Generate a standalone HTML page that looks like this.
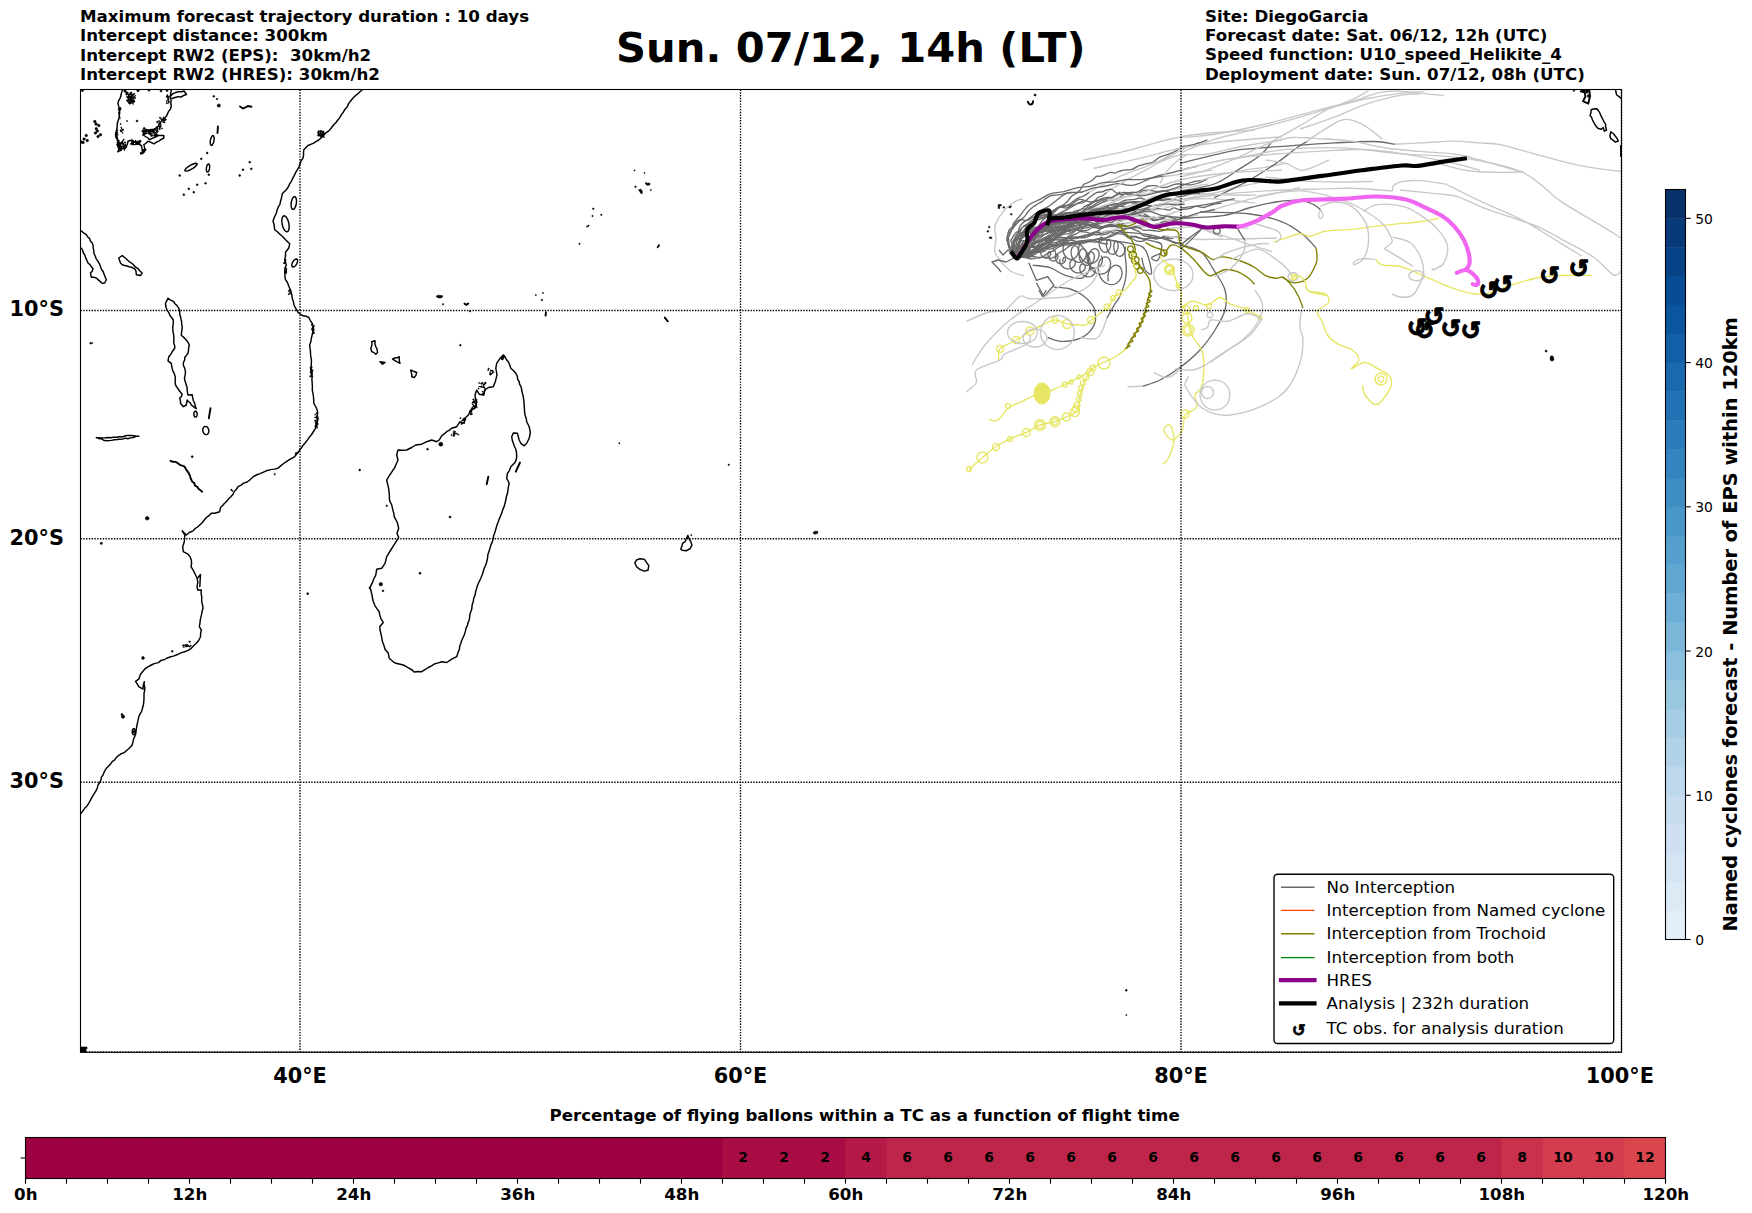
<!DOCTYPE html>
<html lang="en"><head><meta charset="utf-8"><title>Sun. 07/12, 14h (LT)</title>
<style>
html,body{margin:0;padding:0;background:#fff;}
body{width:1752px;height:1213px;overflow:hidden;position:relative;}
svg{position:absolute;left:0;top:0;display:block;}
text{font-family:"DejaVu Sans","Liberation Sans",sans-serif;fill:#000;}
.b{font-weight:bold;}
.h{font-size:16.67px;font-weight:bold;}
.tk{font-size:20.83px;font-weight:bold;}
.lg{font-size:16.67px;}
.cb{font-size:13.89px;}
.cv{font-size:13.89px;font-weight:bold;text-anchor:middle;}
.bt{font-size:16.67px;font-weight:bold;text-anchor:middle;}
.coast{fill:none;stroke:#000;stroke-width:1.45;stroke-linejoin:round;stroke-linecap:round;}
.coast3{fill:none;stroke:#000;stroke-width:1.1;stroke-linejoin:round;}
.coast2{fill:none;stroke:#000;stroke-width:1.9;stroke-linecap:round;}
.isl{fill:#000;stroke:#000;stroke-width:0.6;}
.grid{fill:none;stroke:#000;stroke-width:1.39;stroke-dasharray:1.39 1.39;}
.dg{fill:none;stroke:#696969;stroke-width:1.32;stroke-linejoin:round;}
.lgy{fill:none;stroke:#c8c8c8;stroke-width:1.38;stroke-linejoin:round;}
.ol{fill:none;stroke:#808000;stroke-width:1.38;stroke-linejoin:round;}
.ye{fill:none;stroke:#e6e664;stroke-width:1.38;stroke-linejoin:round;}
.yef{fill:#e6e664;stroke:#e6e664;stroke-width:1;}
.hres{fill:none;stroke:#8b008b;stroke-width:4.17;stroke-linejoin:round;stroke-linecap:round;}
.hres2{fill:none;stroke:#f066f0;stroke-width:4.17;stroke-linejoin:round;stroke-linecap:round;}
.ana{fill:none;stroke:#000;stroke-width:4.17;stroke-linejoin:round;stroke-linecap:square;}
.tc{font-size:24.8px;font-weight:bold;text-anchor:middle;stroke:#000;stroke-width:1px;stroke-linejoin:miter;}
</style></head><body>
<svg width="1752" height="1213" viewBox="0 0 1752 1213">
<rect x="0" y="0" width="1752" height="1213" fill="#fff"/>
<text class="h" x="80" y="22.00" xml:space="preserve">Maximum forecast trajectory duration : 10 days</text>
<text class="h" x="80" y="41.33" xml:space="preserve">Intercept distance: 300km</text>
<text class="h" x="80" y="60.66" xml:space="preserve">Intercept RW2 (EPS):  30km/h2</text>
<text class="h" x="80" y="79.99" xml:space="preserve">Intercept RW2 (HRES): 30km/h2</text>
<text class="h" x="1205" y="22.00" xml:space="preserve">Site: DiegoGarcia</text>
<text class="h" x="1205" y="41.33" xml:space="preserve">Forecast date: Sat. 06/12, 12h (UTC)</text>
<text class="h" x="1205" y="59.66" xml:space="preserve">Speed function: U10_speed_Helikite_4</text>
<text class="h" x="1205" y="79.99" xml:space="preserve">Deployment date: Sun. 07/12, 08h (UTC)</text>
<text class="b" x="850.8" y="62.2" text-anchor="middle" font-size="41.67">Sun. 07/12, 14h (LT)</text>
<defs><clipPath id="axclip"><rect x="80.5" y="89.5" width="1541.0" height="962.8"/></clipPath></defs>
<g clip-path="url(#axclip)">
<polyline class="coast" points="364.5,88.0 363.0,89.3 360.2,91.5 357.9,93.8 355.6,95.4 353.0,98.0 350.4,101.3 348.6,103.6 347.3,106.7 344.7,109.7 343.4,112.2 341.5,114.4 339.8,117.6 338.0,119.7 335.8,122.7 333.7,124.8 331.3,128.0 328.8,130.9 325.6,133.1 323.0,136.3 321.1,137.9 318.8,140.0 316.3,141.3 313.7,143.1 310.7,144.4 308.0,145.5 303.8,149.7 303.5,152.9 303.6,154.8 303.0,158.0 301.0,161.1 299.7,164.7 298.5,167.9 296.3,171.3 294.8,174.4 293.0,177.9 291.3,181.3 289.5,184.2 288.1,187.3 286.3,189.7 282.2,193.8 281.5,198.0 280.5,201.3 279.8,204.6 278.5,206.6 277.2,209.7 276.3,213.5 274.7,216.3 273.0,221.3 274.0,224.2 274.3,226.6 274.7,229.7 277.9,232.3 280.5,234.7 282.8,236.8 285.5,239.7 289.7,243.8 288.8,248.0 285.5,252.2 285.5,256.4 284.7,259.7 286.3,264.7 285.1,268.3 284.7,271.3 284.9,273.8 285.0,277.2 285.5,279.7 287.5,282.5 288.8,286.3 290.5,290.0 291.2,292.3 291.9,295.4 292.2,298.3 293.4,301.6 293.9,304.4 294.7,306.7 296.2,309.2 298.0,312.5 303.0,315.8 306.0,316.2 308.8,317.5 310.2,320.3 312.2,323.3 313.1,326.3 313.8,330.0 312.5,333.1 311.9,336.0 311.3,338.3 310.9,341.5 309.7,345.0 309.9,347.8 310.4,350.6 310.5,353.3 310.8,356.8 311.5,360.0 311.3,363.3 311.2,366.9 311.0,369.8 311.3,373.3 312.1,376.7 311.9,379.5 312.2,383.3 312.4,386.7 312.3,390.1 313.0,393.3 313.4,396.2 313.7,399.9 313.8,403.3 315.7,406.5 317.2,410.0 317.7,413.0 317.3,415.1 318.0,418.3 317.3,422.1 316.1,424.9 315.5,428.3 313.5,431.5 311.3,435.0 309.2,437.3 307.3,440.1 305.5,442.5 303.4,444.9 301.9,447.0 299.7,450.0 298.1,452.5 296.2,454.2 294.7,456.7 292.2,458.1 288.8,460.0 286.3,461.7 283.7,463.5 280.6,465.9 278.0,468.3 274.4,469.1 270.6,469.6 266.3,470.8 262.8,472.4 260.0,473.6 256.3,475.0 253.8,476.3 251.9,478.0 249.7,480.0 247.1,482.0 243.5,483.1 241.2,485.2 238.0,486.7 236.6,489.0 234.3,491.5 233.0,494.2 231.1,496.5 228.4,499.1 226.3,501.7 224.3,503.5 222.9,505.2 220.5,507.5 219.7,511.7 216.4,512.7 214.5,513.3 211.3,513.3 208.7,515.9 206.3,517.5 204.5,519.7 202.1,522.8 199.7,525.0 197.6,527.0 195.0,528.7 193.0,530.8 189.4,532.5 186.3,535.0 182.2,530.8 184.7,535.0 184.6,538.1 184.3,541.7 182.7,546.7 183.3,551.7 188.0,554.2 190.0,556.6 191.3,560.0 191.6,563.5 191.0,566.7 193.3,570.4 194.7,573.3 197.2,578.3 197.8,582.3 197.0,586.3 197.7,590.0 201.3,590.0 201.1,593.1 201.7,596.7 201.7,600.0 202.0,603.2 202.7,605.4 203.0,608.3 202.1,611.5 201.6,614.2 201.0,616.7 200.3,619.7 199.9,623.7 199.3,626.7 201.3,630.0 200.6,633.6 200.5,636.7 198.8,640.3 196.3,643.3 194.1,645.3 191.3,648.3 188.1,650.4 184.7,651.7 181.4,652.6 178.9,653.9 176.3,655.0 173.3,656.1 170.8,656.8 167.2,658.0 164.7,659.5 161.0,660.4 158.5,662.6 154.2,663.6 151.3,665.0 147.8,666.9 144.7,669.2 142.5,671.8 140.5,674.2 138.8,679.2 135.5,681.3 137.2,683.9 138.8,686.7 143.0,689.2 143.3,685.3 144.3,681.7 144.1,684.5 144.8,687.1 144.7,690.0 144.0,693.6 144.0,697.9 143.8,701.7 143.3,705.3 142.2,709.2 141.4,711.8 139.9,714.1 138.8,716.7 138.1,720.2 137.3,723.6 136.7,726.7 136.3,729.2 135.9,732.4 135.5,735.0 133.8,738.3 133.0,741.7 132.2,745.0 130.2,747.3 128.7,748.7 126.3,750.8 124.2,752.6 121.1,753.8 118.8,755.3 116.2,757.7 114.6,760.0 112.2,761.7 110.5,764.1 108.5,766.2 106.3,768.3 104.3,771.7 103.0,775.0 101.4,777.1 101.1,779.5 99.7,782.5 97.9,785.2 97.3,788.3 95.5,791.7 93.1,795.4 91.3,798.7 89.7,801.7 88.2,804.2 86.8,806.2 84.7,808.3 82.9,810.8 80.5,814.2"/>
<polyline class="coast" points="231.0,489.5 232.5,491.0"/>
<path class="isl" d="M322.3,133.9a0.8575789639290616,0.8575789639290616 0 1,0 1.7151579278581233,0a0.8575789639290616,0.8575789639290616 0 1,0 -1.7151579278581233,0z"/>
<path class="isl" d="M317.6,135.3a0.9672811722506567,0.9672811722506567 0 1,0 1.9345623445013134,0a0.9672811722506567,0.9672811722506567 0 1,0 -1.9345623445013134,0z"/>
<path class="isl" d="M317.4,132.7a0.7819886735842458,0.7819886735842458 0 1,0 1.5639773471684917,0a0.7819886735842458,0.7819886735842458 0 1,0 -1.5639773471684917,0z"/>
<path class="isl" d="M323.0,132.3a0.589886220715839,0.589886220715839 0 1,0 1.179772441431678,0a0.589886220715839,0.589886220715839 0 1,0 -1.179772441431678,0z"/>
<path class="isl" d="M318.7,134.5a0.8767716547199476,0.8767716547199476 0 1,0 1.7535433094398951,0a0.8767716547199476,0.8767716547199476 0 1,0 -1.7535433094398951,0z"/>
<path class="isl" d="M319.9,133.0a0.6983198297722816,0.6983198297722816 0 1,0 1.3966396595445632,0a0.6983198297722816,0.6983198297722816 0 1,0 -1.3966396595445632,0z"/>
<path class="isl" d="M319.7,133.3a0.5416302434180849,0.5416302434180849 0 1,0 1.0832604868361697,0a0.5416302434180849,0.5416302434180849 0 1,0 -1.0832604868361697,0z"/>
<path class="isl" d="M320.6,136.6a0.7064156861737472,0.7064156861737472 0 1,0 1.4128313723474943,0a0.7064156861737472,0.7064156861737472 0 1,0 -1.4128313723474943,0z"/>
<path class="isl" d="M322.2,131.8a0.8454190551057641,0.8454190551057641 0 1,0 1.6908381102115282,0a0.8454190551057641,0.8454190551057641 0 1,0 -1.6908381102115282,0z"/>
<path class="isl" d="M322.3,134.8a0.758546038290707,0.758546038290707 0 1,0 1.517092076581414,0a0.758546038290707,0.758546038290707 0 1,0 -1.517092076581414,0z"/>
<path class="isl" d="M320.2,134.7a0.9487006473822712,0.9487006473822712 0 1,0 1.8974012947645424,0a0.9487006473822712,0.9487006473822712 0 1,0 -1.8974012947645424,0z"/>
<path class="isl" d="M318.0,131.4a0.874077403856446,0.874077403856446 0 1,0 1.748154807712892,0a0.874077403856446,0.874077403856446 0 1,0 -1.748154807712892,0z"/>
<path class="isl" d="M323.5,133.9a0.7215267627927222,0.7215267627927222 0 1,0 1.4430535255854444,0a0.7215267627927222,0.7215267627927222 0 1,0 -1.4430535255854444,0z"/>
<path class="isl" d="M322.2,131.9a0.6336786812247795,0.6336786812247795 0 1,0 1.267357362449559,0a0.6336786812247795,0.6336786812247795 0 1,0 -1.267357362449559,0z"/>
<path class="isl" d="M318.5,134.3a0.6574237642243101,0.6574237642243101 0 1,0 1.3148475284486203,0a0.6574237642243101,0.6574237642243101 0 1,0 -1.3148475284486203,0z"/>
<path class="isl" d="M318.4,134.9a0.9767127773893447,0.9767127773893447 0 1,0 1.9534255547786894,0a0.9767127773893447,0.9767127773893447 0 1,0 -1.9534255547786894,0z"/>
<polyline class="coast3" points="320.2,133.2 320.9,130.2 322.2,132.2 322.3,132.7 322.0,135.0 321.6,136.1 321.4,134.1 324.5,137.3 320.0,136.0 320.6,135.9 319.7,134.0 318.5,135.3 320.1,134.0 318.2,134.3 319.1,134.0 318.7,134.1"/>
<polyline class="coast" points="296.4,203.4 295.7,206.1 294.7,208.3 293.5,209.4 292.3,209.2 291.5,207.8 291.1,205.5 291.2,202.6 291.9,199.9 292.9,197.7 294.1,196.6 295.3,196.8 296.1,198.2 296.5,200.5 296.4,203.4"/>
<polyline class="coast" points="288.8,223.1 289.2,226.6 288.9,229.6 287.9,231.5 286.4,231.8 284.8,230.5 283.2,227.9 282.2,224.5 281.8,221.0 282.1,218.0 283.1,216.1 284.6,215.8 286.2,217.1 287.8,219.7 288.8,223.1"/>
<polyline class="coast" points="296.6,264.1 295.4,265.7 294.1,266.7 292.9,267.0 292.1,266.6 291.8,265.4 292.0,263.7 292.8,261.9 294.0,260.3 295.3,259.3 296.5,259.0 297.3,259.4 297.6,260.6 297.4,262.3 296.6,264.1"/>
<polyline class="coast" points="197.7,578.0 200.5,574.5 199.8,586.5"/>
<path class="isl" d="M183.2,647.0a0.5875290163668816,0.5875290163668816 0 1,0 1.1750580327337632,0a0.5875290163668816,0.5875290163668816 0 1,0 -1.1750580327337632,0z"/>
<path class="isl" d="M185.2,646.2a0.7026522085144565,0.7026522085144565 0 1,0 1.405304417028913,0a0.7026522085144565,0.7026522085144565 0 1,0 -1.405304417028913,0z"/>
<path class="isl" d="M182.4,645.5a0.6308664024912023,0.6308664024912023 0 1,0 1.2617328049824046,0a0.6308664024912023,0.6308664024912023 0 1,0 -1.2617328049824046,0z"/>
<path class="isl" d="M186.2,645.1a0.6755316184663085,0.6755316184663085 0 1,0 1.351063236932617,0a0.6755316184663085,0.6755316184663085 0 1,0 -1.351063236932617,0z"/>
<path class="isl" d="M190.0,645.7a0.6633069604310697,0.6633069604310697 0 1,0 1.3266139208621395,0a0.6633069604310697,0.6633069604310697 0 1,0 -1.3266139208621395,0z"/>
<path class="isl" d="M183.3,645.3a0.6996299157274394,0.6996299157274394 0 1,0 1.3992598314548788,0a0.6996299157274394,0.6996299157274394 0 1,0 -1.3992598314548788,0z"/>
<polyline class="coast3" points="185.0,644.9 187.5,644.8 190.0,647.0 187.7,645.8 188.7,645.8 186.2,647.0"/>
<path class="isl" d="M171.3,651.3a0.9,0.9 0 1,0 1.8,0a0.9,0.9 0 1,0 -1.8,0z"/>
<path class="isl" d="M188.9,641.7a0.8,0.8 0 1,0 1.6,0a0.8,0.8 0 1,0 -1.6,0z"/>
<path class="isl" d="M141.6,658.0a1.4,1.4 0 1,0 2.8,0a1.4,1.4 0 1,0 -2.8,0z"/>
<path class="isl" d="M121.4,716.7a1.6,1.6 0 1,0 3.2,0a1.6,1.6 0 1,0 -3.2,0z"/>
<path class="isl" d="M121.0,714.5a1.0,1.0 0 1,0 2.0,0a1.0,1.0 0 1,0 -2.0,0z"/>
<polyline class="coast" points="135.3,731.7 135.2,733.1 134.7,734.2 134.1,734.8 133.5,734.8 132.9,734.2 132.4,733.1 132.3,731.7 132.4,730.3 132.9,729.2 133.5,728.6 134.1,728.6 134.7,729.2 135.2,730.3 135.3,731.7"/>
<path class="isl" d="M132.6,731.7a1.2,1.2 0 1,0 2.4,0a1.2,1.2 0 1,0 -2.4,0z"/>
<path class="isl" d="M312.1,328.9a0.6436186616039627,0.6436186616039627 0 1,0 1.2872373232079255,0a0.6436186616039627,0.6436186616039627 0 1,0 -1.2872373232079255,0z"/>
<path class="isl" d="M312.8,331.9a0.5363959575382387,0.5363959575382387 0 1,0 1.0727919150764773,0a0.5363959575382387,0.5363959575382387 0 1,0 -1.0727919150764773,0z"/>
<path class="isl" d="M312.7,332.8a0.5358208840650012,0.5358208840650012 0 1,0 1.0716417681300023,0a0.5358208840650012,0.5358208840650012 0 1,0 -1.0716417681300023,0z"/>
<path class="isl" d="M313.4,333.2a0.5246261642995712,0.5246261642995712 0 1,0 1.0492523285991424,0a0.5246261642995712,0.5246261642995712 0 1,0 -1.0492523285991424,0z"/>
<path class="isl" d="M313.5,326.0a0.5663059825375344,0.5663059825375344 0 1,0 1.1326119650750688,0a0.5663059825375344,0.5663059825375344 0 1,0 -1.1326119650750688,0z"/>
<path class="isl" d="M312.9,332.4a0.6109847654410694,0.6109847654410694 0 1,0 1.2219695308821388,0a0.6109847654410694,0.6109847654410694 0 1,0 -1.2219695308821388,0z"/>
<path class="isl" d="M312.7,330.4a0.5624885451528601,0.5624885451528601 0 1,0 1.1249770903057201,0a0.5624885451528601,0.5624885451528601 0 1,0 -1.1249770903057201,0z"/>
<path class="isl" d="M311.2,325.0a0.6431670877057863,0.6431670877057863 0 1,0 1.2863341754115727,0a0.6431670877057863,0.6431670877057863 0 1,0 -1.2863341754115727,0z"/>
<polyline class="coast3" points="312.3,330.9 312.9,327.9 311.6,329.5 312.8,326.8 312.9,330.3 312.8,327.9 312.7,334.3 312.4,333.9"/>
<path class="isl" d="M310.1,367.6a0.5833310673686104,0.5833310673686104 0 1,0 1.1666621347372208,0a0.5833310673686104,0.5833310673686104 0 1,0 -1.1666621347372208,0z"/>
<path class="isl" d="M311.5,376.4a0.6497400837070885,0.6497400837070885 0 1,0 1.299480167414177,0a0.6497400837070885,0.6497400837070885 0 1,0 -1.299480167414177,0z"/>
<path class="isl" d="M311.2,367.1a0.5796838846775825,0.5796838846775825 0 1,0 1.159367769355165,0a0.5796838846775825,0.5796838846775825 0 1,0 -1.159367769355165,0z"/>
<path class="isl" d="M310.1,372.4a0.6136736410541667,0.6136736410541667 0 1,0 1.2273472821083333,0a0.6136736410541667,0.6136736410541667 0 1,0 -1.2273472821083333,0z"/>
<path class="isl" d="M310.1,368.5a0.6563325886324305,0.6563325886324305 0 1,0 1.312665177264861,0a0.6563325886324305,0.6563325886324305 0 1,0 -1.312665177264861,0z"/>
<path class="isl" d="M309.6,376.2a0.678240022670071,0.678240022670071 0 1,0 1.356480045340142,0a0.678240022670071,0.678240022670071 0 1,0 -1.356480045340142,0z"/>
<path class="isl" d="M312.0,370.4a0.6105212806257067,0.6105212806257067 0 1,0 1.2210425612514133,0a0.6105212806257067,0.6105212806257067 0 1,0 -1.2210425612514133,0z"/>
<path class="isl" d="M311.0,373.9a0.6953953348533486,0.6953953348533486 0 1,0 1.3907906697066972,0a0.6953953348533486,0.6953953348533486 0 1,0 -1.3907906697066972,0z"/>
<polyline class="coast3" points="310.8,371.5 310.7,368.8 311.9,369.0 311.3,369.4 311.1,368.7 312.5,372.1 312.2,372.9 311.8,375.8"/>
<path class="isl" d="M314.6,417.5a0.5466827578931359,0.5466827578931359 0 1,0 1.0933655157862718,0a0.5466827578931359,0.5466827578931359 0 1,0 -1.0933655157862718,0z"/>
<path class="isl" d="M314.5,420.7a0.6859645148212266,0.6859645148212266 0 1,0 1.3719290296424531,0a0.6859645148212266,0.6859645148212266 0 1,0 -1.3719290296424531,0z"/>
<path class="isl" d="M315.3,426.7a0.6389319430193563,0.6389319430193563 0 1,0 1.2778638860387126,0a0.6389319430193563,0.6389319430193563 0 1,0 -1.2778638860387126,0z"/>
<path class="isl" d="M314.8,426.4a0.6202251848211096,0.6202251848211096 0 1,0 1.240450369642219,0a0.6202251848211096,0.6202251848211096 0 1,0 -1.240450369642219,0z"/>
<path class="isl" d="M317.1,423.9a0.6479439303191551,0.6479439303191551 0 1,0 1.2958878606383102,0a0.6479439303191551,0.6479439303191551 0 1,0 -1.2958878606383102,0z"/>
<path class="isl" d="M315.3,425.5a0.6863479928126001,0.6863479928126001 0 1,0 1.3726959856252001,0a0.6863479928126001,0.6863479928126001 0 1,0 -1.3726959856252001,0z"/>
<path class="isl" d="M316.9,418.9a0.6513698849393269,0.6513698849393269 0 1,0 1.3027397698786538,0a0.6513698849393269,0.6513698849393269 0 1,0 -1.3027397698786538,0z"/>
<path class="isl" d="M315.9,413.0a0.5085403120644035,0.5085403120644035 0 1,0 1.017080624128807,0a0.5085403120644035,0.5085403120644035 0 1,0 -1.017080624128807,0z"/>
<path class="isl" d="M314.7,414.6a0.5321644520632836,0.5321644520632836 0 1,0 1.064328904126567,0a0.5321644520632836,0.5321644520632836 0 1,0 -1.064328904126567,0z"/>
<path class="isl" d="M315.9,423.6a0.6074871388849403,0.6074871388849403 0 1,0 1.2149742777698807,0a0.6074871388849403,0.6074871388849403 0 1,0 -1.2149742777698807,0z"/>
<polyline class="coast3" points="316.1,418.3 316.4,416.0 316.6,417.7 316.5,415.7 317.0,420.0 317.1,428.3 316.2,424.5 315.9,423.8 315.6,422.9 316.0,420.7"/>
<path class="isl" d="M296.5,453.2a0.6406886528640979,0.6406886528640979 0 1,0 1.2813773057281959,0a0.6406886528640979,0.6406886528640979 0 1,0 -1.2813773057281959,0z"/>
<path class="isl" d="M295.4,453.2a0.5793217666346446,0.5793217666346446 0 1,0 1.1586435332692893,0a0.5793217666346446,0.5793217666346446 0 1,0 -1.1586435332692893,0z"/>
<path class="isl" d="M295.3,454.9a0.5437820974611681,0.5437820974611681 0 1,0 1.0875641949223362,0a0.5437820974611681,0.5437820974611681 0 1,0 -1.0875641949223362,0z"/>
<path class="isl" d="M295.5,453.4a0.5329518278434544,0.5329518278434544 0 1,0 1.0659036556869088,0a0.5329518278434544,0.5329518278434544 0 1,0 -1.0659036556869088,0z"/>
<polyline class="coast3" points="297.2,452.9 296.8,453.0 297.5,452.7 297.5,453.7"/>
<path class="isl" d="M289.6,293.8a0.5344739141442212,0.5344739141442212 0 1,0 1.0689478282884424,0a0.5344739141442212,0.5344739141442212 0 1,0 -1.0689478282884424,0z"/>
<path class="isl" d="M288.1,294.1a0.5969267361532036,0.5969267361532036 0 1,0 1.1938534723064071,0a0.5969267361532036,0.5969267361532036 0 1,0 -1.1938534723064071,0z"/>
<path class="isl" d="M289.2,290.0a0.5030301702624801,0.5030301702624801 0 1,0 1.0060603405249602,0a0.5030301702624801,0.5030301702624801 0 1,0 -1.0060603405249602,0z"/>
<path class="isl" d="M288.2,291.0a0.503660599501316,0.503660599501316 0 1,0 1.007321199002632,0a0.503660599501316,0.503660599501316 0 1,0 -1.007321199002632,0z"/>
<polyline class="coast3" points="289.8,292.4 289.9,290.0 290.0,292.7 290.2,293.7"/>
<path class="isl" d="M285.1,259.9a0.5293433533490528,0.5293433533490528 0 1,0 1.0586867066981056,0a0.5293433533490528,0.5293433533490528 0 1,0 -1.0586867066981056,0z"/>
<path class="isl" d="M284.9,260.1a0.538986340572881,0.538986340572881 0 1,0 1.077972681145762,0a0.538986340572881,0.538986340572881 0 1,0 -1.077972681145762,0z"/>
<path class="isl" d="M283.8,262.9a0.5928519400975147,0.5928519400975147 0 1,0 1.1857038801950295,0a0.5928519400975147,0.5928519400975147 0 1,0 -1.1857038801950295,0z"/>
<path class="isl" d="M283.5,263.2a0.5733951109542429,0.5733951109542429 0 1,0 1.1467902219084858,0a0.5733951109542429,0.5733951109542429 0 1,0 -1.1467902219084858,0z"/>
<polyline class="coast3" points="285.0,260.7 284.8,260.7 285.1,261.5 284.4,262.4"/>
<path class="isl" d="M285.9,269.1a0.5487113923152787,0.5487113923152787 0 1,0 1.0974227846305573,0a0.5487113923152787,0.5487113923152787 0 1,0 -1.0974227846305573,0z"/>
<path class="isl" d="M284.8,271.7a0.5022953643074604,0.5022953643074604 0 1,0 1.0045907286149207,0a0.5022953643074604,0.5022953643074604 0 1,0 -1.0045907286149207,0z"/>
<path class="isl" d="M285.4,272.1a0.5677330975686022,0.5677330975686022 0 1,0 1.1354661951372045,0a0.5677330975686022,0.5677330975686022 0 1,0 -1.1354661951372045,0z"/>
<path class="isl" d="M284.6,267.9a0.5843654951463223,0.5843654951463223 0 1,0 1.1687309902926446,0a0.5843654951463223,0.5843654951463223 0 1,0 -1.1687309902926446,0z"/>
<path class="isl" d="M285.7,273.0a0.5872258015335938,0.5872258015335938 0 1,0 1.1744516030671877,0a0.5872258015335938,0.5872258015335938 0 1,0 -1.1744516030671877,0z"/>
<polyline class="coast3" points="286.0,268.3 286.5,271.5 285.0,272.8 285.0,271.3 285.9,270.5"/>
<polyline class="coast2" points="170.5,460.8 172.6,461.8 175.6,461.9 178.0,463.3 179.9,464.9 182.2,465.6 184.7,466.7 186.0,469.2 187.5,471.4 188.8,473.3 190.0,475.8 190.7,478.4 192.2,481.7 194.2,482.9 195.0,485.5 197.2,486.7 198.5,488.8 200.1,490.0 202.2,491.7"/>
<polyline class="coast" points="123.0,89.0 121.7,92.2 121.1,94.8 120.3,97.8 118.8,100.3 118.0,103.0 118.4,105.1 119.2,108.1 119.6,110.2 119.7,113.0 119.2,115.6 119.0,117.9 118.0,121.0 117.2,123.7 117.2,126.3 116.9,129.0 116.2,132.0 115.5,134.7 116.0,137.3 117.7,140.1 118.0,143.0 118.5,144.8 118.8,147.1 119.7,149.7 122.0,146.0 125.0,148.5 126.5,146.3 127.4,144.2 128.0,141.3 132.0,140.0 134.3,142.0 136.3,143.0 138.8,144.2 141.3,145.5 142.1,148.7 142.4,151.0 142.2,153.8 144.7,151.3 144.7,149.0 144.6,147.4 143.8,144.7 145.7,143.5 148.0,141.3 150.6,142.1 153.8,143.8 156.5,142.1 158.8,141.1 160.8,139.7 163.8,138.0 163.8,135.5 160.7,135.4 158.0,135.5 155.1,137.2 152.7,138.1 149.7,139.7 148.0,138.0 145.5,136.5 143.8,135.5 143.8,131.3 146.7,130.0 149.7,129.7 151.5,129.4 154.3,129.1 156.3,128.0 158.5,126.2 159.5,123.2 161.3,121.3 162.8,119.6 164.7,118.0 166.3,116.3 167.4,114.2 168.6,111.3 170.5,109.1 171.3,106.3 170.8,103.3 171.1,100.2 170.5,98.0 170.4,95.0 171.1,91.6 171.3,89.0"/>
<polyline class="coast" points="171.0,95.5 173.0,93.6 176.0,92.3 179.0,91.8 181.9,91.7 184.0,91.0 186.5,94.5 184.3,95.2 181.0,97.0 178.2,96.6 176.0,97.3 172.0,98.5"/>
<path class="isl" d="M128.8,95.9a0.5358838664177115,0.5358838664177115 0 1,0 1.071767732835423,0a0.5358838664177115,0.5358838664177115 0 1,0 -1.071767732835423,0z"/>
<path class="isl" d="M129.7,93.4a0.7181306353450209,0.7181306353450209 0 1,0 1.4362612706900417,0a0.7181306353450209,0.7181306353450209 0 1,0 -1.4362612706900417,0z"/>
<path class="isl" d="M126.7,100.5a0.7927530378552186,0.7927530378552186 0 1,0 1.5855060757104371,0a0.7927530378552186,0.7927530378552186 0 1,0 -1.5855060757104371,0z"/>
<path class="isl" d="M126.8,92.9a0.8006941529074354,0.8006941529074354 0 1,0 1.6013883058148708,0a0.8006941529074354,0.8006941529074354 0 1,0 -1.6013883058148708,0z"/>
<path class="isl" d="M130.1,99.3a1.1387865754437871,1.1387865754437871 0 1,0 2.2775731508875743,0a1.1387865754437871,1.1387865754437871 0 1,0 -2.2775731508875743,0z"/>
<path class="isl" d="M132.5,95.0a0.5949658007961576,0.5949658007961576 0 1,0 1.1899316015923151,0a0.5949658007961576,0.5949658007961576 0 1,0 -1.1899316015923151,0z"/>
<path class="isl" d="M131.7,100.4a0.856181131492576,0.856181131492576 0 1,0 1.712362262985152,0a0.856181131492576,0.856181131492576 0 1,0 -1.712362262985152,0z"/>
<path class="isl" d="M132.6,98.0a0.6957153492542567,0.6957153492542567 0 1,0 1.3914306985085134,0a0.6957153492542567,0.6957153492542567 0 1,0 -1.3914306985085134,0z"/>
<path class="isl" d="M125.7,92.7a0.9501652810148733,0.9501652810148733 0 1,0 1.9003305620297466,0a0.9501652810148733,0.9501652810148733 0 1,0 -1.9003305620297466,0z"/>
<path class="isl" d="M133.1,101.6a0.8272408557295443,0.8272408557295443 0 1,0 1.6544817114590886,0a0.8272408557295443,0.8272408557295443 0 1,0 -1.6544817114590886,0z"/>
<path class="isl" d="M130.6,101.8a1.0698066099302674,1.0698066099302674 0 1,0 2.139613219860535,0a1.0698066099302674,1.0698066099302674 0 1,0 -2.139613219860535,0z"/>
<path class="isl" d="M130.2,96.6a0.8628866832144954,0.8628866832144954 0 1,0 1.7257733664289907,0a0.8628866832144954,0.8628866832144954 0 1,0 -1.7257733664289907,0z"/>
<path class="isl" d="M125.7,94.3a0.978651773912437,0.978651773912437 0 1,0 1.957303547824874,0a0.978651773912437,0.978651773912437 0 1,0 -1.957303547824874,0z"/>
<path class="isl" d="M134.1,98.0a0.785701933815492,0.785701933815492 0 1,0 1.571403867630984,0a0.785701933815492,0.785701933815492 0 1,0 -1.571403867630984,0z"/>
<path class="isl" d="M127.5,97.0a1.0620623430527876,1.0620623430527876 0 1,0 2.124124686105575,0a1.0620623430527876,1.0620623430527876 0 1,0 -2.124124686105575,0z"/>
<path class="isl" d="M128.9,102.1a0.6087134287063429,0.6087134287063429 0 1,0 1.2174268574126859,0a0.6087134287063429,0.6087134287063429 0 1,0 -1.2174268574126859,0z"/>
<path class="isl" d="M127.4,97.7a0.7883135314278333,0.7883135314278333 0 1,0 1.5766270628556667,0a0.7883135314278333,0.7883135314278333 0 1,0 -1.5766270628556667,0z"/>
<path class="isl" d="M132.4,100.8a1.1519281157095143,1.1519281157095143 0 1,0 2.3038562314190285,0a1.1519281157095143,1.1519281157095143 0 1,0 -2.3038562314190285,0z"/>
<path class="isl" d="M130.2,92.8a0.9021560856581516,0.9021560856581516 0 1,0 1.8043121713163033,0a0.9021560856581516,0.9021560856581516 0 1,0 -1.8043121713163033,0z"/>
<path class="isl" d="M129.8,97.4a0.6958946485062253,0.6958946485062253 0 1,0 1.3917892970124506,0a0.6958946485062253,0.6958946485062253 0 1,0 -1.3917892970124506,0z"/>
<path class="isl" d="M131.5,101.6a0.5717202321039926,0.5717202321039926 0 1,0 1.1434404642079852,0a0.5717202321039926,0.5717202321039926 0 1,0 -1.1434404642079852,0z"/>
<path class="isl" d="M130.8,96.2a0.8603550876744244,0.8603550876744244 0 1,0 1.7207101753488487,0a0.8603550876744244,0.8603550876744244 0 1,0 -1.7207101753488487,0z"/>
<polyline class="coast3" points="126.1,96.9 129.3,97.3 129.0,96.3 128.4,94.4 131.8,94.6 134.8,93.8 130.1,97.3 131.3,96.8 131.7,98.3 135.4,95.7 131.5,98.3 133.3,104.2 130.3,98.4 129.7,98.7 130.5,103.5 133.2,101.6 128.8,103.4 129.2,99.2 126.7,100.5 130.0,104.2 129.0,99.7 128.1,97.7"/>
<path class="isl" d="M155.4,135.5a1.1859465527152317,1.1859465527152317 0 1,0 2.3718931054304635,0a1.1859465527152317,1.1859465527152317 0 1,0 -2.3718931054304635,0z"/>
<path class="isl" d="M145.0,131.0a1.1655863279588705,1.1655863279588705 0 1,0 2.331172655917741,0a1.1655863279588705,1.1655863279588705 0 1,0 -2.331172655917741,0z"/>
<path class="isl" d="M149.1,133.4a0.7192902612008447,0.7192902612008447 0 1,0 1.4385805224016894,0a0.7192902612008447,0.7192902612008447 0 1,0 -1.4385805224016894,0z"/>
<path class="isl" d="M141.8,130.9a1.0237231895166865,1.0237231895166865 0 1,0 2.047446379033373,0a1.0237231895166865,1.0237231895166865 0 1,0 -2.047446379033373,0z"/>
<path class="isl" d="M153.4,132.5a0.8248477196438759,0.8248477196438759 0 1,0 1.6496954392877519,0a0.8248477196438759,0.8248477196438759 0 1,0 -1.6496954392877519,0z"/>
<path class="isl" d="M149.7,131.6a0.8741051466716414,0.8741051466716414 0 1,0 1.7482102933432828,0a0.8741051466716414,0.8741051466716414 0 1,0 -1.7482102933432828,0z"/>
<path class="isl" d="M154.1,129.9a0.9160175860442576,0.9160175860442576 0 1,0 1.8320351720885153,0a0.9160175860442576,0.9160175860442576 0 1,0 -1.8320351720885153,0z"/>
<path class="isl" d="M155.9,134.4a0.625619923401735,0.625619923401735 0 1,0 1.25123984680347,0a0.625619923401735,0.625619923401735 0 1,0 -1.25123984680347,0z"/>
<path class="isl" d="M156.3,134.4a0.6175428131359146,0.6175428131359146 0 1,0 1.2350856262718293,0a0.6175428131359146,0.6175428131359146 0 1,0 -1.2350856262718293,0z"/>
<path class="isl" d="M146.0,129.9a0.5371448421665336,0.5371448421665336 0 1,0 1.0742896843330672,0a0.5371448421665336,0.5371448421665336 0 1,0 -1.0742896843330672,0z"/>
<path class="isl" d="M156.1,131.4a1.1108774097600458,1.1108774097600458 0 1,0 2.2217548195200916,0a1.1108774097600458,1.1108774097600458 0 1,0 -2.2217548195200916,0z"/>
<path class="isl" d="M143.1,128.6a1.1088451376986233,1.1088451376986233 0 1,0 2.2176902753972465,0a1.1088451376986233,1.1088451376986233 0 1,0 -2.2176902753972465,0z"/>
<path class="isl" d="M153.4,135.4a0.9798304256941331,0.9798304256941331 0 1,0 1.9596608513882663,0a0.9798304256941331,0.9798304256941331 0 1,0 -1.9596608513882663,0z"/>
<path class="isl" d="M149.8,133.9a0.5647701242893386,0.5647701242893386 0 1,0 1.1295402485786772,0a0.5647701242893386,0.5647701242893386 0 1,0 -1.1295402485786772,0z"/>
<path class="isl" d="M150.0,131.6a0.6024365932742223,0.6024365932742223 0 1,0 1.2048731865484446,0a0.6024365932742223,0.6024365932742223 0 1,0 -1.2048731865484446,0z"/>
<path class="isl" d="M150.7,130.8a0.8544714785708357,0.8544714785708357 0 1,0 1.7089429571416714,0a0.8544714785708357,0.8544714785708357 0 1,0 -1.7089429571416714,0z"/>
<path class="isl" d="M147.4,130.7a0.7509078762811018,0.7509078762811018 0 1,0 1.5018157525622036,0a0.7509078762811018,0.7509078762811018 0 1,0 -1.5018157525622036,0z"/>
<path class="isl" d="M150.4,135.4a1.1553057785392544,1.1553057785392544 0 1,0 2.310611557078509,0a1.1553057785392544,1.1553057785392544 0 1,0 -2.310611557078509,0z"/>
<path class="isl" d="M154.7,134.3a0.7007556742674264,0.7007556742674264 0 1,0 1.4015113485348527,0a0.7007556742674264,0.7007556742674264 0 1,0 -1.4015113485348527,0z"/>
<path class="isl" d="M156.6,130.4a0.5862254256117989,0.5862254256117989 0 1,0 1.1724508512235978,0a0.5862254256117989,0.5862254256117989 0 1,0 -1.1724508512235978,0z"/>
<path class="isl" d="M149.3,133.6a0.738709322439101,0.738709322439101 0 1,0 1.477418644878202,0a0.738709322439101,0.738709322439101 0 1,0 -1.477418644878202,0z"/>
<path class="isl" d="M151.0,130.5a1.1768526299804645,1.1768526299804645 0 1,0 2.353705259960929,0a1.1768526299804645,1.1768526299804645 0 1,0 -2.353705259960929,0z"/>
<path class="isl" d="M148.4,131.8a0.8720014881495524,0.8720014881495524 0 1,0 1.7440029762991047,0a0.8720014881495524,0.8720014881495524 0 1,0 -1.7440029762991047,0z"/>
<path class="isl" d="M154.8,135.4a0.8699355703949649,0.8699355703949649 0 1,0 1.7398711407899299,0a0.8699355703949649,0.8699355703949649 0 1,0 -1.7398711407899299,0z"/>
<polyline class="coast3" points="142.2,131.1 142.9,131.0 148.3,131.5 145.8,129.2 148.5,131.4 144.3,131.4 149.3,131.2 149.2,130.5 153.3,131.1 153.2,129.2 153.6,129.6 153.4,132.7 152.5,130.9 156.5,133.2 152.7,132.7 150.6,133.6 148.7,133.9 149.8,132.4 148.3,132.9 142.5,135.1 143.5,133.4 147.2,133.0 145.4,132.8 142.6,132.5"/>
<path class="isl" d="M116.8,140.6a0.8359578463350882,0.8359578463350882 0 1,0 1.6719156926701764,0a0.8359578463350882,0.8359578463350882 0 1,0 -1.6719156926701764,0z"/>
<path class="isl" d="M119.7,149.4a1.0785407294484255,1.0785407294484255 0 1,0 2.157081458896851,0a1.0785407294484255,1.0785407294484255 0 1,0 -2.157081458896851,0z"/>
<path class="isl" d="M119.1,144.7a0.9079995658859996,0.9079995658859996 0 1,0 1.8159991317719992,0a0.9079995658859996,0.9079995658859996 0 1,0 -1.8159991317719992,0z"/>
<path class="isl" d="M124.2,142.5a0.7743099799053068,0.7743099799053068 0 1,0 1.5486199598106136,0a0.7743099799053068,0.7743099799053068 0 1,0 -1.5486199598106136,0z"/>
<path class="isl" d="M117.3,146.9a0.5185908111335331,0.5185908111335331 0 1,0 1.0371816222670662,0a0.5185908111335331,0.5185908111335331 0 1,0 -1.0371816222670662,0z"/>
<path class="isl" d="M124.5,145.7a0.9017322933697562,0.9017322933697562 0 1,0 1.8034645867395125,0a0.9017322933697562,0.9017322933697562 0 1,0 -1.8034645867395125,0z"/>
<path class="isl" d="M116.9,142.8a0.8281448228435122,0.8281448228435122 0 1,0 1.6562896456870244,0a0.8281448228435122,0.8281448228435122 0 1,0 -1.6562896456870244,0z"/>
<path class="isl" d="M124.0,145.9a0.6992332990519944,0.6992332990519944 0 1,0 1.3984665981039888,0a0.6992332990519944,0.6992332990519944 0 1,0 -1.3984665981039888,0z"/>
<path class="isl" d="M125.0,147.1a0.869866485585364,0.869866485585364 0 1,0 1.739732971170728,0a0.869866485585364,0.869866485585364 0 1,0 -1.739732971170728,0z"/>
<path class="isl" d="M117.7,143.5a1.1298959703119027,1.1298959703119027 0 1,0 2.2597919406238054,0a1.1298959703119027,1.1298959703119027 0 1,0 -2.2597919406238054,0z"/>
<path class="isl" d="M117.3,145.8a0.9339748260575961,0.9339748260575961 0 1,0 1.8679496521151921,0a0.9339748260575961,0.9339748260575961 0 1,0 -1.8679496521151921,0z"/>
<path class="isl" d="M119.1,148.2a1.136969761619622,1.136969761619622 0 1,0 2.273939523239244,0a1.136969761619622,1.136969761619622 0 1,0 -2.273939523239244,0z"/>
<path class="isl" d="M124.1,147.9a0.6425062053869884,0.6425062053869884 0 1,0 1.2850124107739769,0a0.6425062053869884,0.6425062053869884 0 1,0 -1.2850124107739769,0z"/>
<path class="isl" d="M116.8,144.8a0.7184630672689027,0.7184630672689027 0 1,0 1.4369261345378055,0a0.7184630672689027,0.7184630672689027 0 1,0 -1.4369261345378055,0z"/>
<path class="isl" d="M118.1,149.2a0.6512496033951756,0.6512496033951756 0 1,0 1.3024992067903511,0a0.6512496033951756,0.6512496033951756 0 1,0 -1.3024992067903511,0z"/>
<path class="isl" d="M123.8,149.9a0.5838113669285965,0.5838113669285965 0 1,0 1.167622733857193,0a0.5838113669285965,0.5838113669285965 0 1,0 -1.167622733857193,0z"/>
<path class="isl" d="M124.6,144.5a0.6483657972573261,0.6483657972573261 0 1,0 1.2967315945146523,0a0.6483657972573261,0.6483657972573261 0 1,0 -1.2967315945146523,0z"/>
<path class="isl" d="M117.8,140.9a0.849129977619856,0.849129977619856 0 1,0 1.698259955239712,0a0.849129977619856,0.849129977619856 0 1,0 -1.698259955239712,0z"/>
<path class="isl" d="M119.4,149.0a1.0831084505502382,1.0831084505502382 0 1,0 2.1662169011004764,0a1.0831084505502382,1.0831084505502382 0 1,0 -2.1662169011004764,0z"/>
<path class="isl" d="M116.7,144.5a0.7724347141117737,0.7724347141117737 0 1,0 1.5448694282235473,0a0.7724347141117737,0.7724347141117737 0 1,0 -1.5448694282235473,0z"/>
<path class="isl" d="M117.9,143.0a0.684346112884555,0.684346112884555 0 1,0 1.36869222576911,0a0.684346112884555,0.684346112884555 0 1,0 -1.36869222576911,0z"/>
<path class="isl" d="M122.7,143.9a0.5778084355990619,0.5778084355990619 0 1,0 1.1556168711981238,0a0.5778084355990619,0.5778084355990619 0 1,0 -1.1556168711981238,0z"/>
<polyline class="coast3" points="120.0,144.8 118.0,143.3 117.4,144.3 120.9,143.9 119.0,143.6 120.1,142.6 121.1,143.4 124.1,139.2 121.2,142.4 121.0,143.9 122.9,143.3 122.5,140.9 123.5,147.3 123.1,149.0 121.9,148.0 121.0,150.6 117.5,152.0 120.8,145.8 119.1,146.4 119.4,147.3 120.2,145.7 118.7,145.7"/>
<path class="isl" d="M131.8,143.3a0.6598382253765477,0.6598382253765477 0 1,0 1.3196764507530954,0a0.6598382253765477,0.6598382253765477 0 1,0 -1.3196764507530954,0z"/>
<path class="isl" d="M137.3,141.4a0.6971969808093756,0.6971969808093756 0 1,0 1.3943939616187513,0a0.6971969808093756,0.6971969808093756 0 1,0 -1.3943939616187513,0z"/>
<path class="isl" d="M132.5,142.5a0.7881890064690903,0.7881890064690903 0 1,0 1.5763780129381806,0a0.7881890064690903,0.7881890064690903 0 1,0 -1.5763780129381806,0z"/>
<path class="isl" d="M131.7,140.8a0.7411340054193482,0.7411340054193482 0 1,0 1.4822680108386963,0a0.7411340054193482,0.7411340054193482 0 1,0 -1.4822680108386963,0z"/>
<path class="isl" d="M132.7,143.0a0.5835875090925222,0.5835875090925222 0 1,0 1.1671750181850444,0a0.5835875090925222,0.5835875090925222 0 1,0 -1.1671750181850444,0z"/>
<path class="isl" d="M131.4,143.2a0.961593644273246,0.961593644273246 0 1,0 1.923187288546492,0a0.961593644273246,0.961593644273246 0 1,0 -1.923187288546492,0z"/>
<path class="isl" d="M138.6,143.1a0.6986547942243271,0.6986547942243271 0 1,0 1.3973095884486542,0a0.6986547942243271,0.6986547942243271 0 1,0 -1.3973095884486542,0z"/>
<path class="isl" d="M131.4,141.9a0.6571221024932454,0.6571221024932454 0 1,0 1.3142442049864909,0a0.6571221024932454,0.6571221024932454 0 1,0 -1.3142442049864909,0z"/>
<path class="isl" d="M139.0,141.1a0.9739841748404359,0.9739841748404359 0 1,0 1.9479683496808717,0a0.9739841748404359,0.9739841748404359 0 1,0 -1.9479683496808717,0z"/>
<path class="isl" d="M135.2,142.7a0.6311352937270835,0.6311352937270835 0 1,0 1.262270587454167,0a0.6311352937270835,0.6311352937270835 0 1,0 -1.262270587454167,0z"/>
<path class="isl" d="M139.4,141.4a0.7856717399516431,0.7856717399516431 0 1,0 1.5713434799032862,0a0.7856717399516431,0.7856717399516431 0 1,0 -1.5713434799032862,0z"/>
<path class="isl" d="M135.5,141.5a0.6114789107701031,0.6114789107701031 0 1,0 1.2229578215402062,0a0.6114789107701031,0.6114789107701031 0 1,0 -1.2229578215402062,0z"/>
<polyline class="coast3" points="136.0,142.1 135.1,141.8 135.5,140.4 135.9,141.6 136.6,142.1 139.8,142.8 138.7,144.1 137.6,144.5 135.7,144.4 134.3,144.8 130.4,143.9 133.0,144.7"/>
<path class="isl" d="M158.2,121.3a0.7783220468598278,0.7783220468598278 0 1,0 1.5566440937196555,0a0.7783220468598278,0.7783220468598278 0 1,0 -1.5566440937196555,0z"/>
<path class="isl" d="M161.4,128.4a0.6013368409796946,0.6013368409796946 0 1,0 1.2026736819593893,0a0.6013368409796946,0.6013368409796946 0 1,0 -1.2026736819593893,0z"/>
<path class="isl" d="M156.4,128.8a0.8697283121712422,0.8697283121712422 0 1,0 1.7394566243424845,0a0.8697283121712422,0.8697283121712422 0 1,0 -1.7394566243424845,0z"/>
<path class="isl" d="M159.3,126.9a0.574715618479001,0.574715618479001 0 1,0 1.149431236958002,0a0.574715618479001,0.574715618479001 0 1,0 -1.149431236958002,0z"/>
<path class="isl" d="M159.6,126.3a0.8018918176396226,0.8018918176396226 0 1,0 1.6037836352792452,0a0.8018918176396226,0.8018918176396226 0 1,0 -1.6037836352792452,0z"/>
<path class="isl" d="M156.5,122.1a0.8124148848649706,0.8124148848649706 0 1,0 1.6248297697299412,0a0.8124148848649706,0.8124148848649706 0 1,0 -1.6248297697299412,0z"/>
<path class="isl" d="M162.6,122.1a0.503550062693186,0.503550062693186 0 1,0 1.007100125386372,0a0.503550062693186,0.503550062693186 0 1,0 -1.007100125386372,0z"/>
<path class="isl" d="M156.0,127.3a0.6953901339621378,0.6953901339621378 0 1,0 1.3907802679242756,0a0.6953901339621378,0.6953901339621378 0 1,0 -1.3907802679242756,0z"/>
<path class="isl" d="M158.8,129.0a0.8055727200310768,0.8055727200310768 0 1,0 1.6111454400621537,0a0.8055727200310768,0.8055727200310768 0 1,0 -1.6111454400621537,0z"/>
<path class="isl" d="M157.6,126.6a0.5009895193202876,0.5009895193202876 0 1,0 1.0019790386405751,0a0.5009895193202876,0.5009895193202876 0 1,0 -1.0019790386405751,0z"/>
<polyline class="coast3" points="158.3,124.8 159.2,123.5 160.7,123.1 160.5,123.3 160.6,123.2 160.9,124.8 160.3,127.1 160.2,125.4 160.2,127.0 159.4,127.9"/>
<path class="isl" d="M142.5,150.3a0.8047676682055008,0.8047676682055008 0 1,0 1.6095353364110017,0a0.8047676682055008,0.8047676682055008 0 1,0 -1.6095353364110017,0z"/>
<path class="isl" d="M142.7,152.3a0.7942106789622541,0.7942106789622541 0 1,0 1.5884213579245081,0a0.7942106789622541,0.7942106789622541 0 1,0 -1.5884213579245081,0z"/>
<path class="isl" d="M142.5,151.1a0.6233695530891521,0.6233695530891521 0 1,0 1.2467391061783042,0a0.6233695530891521,0.6233695530891521 0 1,0 -1.2467391061783042,0z"/>
<path class="isl" d="M140.1,153.0a0.7000413970067135,0.7000413970067135 0 1,0 1.400082794013427,0a0.7000413970067135,0.7000413970067135 0 1,0 -1.400082794013427,0z"/>
<path class="isl" d="M140.3,153.6a0.7328009484370024,0.7328009484370024 0 1,0 1.4656018968740048,0a0.7328009484370024,0.7328009484370024 0 1,0 -1.4656018968740048,0z"/>
<path class="isl" d="M143.1,151.2a0.5504487821712853,0.5504487821712853 0 1,0 1.1008975643425707,0a0.5504487821712853,0.5504487821712853 0 1,0 -1.1008975643425707,0z"/>
<path class="isl" d="M144.9,149.8a0.6464984700862053,0.6464984700862053 0 1,0 1.2929969401724106,0a0.6464984700862053,0.6464984700862053 0 1,0 -1.2929969401724106,0z"/>
<path class="isl" d="M144.8,149.6a0.6997974189167229,0.6997974189167229 0 1,0 1.3995948378334457,0a0.6997974189167229,0.6997974189167229 0 1,0 -1.3995948378334457,0z"/>
<path class="isl" d="M142.0,150.2a0.8698467158377379,0.8698467158377379 0 1,0 1.7396934316754757,0a0.8698467158377379,0.8698467158377379 0 1,0 -1.7396934316754757,0z"/>
<polyline class="coast3" points="142.4,149.2 142.6,151.1 142.5,150.6 143.3,151.4 143.3,151.3 142.8,152.1 142.9,151.5 142.8,151.6 142.0,151.7"/>
<path class="isl" d="M163.2,120.1a0.8848901078432455,0.8848901078432455 0 1,0 1.769780215686491,0a0.8848901078432455,0.8848901078432455 0 1,0 -1.769780215686491,0z"/>
<path class="isl" d="M159.3,117.8a0.7705013498657465,0.7705013498657465 0 1,0 1.541002699731493,0a0.7705013498657465,0.7705013498657465 0 1,0 -1.541002699731493,0z"/>
<path class="isl" d="M164.8,119.6a0.7843750039719308,0.7843750039719308 0 1,0 1.5687500079438617,0a0.7843750039719308,0.7843750039719308 0 1,0 -1.5687500079438617,0z"/>
<path class="isl" d="M162.7,119.5a0.6861664782266967,0.6861664782266967 0 1,0 1.3723329564533935,0a0.6861664782266967,0.6861664782266967 0 1,0 -1.3723329564533935,0z"/>
<path class="isl" d="M163.0,117.6a0.6222474589383282,0.6222474589383282 0 1,0 1.2444949178766564,0a0.6222474589383282,0.6222474589383282 0 1,0 -1.2444949178766564,0z"/>
<path class="isl" d="M163.7,118.8a0.6892596088283242,0.6892596088283242 0 1,0 1.3785192176566483,0a0.6892596088283242,0.6892596088283242 0 1,0 -1.3785192176566483,0z"/>
<path class="isl" d="M160.8,119.3a0.7602174677304727,0.7602174677304727 0 1,0 1.5204349354609454,0a0.7602174677304727,0.7602174677304727 0 1,0 -1.5204349354609454,0z"/>
<path class="isl" d="M163.8,122.3a0.690723394612081,0.690723394612081 0 1,0 1.381446789224162,0a0.690723394612081,0.690723394612081 0 1,0 -1.381446789224162,0z"/>
<polyline class="coast3" points="161.9,120.0 161.3,119.2 164.4,119.0 164.0,120.3 163.4,121.0 163.7,120.4 163.0,120.8 162.2,121.1"/>
<path class="isl" d="M166.2,100.8a0.6284220448334502,0.6284220448334502 0 1,0 1.2568440896669004,0a0.6284220448334502,0.6284220448334502 0 1,0 -1.2568440896669004,0z"/>
<path class="isl" d="M168.3,96.8a0.6532532295600679,0.6532532295600679 0 1,0 1.3065064591201359,0a0.6532532295600679,0.6532532295600679 0 1,0 -1.3065064591201359,0z"/>
<path class="isl" d="M167.3,99.0a0.6006150492407943,0.6006150492407943 0 1,0 1.2012300984815887,0a0.6006150492407943,0.6006150492407943 0 1,0 -1.2012300984815887,0z"/>
<path class="isl" d="M167.2,97.6a0.5790035218868875,0.5790035218868875 0 1,0 1.158007043773775,0a0.5790035218868875,0.5790035218868875 0 1,0 -1.158007043773775,0z"/>
<path class="isl" d="M167.9,101.7a0.6830033183424774,0.6830033183424774 0 1,0 1.3660066366849548,0a0.6830033183424774,0.6830033183424774 0 1,0 -1.3660066366849548,0z"/>
<path class="isl" d="M166.1,103.1a0.6600696727073353,0.6600696727073353 0 1,0 1.3201393454146706,0a0.6600696727073353,0.6600696727073353 0 1,0 -1.3201393454146706,0z"/>
<polyline class="coast3" points="166.1,97.4 167.4,94.8 168.8,98.9 168.4,99.4 169.1,102.5 167.5,103.6"/>
<path class="isl" d="M119.8,108.6a0.5036577635864359,0.5036577635864359 0 1,0 1.0073155271728718,0a0.5036577635864359,0.5036577635864359 0 1,0 -1.0073155271728718,0z"/>
<path class="isl" d="M119.8,109.4a0.5770968201968631,0.5770968201968631 0 1,0 1.1541936403937263,0a0.5770968201968631,0.5770968201968631 0 1,0 -1.1541936403937263,0z"/>
<path class="isl" d="M119.9,108.9a0.5171478751402837,0.5171478751402837 0 1,0 1.0342957502805674,0a0.5171478751402837,0.5171478751402837 0 1,0 -1.0342957502805674,0z"/>
<path class="isl" d="M119.6,108.4a0.5443165926218052,0.5443165926218052 0 1,0 1.0886331852436104,0a0.5443165926218052,0.5443165926218052 0 1,0 -1.0886331852436104,0z"/>
<path class="isl" d="M119.6,108.2a0.6802258120356867,0.6802258120356867 0 1,0 1.3604516240713733,0a0.6802258120356867,0.6802258120356867 0 1,0 -1.3604516240713733,0z"/>
<path class="isl" d="M118.0,109.2a0.5431654897825019,0.5431654897825019 0 1,0 1.0863309795650038,0a0.5431654897825019,0.5431654897825019 0 1,0 -1.0863309795650038,0z"/>
<path class="isl" d="M118.5,112.8a0.5796684339667295,0.5796684339667295 0 1,0 1.159336867933459,0a0.5796684339667295,0.5796684339667295 0 1,0 -1.159336867933459,0z"/>
<path class="isl" d="M118.4,109.2a0.6675321463347157,0.6675321463347157 0 1,0 1.3350642926694314,0a0.6675321463347157,0.6675321463347157 0 1,0 -1.3350642926694314,0z"/>
<polyline class="coast3" points="118.7,111.4 120.3,107.9 120.1,109.7 119.1,110.8 119.5,110.5 119.0,114.2 118.8,112.5 120.1,119.2"/>
<path class="isl" d="M116.1,133.5a0.630874129799953,0.630874129799953 0 1,0 1.261748259599906,0a0.630874129799953,0.630874129799953 0 1,0 -1.261748259599906,0z"/>
<path class="isl" d="M116.8,132.5a0.5248360002158462,0.5248360002158462 0 1,0 1.0496720004316924,0a0.5248360002158462,0.5248360002158462 0 1,0 -1.0496720004316924,0z"/>
<path class="isl" d="M116.6,130.2a0.674291821301208,0.674291821301208 0 1,0 1.348583642602416,0a0.674291821301208,0.674291821301208 0 1,0 -1.348583642602416,0z"/>
<path class="isl" d="M116.0,131.7a0.5655780912153962,0.5655780912153962 0 1,0 1.1311561824307923,0a0.5655780912153962,0.5655780912153962 0 1,0 -1.1311561824307923,0z"/>
<path class="isl" d="M115.2,133.2a0.6086434871973148,0.6086434871973148 0 1,0 1.2172869743946295,0a0.6086434871973148,0.6086434871973148 0 1,0 -1.2172869743946295,0z"/>
<path class="isl" d="M116.2,133.3a0.5581580683887416,0.5581580683887416 0 1,0 1.1163161367774832,0a0.5581580683887416,0.5581580683887416 0 1,0 -1.1163161367774832,0z"/>
<path class="isl" d="M116.4,137.8a0.5875449523303621,0.5875449523303621 0 1,0 1.1750899046607242,0a0.5875449523303621,0.5875449523303621 0 1,0 -1.1750899046607242,0z"/>
<path class="isl" d="M117.3,134.8a0.5240674879890922,0.5240674879890922 0 1,0 1.0481349759781844,0a0.5240674879890922,0.5240674879890922 0 1,0 -1.0481349759781844,0z"/>
<polyline class="coast3" points="115.6,134.5 116.2,134.2 117.7,139.1 116.9,135.3 115.9,135.6 116.5,136.6 116.2,135.1 116.3,135.3"/>
<path class="isl" d="M120.5,131.4a0.6690973227220545,0.6690973227220545 0 1,0 1.338194645444109,0a0.6690973227220545,0.6690973227220545 0 1,0 -1.338194645444109,0z"/>
<path class="isl" d="M122.0,132.8a0.5106313884015183,0.5106313884015183 0 1,0 1.0212627768030367,0a0.5106313884015183,0.5106313884015183 0 1,0 -1.0212627768030367,0z"/>
<path class="isl" d="M119.9,124.1a0.6510336451262162,0.6510336451262162 0 1,0 1.3020672902524324,0a0.6510336451262162,0.6510336451262162 0 1,0 -1.3020672902524324,0z"/>
<path class="isl" d="M120.1,130.4a0.6591450616845115,0.6591450616845115 0 1,0 1.318290123369023,0a0.6591450616845115,0.6591450616845115 0 1,0 -1.318290123369023,0z"/>
<path class="isl" d="M122.3,129.8a0.6750416839896944,0.6750416839896944 0 1,0 1.3500833679793889,0a0.6750416839896944,0.6750416839896944 0 1,0 -1.3500833679793889,0z"/>
<polyline class="coast3" points="120.6,127.7 121.3,127.3 121.6,128.3 122.5,130.3 120.7,131.4"/>
<path class="isl" d="M136.1,121.0a0.9,0.9 0 1,0 1.8,0a0.9,0.9 0 1,0 -1.8,0z"/>
<path class="isl" d="M126.4,121.0a0.6,0.6 0 1,0 1.2,0a0.6,0.6 0 1,0 -1.2,0z"/>
<path class="isl" d="M93.5,121.5a1.25,1.25 0 1,0 2.5,0a1.25,1.25 0 1,0 -2.5,0z"/>
<path class="isl" d="M97.5,125.5a1.25,1.25 0 1,0 2.5,0a1.25,1.25 0 1,0 -2.5,0z"/>
<path class="isl" d="M95.0,128.8a1.25,1.25 0 1,0 2.5,0a1.25,1.25 0 1,0 -2.5,0z"/>
<path class="isl" d="M94.2,133.0a1.25,1.25 0 1,0 2.5,0a1.25,1.25 0 1,0 -2.5,0z"/>
<path class="isl" d="M99.2,134.7a1.25,1.25 0 1,0 2.5,0a1.25,1.25 0 1,0 -2.5,0z"/>
<path class="isl" d="M96.8,136.5a1.25,1.25 0 1,0 2.5,0a1.25,1.25 0 1,0 -2.5,0z"/>
<path class="isl" d="M80.0,142.0a1.25,1.25 0 1,0 2.5,0a1.25,1.25 0 1,0 -2.5,0z"/>
<path class="isl" d="M85.0,135.5a1.25,1.25 0 1,0 2.5,0a1.25,1.25 0 1,0 -2.5,0z"/>
<path class="isl" d="M86.0,140.5a1.25,1.25 0 1,0 2.5,0a1.25,1.25 0 1,0 -2.5,0z"/>
<path class="isl" d="M82.8,139.0a1.25,1.25 0 1,0 2.5,0a1.25,1.25 0 1,0 -2.5,0z"/>
<path class="isl" d="M94.8,124.0a1.25,1.25 0 1,0 2.5,0a1.25,1.25 0 1,0 -2.5,0z"/>
<path class="isl" d="M96.2,131.0a1.25,1.25 0 1,0 2.5,0a1.25,1.25 0 1,0 -2.5,0z"/>
<path class="isl" d="M81.8,142.5a1.25,1.25 0 1,0 2.5,0a1.25,1.25 0 1,0 -2.5,0z"/>
<path class="isl" d="M81.3,90.3a1.2,1.2 0 1,0 2.4,0a1.2,1.2 0 1,0 -2.4,0z"/>
<path class="isl" d="M148.1,90.3a0.9,0.9 0 1,0 1.8,0a0.9,0.9 0 1,0 -1.8,0z"/>
<path class="isl" d="M160.0,91.0a1.0,1.0 0 1,0 2.0,0a1.0,1.0 0 1,0 -2.0,0z"/>
<path class="isl" d="M166.0,90.5a1.0,1.0 0 1,0 2.0,0a1.0,1.0 0 1,0 -2.0,0z"/>
<path class="isl" d="M136.8,90.5a1.2,1.2 0 1,0 2.4,0a1.2,1.2 0 1,0 -2.4,0z"/>
<path class="isl" d="M123.8,91.0a1.2,1.2 0 1,0 2.4,0a1.2,1.2 0 1,0 -2.4,0z"/>
<path class="isl" d="M89.7,343.3a0.8,0.8 0 1,0 1.6,0a0.8,0.8 0 1,0 -1.6,0z"/>
<path class="isl" d="M91.3,343.1a0.7,0.7 0 1,0 1.4,0a0.7,0.7 0 1,0 -1.4,0z"/>
<polyline class="coast" points="197.1,163.7 196.9,164.8 195.6,166.4 193.3,168.1 190.6,169.7 188.0,170.7 186.0,171.1 184.9,170.7 185.1,169.6 186.4,168.0 188.7,166.3 191.4,164.7 194.0,163.7 196.0,163.3 197.1,163.7"/>
<polyline class="coast" points="209.6,168.2 209.2,170.0 208.5,171.4 207.8,172.1 207.1,172.0 206.6,171.1 206.3,169.6 206.4,167.8 206.8,166.0 207.5,164.6 208.2,163.9 208.9,164.0 209.4,164.9 209.7,166.4 209.6,168.2"/>
<polyline class="coast" points="214.0,140.8 213.4,142.9 212.6,144.5 211.7,145.4 211.0,145.2 210.4,144.2 210.2,142.4 210.4,140.2 211.0,138.1 211.8,136.5 212.7,135.6 213.4,135.8 214.0,136.8 214.2,138.6 214.0,140.8"/>
<polyline class="coast2" points="217.9,126.5 217.5,133.0"/>
<path class="isl" d="M217.2,105.5a1.6,1.6 0 1,0 3.2,0a1.6,1.6 0 1,0 -3.2,0z"/>
<path class="isl" d="M212.9,96.3a0.9,0.9 0 1,0 1.8,0a0.9,0.9 0 1,0 -1.8,0z"/>
<path class="isl" d="M216.2,99.0a0.8,0.8 0 1,0 1.6,0a0.8,0.8 0 1,0 -1.6,0z"/>
<polyline class="coast2" points="240.0,106.5 243.0,108.5 245.5,107.5 248.0,106.0 251.5,106.8"/>
<path class="isl" d="M242.1,169.7a0.9,0.9 0 1,0 1.8,0a0.9,0.9 0 1,0 -1.8,0z"/>
<path class="isl" d="M248.8,162.2a0.9,0.9 0 1,0 1.8,0a0.9,0.9 0 1,0 -1.8,0z"/>
<path class="isl" d="M250.4,168.8a0.9,0.9 0 1,0 1.8,0a0.9,0.9 0 1,0 -1.8,0z"/>
<path class="isl" d="M238.8,175.5a0.9,0.9 0 1,0 1.8,0a0.9,0.9 0 1,0 -1.8,0z"/>
<path class="isl" d="M206.3,153.0a0.9,0.9 0 1,0 1.8,0a0.9,0.9 0 1,0 -1.8,0z"/>
<path class="isl" d="M200.4,158.8a0.9,0.9 0 1,0 1.8,0a0.9,0.9 0 1,0 -1.8,0z"/>
<path class="isl" d="M178.8,175.5a0.9,0.9 0 1,0 1.8,0a0.9,0.9 0 1,0 -1.8,0z"/>
<path class="isl" d="M207.9,174.7a0.9,0.9 0 1,0 1.8,0a0.9,0.9 0 1,0 -1.8,0z"/>
<path class="isl" d="M182.9,194.7a0.9,0.9 0 1,0 1.8,0a0.9,0.9 0 1,0 -1.8,0z"/>
<path class="isl" d="M187.9,188.8a0.9,0.9 0 1,0 1.8,0a0.9,0.9 0 1,0 -1.8,0z"/>
<path class="isl" d="M192.9,192.2a0.9,0.9 0 1,0 1.8,0a0.9,0.9 0 1,0 -1.8,0z"/>
<path class="isl" d="M196.3,184.7a0.9,0.9 0 1,0 1.8,0a0.9,0.9 0 1,0 -1.8,0z"/>
<path class="isl" d="M204.6,183.3a0.9,0.9 0 1,0 1.8,0a0.9,0.9 0 1,0 -1.8,0z"/>
<polyline class="coast" points="81.3,231.0 84.0,233.1 86.3,234.7 87.9,237.1 89.5,238.3 90.4,241.0 92.2,243.0 93.1,245.2 93.1,247.6 93.8,250.4 93.8,253.0 95.2,256.0 96.2,258.8 98.0,261.3 99.6,264.2 100.3,266.0 101.4,269.2 103.0,271.3 104.0,274.0 105.2,277.1 106.3,279.7 104.7,283.0 102.2,283.3 100.0,281.4 98.6,280.1 96.3,278.0 93.6,277.1 91.3,277.2 90.5,273.0 92.2,271.2 93.0,268.8 91.4,266.8 90.2,264.9 88.0,263.0 86.6,259.8 85.6,257.6 84.7,254.7 83.4,253.0 82.6,250.2 81.3,248.0"/>
<polyline class="coast" points="118.8,258.0 122.2,255.5 124.3,257.3 126.2,258.8 128.0,260.5 129.9,262.2 132.1,263.5 133.9,265.3 135.5,267.2 138.1,268.7 140.0,271.0 142.2,273.0 140.5,275.5 136.3,274.7 136.1,271.9 135.5,269.7 133.1,268.0 131.3,267.2 129.2,266.7 126.4,265.7 124.7,265.5 122.3,264.8 120.5,263.0 119.6,260.6 118.8,258.0"/>
<polyline class="coast" points="168.0,298.3 169.7,299.6 172.2,300.8 173.8,301.7 174.9,303.8 177.1,305.6 178.8,308.3 179.7,310.9 179.7,314.0 180.5,316.7 181.0,319.2 181.7,321.7 181.6,323.7 182.2,326.7 182.0,329.3 181.6,332.1 181.3,335.0 182.4,336.2 184.3,337.9 186.3,340.0 188.2,342.6 189.3,345.0 188.6,348.0 188.6,350.1 188.0,353.3 186.6,355.1 184.7,357.5 184.8,359.6 183.5,362.2 183.3,365.0 184.4,367.6 184.9,369.1 185.5,371.7 185.2,374.7 184.5,377.7 184.7,380.0 185.7,383.0 186.2,385.1 187.1,387.2 187.2,390.0 187.4,392.1 188.0,395.0 192.2,394.7 192.7,397.9 193.4,400.7 194.7,403.3 195.4,406.4 196.3,408.7 194.1,407.1 191.3,405.0 190.3,402.8 188.3,401.5 187.2,400.0 186.7,402.7 186.3,405.0 183.3,406.7 180.5,403.3 180.5,401.1 179.7,398.3 181.4,396.5 182.2,394.2 180.3,392.1 178.8,390.0 177.4,387.8 175.5,385.0 175.2,382.3 175.2,379.7 175.3,377.0 174.7,375.0 174.0,372.8 172.7,370.6 172.2,368.3 171.7,366.3 171.3,363.3 168.0,360.8 168.8,356.7 170.9,354.3 172.2,351.7 174.7,348.3 174.8,346.0 173.7,343.1 173.8,340.0 173.9,337.8 173.6,334.3 173.0,331.7 172.8,328.9 172.8,326.1 173.3,323.3 173.3,320.0 171.3,317.3 169.7,315.0 169.0,312.9 167.3,310.6 166.3,308.3 165.8,306.0 165.5,303.3 166.8,300.6 168.0,298.3"/>
<polyline class="coast" points="197.2,414.2 197.0,415.5 196.6,416.5 195.9,417.1 195.1,417.1 194.4,416.5 194.0,415.5 193.8,414.2 194.0,412.9 194.4,411.9 195.1,411.3 195.9,411.3 196.6,411.9 197.0,412.9 197.2,414.2"/>
<polyline class="coast" points="208.8,430.0 208.8,431.8 208.2,433.4 207.2,434.4 205.9,434.6 204.5,434.1 203.5,432.8 202.8,431.0 202.8,429.2 203.4,427.6 204.4,426.6 205.7,426.4 207.1,426.9 208.1,428.2 208.8,430.0"/>
<polyline class="coast2" points="210.5,408.3 209.7,413.0 208.8,418.3"/>
<path class="isl" d="M191.2,456.7a1.0,1.0 0 1,0 2.0,0a1.0,1.0 0 1,0 -2.0,0z"/>
<path class="isl" d="M358.8,470.0a0.9,0.9 0 1,0 1.8,0a0.9,0.9 0 1,0 -1.8,0z"/>
<path class="isl" d="M274.0,474.2a0.7,0.7 0 1,0 1.4,0a0.7,0.7 0 1,0 -1.4,0z"/>
<polyline class="coast" points="96.3,437.5 99.3,438.7 101.6,438.9 103.5,440.2 106.3,440.8 109.3,440.6 111.3,440.4 114.4,439.7 117.1,439.5 119.7,439.2 122.5,439.1 125.6,438.1 127.8,438.7 130.5,437.9 133.0,437.5 136.3,436.4 138.8,436.3 136.6,436.2 133.9,435.6 131.3,435.5 128.5,435.4 125.5,435.8 123.1,436.7 119.7,436.7 116.7,437.2 113.7,437.1 110.6,437.7 108.0,437.5 105.4,437.8 101.7,437.9 98.7,437.6 96.3,437.5"/>
<path class="isl" d="M145.4,518.3a1.8,1.8 0 1,0 3.6,0a1.8,1.8 0 1,0 -3.6,0z"/>
<path class="isl" d="M100.2,543.3a1.1,1.1 0 1,0 2.2,0a1.1,1.1 0 1,0 -2.2,0z"/>
<path class="isl" d="M306.7,593.7a1.0,1.0 0 1,0 2.0,0a1.0,1.0 0 1,0 -2.0,0z"/>
<path class="isl" d="M368.9,588.0a0.8,0.8 0 1,0 1.6,0a0.8,0.8 0 1,0 -1.6,0z"/>
<polyline class="coast" points="503.3,355.0 505.0,356.8 506.6,359.8 508.3,361.7 509.7,364.8 510.8,368.3 513.6,370.7 515.8,373.3 517.3,376.0 517.7,379.3 519.2,381.7 519.6,384.2 521.1,386.9 521.7,390.0 522.5,393.7 523.3,396.7 523.7,399.9 524.1,403.7 524.2,406.7 524.5,409.6 524.6,412.2 525.0,415.0 526.3,418.8 526.7,421.7 529.2,426.7 530.3,432.5 529.2,438.3 526.7,443.3 524.2,445.8 520.8,443.3 519.1,439.7 518.3,436.7 517.5,433.3 513.3,433.0 511.7,436.7 512.3,440.3 513.3,443.3 514.3,446.0 515.8,449.2 516.5,452.7 516.7,456.7 516.3,459.6 515.0,462.5 510.8,466.7 509.5,470.3 507.5,473.3 506.7,478.3 509.2,483.3 508.4,486.9 508.0,489.7 507.5,493.3 506.3,496.8 505.9,499.8 505.0,503.3 504.2,506.4 502.8,509.6 501.7,513.3 500.4,516.4 499.4,518.6 498.3,521.7 496.8,525.6 495.8,529.2 494.8,532.6 493.7,535.6 493.3,538.3 492.3,541.9 491.0,544.6 490.0,548.3 488.9,551.7 487.9,554.6 487.5,558.3 486.7,562.0 485.6,565.3 484.2,568.3 483.1,572.0 482.1,575.0 480.8,578.3 479.4,581.2 477.7,584.7 476.7,588.3 475.7,591.3 475.1,595.0 473.7,598.3 473.3,601.5 472.3,604.2 472.0,606.7 471.6,609.8 470.1,613.6 469.7,616.7 469.3,619.7 468.2,622.3 467.5,625.0 466.1,628.1 465.2,631.9 464.2,635.0 462.7,638.2 461.5,641.0 460.8,643.3 459.7,646.4 459.4,649.3 458.3,651.7 456.7,656.7 451.7,659.2 446.7,662.5 441.7,661.7 438.3,662.9 435.0,663.7 431.5,665.9 428.3,667.5 424.6,669.9 421.7,671.7 418.0,671.5 414.2,672.0 412.1,670.0 409.2,668.3 405.9,666.4 403.3,665.0 399.1,664.0 395.8,663.3 393.8,662.1 391.5,660.3 389.2,658.3 388.3,653.3 385.0,649.2 384.0,645.6 382.5,641.7 381.8,638.1 381.3,635.0 380.5,632.3 380.0,629.7 379.7,626.7 383.3,622.5 380.8,618.3 379.8,615.1 379.2,611.7 377.1,608.9 375.0,605.8 373.4,601.8 372.5,598.3 372.1,595.3 371.5,593.2 370.8,590.0 370.0,587.5 371.0,585.4 372.3,582.9 373.3,580.0 375.8,575.0 376.7,569.2 381.7,568.3 385.0,563.3 385.9,560.2 386.7,556.7 388.9,553.1 390.8,550.0 392.9,546.7 395.0,543.3 396.8,540.5 398.7,537.5 397.0,533.3 398.7,528.3 397.5,523.3 396.2,520.3 394.2,516.7 393.9,513.6 393.2,511.2 392.5,508.3 391.6,504.6 390.0,501.7 389.4,499.3 389.4,496.3 389.2,493.3 388.8,489.9 388.3,486.7 387.4,483.4 386.7,480.0 389.2,475.8 392.5,470.8 394.6,467.9 395.8,465.0 398.0,460.0 396.7,455.0 398.0,450.0 401.7,450.3 406.7,450.0 411.7,447.5 415.8,445.0 421.7,444.2 426.7,441.7 431.7,440.0 436.7,441.7 439.2,440.0 441.7,435.8 444.5,433.6 446.7,431.7 449.4,430.1 451.7,428.3 456.7,426.7 460.0,421.7 464.2,423.3 465.0,418.3 468.3,415.0 470.8,410.0 475.0,408.3 476.1,405.3 476.7,401.7 475.5,398.8 475.0,395.0 476.7,390.0 479.2,394.2 483.3,395.0 485.0,390.0 488.3,387.5 493.3,386.7 495.3,381.7 496.2,378.1 497.0,375.0 496.4,371.3 495.8,368.3 496.7,363.3 500.0,358.3 503.3,355.0"/>
<polyline class="coast2" points="520.0,462.5 515.8,471.7"/>
<polyline class="coast2" points="488.3,476.7 486.7,484.2"/>
<path class="isl" d="M501.1,358.9a0.7844550985405012,0.7844550985405012 0 1,0 1.5689101970810024,0a0.7844550985405012,0.7844550985405012 0 1,0 -1.5689101970810024,0z"/>
<path class="isl" d="M503.9,356.1a0.543270807218749,0.543270807218749 0 1,0 1.086541614437498,0a0.543270807218749,0.543270807218749 0 1,0 -1.086541614437498,0z"/>
<path class="isl" d="M501.7,357.5a0.7843291683122967,0.7843291683122967 0 1,0 1.5686583366245934,0a0.7843291683122967,0.7843291683122967 0 1,0 -1.5686583366245934,0z"/>
<path class="isl" d="M501.5,358.4a0.7336876898514082,0.7336876898514082 0 1,0 1.4673753797028164,0a0.7336876898514082,0.7336876898514082 0 1,0 -1.4673753797028164,0z"/>
<path class="isl" d="M501.6,358.7a0.5294723246613691,0.5294723246613691 0 1,0 1.0589446493227381,0a0.5294723246613691,0.5294723246613691 0 1,0 -1.0589446493227381,0z"/>
<path class="isl" d="M502.9,356.3a0.517041030651491,0.517041030651491 0 1,0 1.034082061302982,0a0.517041030651491,0.517041030651491 0 1,0 -1.034082061302982,0z"/>
<path class="isl" d="M502.2,357.6a0.7450143987051493,0.7450143987051493 0 1,0 1.4900287974102986,0a0.7450143987051493,0.7450143987051493 0 1,0 -1.4900287974102986,0z"/>
<path class="isl" d="M501.7,359.2a0.8136594355536473,0.8136594355536473 0 1,0 1.6273188711072946,0a0.8136594355536473,0.8136594355536473 0 1,0 -1.6273188711072946,0z"/>
<polyline class="coast3" points="502.1,356.5 502.8,356.9 504.6,357.0 504.0,357.3 503.1,357.6 503.5,357.9 502.0,358.5 502.2,358.6"/>
<path class="isl" d="M484.8,382.8a0.575627156217513,0.575627156217513 0 1,0 1.151254312435026,0a0.575627156217513,0.575627156217513 0 1,0 -1.151254312435026,0z"/>
<path class="isl" d="M484.7,383.1a0.7453382886685405,0.7453382886685405 0 1,0 1.490676577337081,0a0.7453382886685405,0.7453382886685405 0 1,0 -1.490676577337081,0z"/>
<path class="isl" d="M481.9,383.0a0.6888948322792628,0.6888948322792628 0 1,0 1.3777896645585257,0a0.6888948322792628,0.6888948322792628 0 1,0 -1.3777896645585257,0z"/>
<path class="isl" d="M478.0,388.4a0.5907098668485741,0.5907098668485741 0 1,0 1.1814197336971481,0a0.5907098668485741,0.5907098668485741 0 1,0 -1.1814197336971481,0z"/>
<path class="isl" d="M484.4,388.8a0.5409700624637547,0.5409700624637547 0 1,0 1.0819401249275094,0a0.5409700624637547,0.5409700624637547 0 1,0 -1.0819401249275094,0z"/>
<path class="isl" d="M480.6,383.6a0.727342461422188,0.727342461422188 0 1,0 1.454684922844376,0a0.727342461422188,0.727342461422188 0 1,0 -1.454684922844376,0z"/>
<path class="isl" d="M478.6,383.0a0.5348313612801767,0.5348313612801767 0 1,0 1.0696627225603534,0a0.5348313612801767,0.5348313612801767 0 1,0 -1.0696627225603534,0z"/>
<path class="isl" d="M483.9,384.2a0.5969054117342618,0.5969054117342618 0 1,0 1.1938108234685236,0a0.5969054117342618,0.5969054117342618 0 1,0 -1.1938108234685236,0z"/>
<path class="isl" d="M481.0,386.4a0.6239565869268382,0.6239565869268382 0 1,0 1.2479131738536764,0a0.6239565869268382,0.6239565869268382 0 1,0 -1.2479131738536764,0z"/>
<polyline class="coast3" points="482.7,384.8 484.4,384.1 483.4,385.5 484.7,388.0 482.5,387.1 482.0,387.0 481.0,387.1 480.6,386.5 478.7,386.5"/>
<path class="isl" d="M475.8,404.6a0.5755004204429154,0.5755004204429154 0 1,0 1.1510008408858308,0a0.5755004204429154,0.5755004204429154 0 1,0 -1.1510008408858308,0z"/>
<path class="isl" d="M475.9,401.3a0.5512810848103781,0.5512810848103781 0 1,0 1.1025621696207561,0a0.5512810848103781,0.5512810848103781 0 1,0 -1.1025621696207561,0z"/>
<path class="isl" d="M474.1,407.0a0.6716824178218896,0.6716824178218896 0 1,0 1.3433648356437793,0a0.6716824178218896,0.6716824178218896 0 1,0 -1.3433648356437793,0z"/>
<path class="isl" d="M471.1,408.3a0.5468540099185403,0.5468540099185403 0 1,0 1.0937080198370805,0a0.5468540099185403,0.5468540099185403 0 1,0 -1.0937080198370805,0z"/>
<path class="isl" d="M472.3,408.4a0.7376475675297711,0.7376475675297711 0 1,0 1.4752951350595422,0a0.7376475675297711,0.7376475675297711 0 1,0 -1.4752951350595422,0z"/>
<path class="isl" d="M474.8,400.2a0.7555334765614935,0.7555334765614935 0 1,0 1.511066953122987,0a0.7555334765614935,0.7555334765614935 0 1,0 -1.511066953122987,0z"/>
<path class="isl" d="M472.7,399.6a0.7367310887898277,0.7367310887898277 0 1,0 1.4734621775796555,0a0.7367310887898277,0.7367310887898277 0 1,0 -1.4734621775796555,0z"/>
<path class="isl" d="M475.9,399.9a0.6362490184513401,0.6362490184513401 0 1,0 1.2724980369026802,0a0.6362490184513401,0.6362490184513401 0 1,0 -1.2724980369026802,0z"/>
<path class="isl" d="M475.8,402.5a0.5908833317531031,0.5908833317531031 0 1,0 1.1817666635062063,0a0.5908833317531031,0.5908833317531031 0 1,0 -1.1817666635062063,0z"/>
<path class="isl" d="M474.9,403.5a0.799424254672261,0.799424254672261 0 1,0 1.598848509344522,0a0.799424254672261,0.799424254672261 0 1,0 -1.598848509344522,0z"/>
<polyline class="coast3" points="471.9,403.8 473.3,401.4 475.7,400.7 473.7,402.6 475.2,402.9 477.1,407.6 473.7,405.3 472.7,407.5 473.6,405.0 472.2,404.3"/>
<path class="isl" d="M462.7,419.3a0.5931383286630089,0.5931383286630089 0 1,0 1.1862766573260177,0a0.5931383286630089,0.5931383286630089 0 1,0 -1.1862766573260177,0z"/>
<path class="isl" d="M461.2,423.4a0.5242662350624983,0.5242662350624983 0 1,0 1.0485324701249965,0a0.5242662350624983,0.5242662350624983 0 1,0 -1.0485324701249965,0z"/>
<path class="isl" d="M461.7,423.1a0.6716383236442135,0.6716383236442135 0 1,0 1.343276647288427,0a0.6716383236442135,0.6716383236442135 0 1,0 -1.343276647288427,0z"/>
<path class="isl" d="M460.8,424.0a0.532512575042595,0.532512575042595 0 1,0 1.06502515008519,0a0.532512575042595,0.532512575042595 0 1,0 -1.06502515008519,0z"/>
<path class="isl" d="M459.8,418.1a0.6317460751360005,0.6317460751360005 0 1,0 1.263492150272001,0a0.6317460751360005,0.6317460751360005 0 1,0 -1.263492150272001,0z"/>
<path class="isl" d="M464.9,419.7a0.5856656083449792,0.5856656083449792 0 1,0 1.1713312166899583,0a0.5856656083449792,0.5856656083449792 0 1,0 -1.1713312166899583,0z"/>
<path class="isl" d="M464.6,418.5a0.5052065524129585,0.5052065524129585 0 1,0 1.010413104825917,0a0.5052065524129585,0.5052065524129585 0 1,0 -1.010413104825917,0z"/>
<path class="isl" d="M463.5,418.5a0.6582032925213233,0.6582032925213233 0 1,0 1.3164065850426465,0a0.6582032925213233,0.6582032925213233 0 1,0 -1.3164065850426465,0z"/>
<polyline class="coast3" points="461.7,421.0 462.3,420.1 462.8,420.5 464.1,419.7 464.3,420.3 464.4,422.5 462.7,423.0 463.1,422.4"/>
<path class="isl" d="M457.7,434.6a0.5720586719188451,0.5720586719188451 0 1,0 1.1441173438376901,0a0.5720586719188451,0.5720586719188451 0 1,0 -1.1441173438376901,0z"/>
<path class="isl" d="M453.2,433.0a0.5774342354716283,0.5774342354716283 0 1,0 1.1548684709432566,0a0.5774342354716283,0.5774342354716283 0 1,0 -1.1548684709432566,0z"/>
<path class="isl" d="M453.4,431.3a0.5723525514311885,0.5723525514311885 0 1,0 1.144705102862377,0a0.5723525514311885,0.5723525514311885 0 1,0 -1.144705102862377,0z"/>
<path class="isl" d="M456.1,433.6a0.6336631155049779,0.6336631155049779 0 1,0 1.2673262310099558,0a0.6336631155049779,0.6336631155049779 0 1,0 -1.2673262310099558,0z"/>
<path class="isl" d="M454.1,433.7a0.7053981142323905,0.7053981142323905 0 1,0 1.410796228464781,0a0.7053981142323905,0.7053981142323905 0 1,0 -1.410796228464781,0z"/>
<path class="isl" d="M451.0,435.1a0.6387953907639976,0.6387953907639976 0 1,0 1.2775907815279952,0a0.6387953907639976,0.6387953907639976 0 1,0 -1.2775907815279952,0z"/>
<path class="isl" d="M453.2,435.8a0.7269921327096783,0.7269921327096783 0 1,0 1.4539842654193567,0a0.7269921327096783,0.7269921327096783 0 1,0 -1.4539842654193567,0z"/>
<polyline class="coast3" points="453.9,432.5 455.2,431.3 454.8,433.3 454.2,435.6 453.3,433.6 454.5,433.5 454.3,433.2"/>
<path class="isl" d="M482.1,391.5a0.5745532647711891,0.5745532647711891 0 1,0 1.1491065295423781,0a0.5745532647711891,0.5745532647711891 0 1,0 -1.1491065295423781,0z"/>
<path class="isl" d="M484.1,390.6a0.597890573140613,0.597890573140613 0 1,0 1.195781146281226,0a0.597890573140613,0.597890573140613 0 1,0 -1.195781146281226,0z"/>
<path class="isl" d="M483.0,393.8a0.6652999158495837,0.6652999158495837 0 1,0 1.3305998316991674,0a0.6652999158495837,0.6652999158495837 0 1,0 -1.3305998316991674,0z"/>
<path class="isl" d="M482.9,393.5a0.5543909376387073,0.5543909376387073 0 1,0 1.1087818752774146,0a0.5543909376387073,0.5543909376387073 0 1,0 -1.1087818752774146,0z"/>
<path class="isl" d="M483.3,393.7a0.5104585034198296,0.5104585034198296 0 1,0 1.0209170068396591,0a0.5104585034198296,0.5104585034198296 0 1,0 -1.0209170068396591,0z"/>
<path class="isl" d="M483.5,393.0a0.5367094138047299,0.5367094138047299 0 1,0 1.0734188276094598,0a0.5367094138047299,0.5367094138047299 0 1,0 -1.0734188276094598,0z"/>
<polyline class="coast3" points="482.4,393.0 484.0,395.2 483.7,394.4 483.5,393.6 483.6,393.7 483.1,393.7"/>
<path class="isl" d="M470.5,411.2a0.5222458886735744,0.5222458886735744 0 1,0 1.0444917773471487,0a0.5222458886735744,0.5222458886735744 0 1,0 -1.0444917773471487,0z"/>
<path class="isl" d="M471.2,414.0a0.6573439266191055,0.6573439266191055 0 1,0 1.314687853238211,0a0.6573439266191055,0.6573439266191055 0 1,0 -1.314687853238211,0z"/>
<path class="isl" d="M470.1,414.4a0.6111324193904766,0.6111324193904766 0 1,0 1.2222648387809532,0a0.6111324193904766,0.6111324193904766 0 1,0 -1.2222648387809532,0z"/>
<path class="isl" d="M470.2,412.8a0.6718428417444099,0.6718428417444099 0 1,0 1.3436856834888198,0a0.6718428417444099,0.6718428417444099 0 1,0 -1.3436856834888198,0z"/>
<path class="isl" d="M471.2,411.0a0.5415686244796007,0.5415686244796007 0 1,0 1.0831372489592015,0a0.5415686244796007,0.5415686244796007 0 1,0 -1.0831372489592015,0z"/>
<path class="isl" d="M469.7,412.4a0.5706393147056024,0.5706393147056024 0 1,0 1.1412786294112047,0a0.5706393147056024,0.5706393147056024 0 1,0 -1.1412786294112047,0z"/>
<polyline class="coast3" points="469.4,410.6 470.2,411.4 469.7,411.3 471.5,410.2 471.4,411.0 469.9,412.8"/>
<path class="isl" d="M490.1,373.9a0.5606310550311421,0.5606310550311421 0 1,0 1.1212621100622842,0a0.5606310550311421,0.5606310550311421 0 1,0 -1.1212621100622842,0z"/>
<path class="isl" d="M490.1,370.3a0.5465873877400882,0.5465873877400882 0 1,0 1.0931747754801764,0a0.5465873877400882,0.5465873877400882 0 1,0 -1.0931747754801764,0z"/>
<path class="isl" d="M487.6,370.0a0.5825792930345578,0.5825792930345578 0 1,0 1.1651585860691156,0a0.5825792930345578,0.5825792930345578 0 1,0 -1.1651585860691156,0z"/>
<path class="isl" d="M488.1,368.7a0.5848148318263208,0.5848148318263208 0 1,0 1.1696296636526415,0a0.5848148318263208,0.5848148318263208 0 1,0 -1.1696296636526415,0z"/>
<path class="isl" d="M489.7,372.2a0.5587483375652259,0.5587483375652259 0 1,0 1.1174966751304518,0a0.5587483375652259,0.5587483375652259 0 1,0 -1.1174966751304518,0z"/>
<path class="isl" d="M491.7,370.5a0.57700488480637,0.57700488480637 0 1,0 1.15400976961274,0a0.57700488480637,0.57700488480637 0 1,0 -1.15400976961274,0z"/>
<polyline class="coast3" points="491.2,370.7 493.8,372.0 490.2,375.0 489.6,373.8 490.3,374.5 489.8,375.3"/>
<path class="isl" d="M438.8,444.2a2.0,2.0 0 1,0 4.0,0a2.0,2.0 0 1,0 -4.0,0z"/>
<path class="isl" d="M426.6,449.2a0.9,0.9 0 1,0 1.8,0a0.9,0.9 0 1,0 -1.8,0z"/>
<path class="isl" d="M385.9,505.8a0.8,0.8 0 1,0 1.6,0a0.8,0.8 0 1,0 -1.6,0z"/>
<path class="isl" d="M449.0,517.0a1.0,1.0 0 1,0 2.0,0a1.0,1.0 0 1,0 -2.0,0z"/>
<path class="isl" d="M419.0,573.3a1.0,1.0 0 1,0 2.0,0a1.0,1.0 0 1,0 -2.0,0z"/>
<path class="isl" d="M379.1,584.2a1.7,1.7 0 1,0 3.4,0a1.7,1.7 0 1,0 -3.4,0z"/>
<path class="isl" d="M382.1,590.8a0.9,0.9 0 1,0 1.8,0a0.9,0.9 0 1,0 -1.8,0z"/>
<polyline class="coast" points="371.7,341.7 375.0,340.8 375.0,344.1 375.8,346.7 377.1,349.3 377.5,352.5 375.8,354.2 374.1,352.7 371.7,351.7 370.8,348.3 372.0,345.0 371.7,341.7"/>
<polyline class="coast" points="380.0,361.7 382.8,362.1 385.0,362.5 382.5,364.2 380.0,361.7"/>
<path class="isl" d="M381.7,362.8a0.8,0.8 0 1,0 1.6,0a0.8,0.8 0 1,0 -1.6,0z"/>
<polyline class="coast" points="392.5,359.2 394.7,358.0 397.1,357.8 399.2,356.7 399.2,358.4 399.3,360.8 400.0,363.3 396.7,361.7 395.1,360.7 392.5,359.2"/>
<polyline class="coast" points="410.8,370.0 413.2,371.1 414.3,371.5 416.7,372.5 415.9,375.4 414.2,377.5 411.7,376.7 411.9,374.8 411.3,372.5 410.8,370.0"/>
<path class="isl" d="M459.6,345.3a0.7,0.7 0 1,0 1.4,0a0.7,0.7 0 1,0 -1.4,0z"/>
<path class="isl" d="M618.7,443.2a0.6,0.6 0 1,0 1.2,0a0.6,0.6 0 1,0 -1.2,0z"/>
<path class="isl" d="M728.1,464.8a0.7,0.7 0 1,0 1.4,0a0.7,0.7 0 1,0 -1.4,0z"/>
<polyline class="coast" points="634.8,562.8 636.6,560.0 639.4,558.8 642.4,559.0 644.5,559.4 646.3,562.2 648.8,565.7 648.0,570.2 644.0,571.1 641.2,569.9 639.4,569.1 636.6,566.8 634.8,562.8"/>
<polyline class="coast" points="687.9,535.4 689.1,538.8 690.8,541.7 691.9,545.1 690.2,548.5 686.2,550.8 682.2,550.3 680.8,549.1 681.9,546.3 682.5,543.4 685.1,541.7 686.5,538.3 687.9,535.4"/>
<path class="isl" d="M690.7,535.1a0.6,0.6 0 1,0 1.2,0a0.6,0.6 0 1,0 -1.2,0z"/>
<path class="isl" d="M813,532.6 l2,-1.4 l3,0.2 l-0.6,2 l-3,0.9 z"/>
<path class="isl" d="M633.9,170.5a0.6,0.6 0 1,0 1.2,0a0.6,0.6 0 1,0 -1.2,0z"/>
<path class="isl" d="M643.9,173.0a0.6,0.6 0 1,0 1.2,0a0.6,0.6 0 1,0 -1.2,0z"/>
<path class="isl" d="M634.7,186.8a0.8,0.8 0 1,0 1.6,0a0.8,0.8 0 1,0 -1.6,0z"/>
<path class="isl" d="M650.2,190.0a0.6,0.6 0 1,0 1.2,0a0.6,0.6 0 1,0 -1.2,0z"/>
<path class="isl" d="M592.5,208.8a0.8,0.8 0 1,0 1.6,0a0.8,0.8 0 1,0 -1.6,0z"/>
<path class="isl" d="M591.8,216.0a0.7,0.7 0 1,0 1.4,0a0.7,0.7 0 1,0 -1.4,0z"/>
<path class="isl" d="M600.6,214.8a0.7,0.7 0 1,0 1.4,0a0.7,0.7 0 1,0 -1.4,0z"/>
<path class="isl" d="M587.8,225.8a0.7,0.7 0 1,0 1.4,0a0.7,0.7 0 1,0 -1.4,0z"/>
<path class="isl" d="M586.4,226.6a0.6,0.6 0 1,0 1.2,0a0.6,0.6 0 1,0 -1.2,0z"/>
<path class="isl" d="M578.8,243.8a0.7,0.7 0 1,0 1.4,0a0.7,0.7 0 1,0 -1.4,0z"/>
<path class="isl" d="M442.3,304.3a0.7,0.7 0 1,0 1.4,0a0.7,0.7 0 1,0 -1.4,0z"/>
<path class="isl" d="M469.3,311.3a0.7,0.7 0 1,0 1.4,0a0.7,0.7 0 1,0 -1.4,0z"/>
<path class="isl" d="M535.2,295.0a0.6,0.6 0 1,0 1.2,0a0.6,0.6 0 1,0 -1.2,0z"/>
<path class="isl" d="M542.4,293.0a0.6,0.6 0 1,0 1.2,0a0.6,0.6 0 1,0 -1.2,0z"/>
<path class="isl" d="M541.0,300.0a0.8,0.8 0 1,0 1.6,0a0.8,0.8 0 1,0 -1.6,0z"/>
<path class="isl" d="M459.9,345.0a0.6,0.6 0 1,0 1.2,0a0.6,0.6 0 1,0 -1.2,0z"/>
<path class="isl" d="M645.5,182.5 l2,0.8 l2.2,-0.3 l0.3,1.8 l-2.5,0.6 l-2,-1.4 z"/>
<path class="isl" d="M638.5,190 l2,-1 l1.6,1.6 l0.2,3.2 l-1.6,-0.6 l-1.2,-2 z"/>
<polyline class="coast2" points="657.6,247.3 659.0,245.3"/>
<path class="isl" d="M436,296.3 q1.5,-1.8 6.5,-0.6 q0.8,1.6 -1.6,2.2 q-3.6,0.6 -4.9,-1.6 z"/>
<polyline class="coast2" points="464.5,303.6 466.3,304.8 468.3,303.6"/>
<polyline class="coast2" points="545.9,312.3 545.6,315.6"/>
<polyline class="coast2" points="664.8,317.6 667.8,321.3"/>
<path class="isl" d="M998.3,204.6 h3 v1.2 h-1.6 v2.6 h-1.6 z"/>
<path class="isl" d="M1003.0,207.4a0.8,0.8 0 1,0 1.6,0a0.8,0.8 0 1,0 -1.6,0z"/>
<path class="isl" d="M1008.6,206.9a1.0,1.0 0 1,0 2.0,0a1.0,1.0 0 1,0 -2.0,0z"/>
<path class="isl" d="M1009.9,206.3a0.7,0.7 0 1,0 1.4,0a0.7,0.7 0 1,0 -1.4,0z"/>
<path class="isl" d="M1010.5,214.3a0.8,0.8 0 1,0 1.6,0a0.8,0.8 0 1,0 -1.6,0z"/>
<path class="isl" d="M988.5,227.0a0.8,0.8 0 1,0 1.6,0a0.8,0.8 0 1,0 -1.6,0z"/>
<path class="isl" d="M987.1,231.4a0.8,0.8 0 1,0 1.6,0a0.8,0.8 0 1,0 -1.6,0z"/>
<path class="isl" d="M989.2,237.6a0.8,0.8 0 1,0 1.6,0a0.8,0.8 0 1,0 -1.6,0z"/>
<path class="isl" d="M990.6,237.9a0.7,0.7 0 1,0 1.4,0a0.7,0.7 0 1,0 -1.4,0z"/>
<path class="isl" d="M1034.0,95.0a1.05,1.05 0 1,0 2.1,0a1.05,1.05 0 1,0 -2.1,0z"/>
<path class="coast2" d="M1027.8,101.6 q0.9,3 2.8,3 q2.2,-0.1 2.5,-3.4"/>
<path class="isl" d="M1550.1,359.0a1.9,1.9 0 1,0 3.8,0a1.9,1.9 0 1,0 -3.8,0z"/>
<path class="isl" d="M1550.3,357.3a1.5,1.5 0 1,0 3.0,0a1.5,1.5 0 1,0 -3.0,0z"/>
<path class="isl" d="M1545.1,351.1a1.0,1.0 0 1,0 2.0,0a1.0,1.0 0 1,0 -2.0,0z"/>
<path class="isl" d="M1125.4,990.3a0.9,0.9 0 1,0 1.8,0a0.9,0.9 0 1,0 -1.8,0z"/>
<path class="isl" d="M1125.7,1015.0a0.6,0.6 0 1,0 1.2,0a0.6,0.6 0 1,0 -1.2,0z"/>
<polyline class="coast" points="1591.2,109.8 1593.5,109.0 1596.9,108.7 1598.7,111.0 1599.9,113.1 1600.7,115.2 1602.1,117.9 1603.1,120.0 1604.5,122.6 1605.6,124.2 1605.6,126.8 1606.5,130.0 1604.4,131.2 1603.3,127.7 1601.0,129.4 1597.9,128.2 1595.8,126.0 1593.5,121.9 1592.5,120.0 1591.5,117.2 1590.0,115.6 1591.0,112.5 1591.2,109.8"/>
<polyline class="coast2" points="1580.8,91.3 1584.0,90.3 1589.4,90.8 1590.0,96.5 1588.3,103.5 1585.5,102.5 1583.1,101.2 1585.4,96.5 1584.8,92.5 1580.8,91.3"/>
<path class="isl" d="M1587.2,96.0a1.3,1.3 0 1,0 2.6,0a1.3,1.3 0 1,0 -2.6,0z"/>
<path class="isl" d="M1585.8,92.0a1.2,1.2 0 1,0 2.4,0a1.2,1.2 0 1,0 -2.4,0z"/>
<polyline class="coast" points="1610.8,131.7 1613.7,134.0 1615.4,136.2 1617.0,138.4 1618.3,141.0 1615.4,142.1 1612.9,140.1 1610.8,138.7 1609.9,135.8 1610.8,131.7"/>
<polyline class="coast" points="1615.4,89.0 1616.6,94.8 1621.5,98.6"/>
<polyline class="coast2" points="1621.0,145.6 1621.0,156.0"/>
<path class="isl" d="M1573.1,90.6a0.8,0.8 0 1,0 1.6,0a0.8,0.8 0 1,0 -1.6,0z"/>
<path class="isl" d="M80.5,1047 h6.5 v2 h-1 v3.3 h-5.5 z"/>
<path class="dg" d="M1016.0,257.0C1016.5,256.9 1017.8,256.8 1018.7,256.6C1019.6,256.4 1020.4,256.1 1021.3,256.0C1022.2,255.9 1023.2,256.1 1024.1,255.9C1025.0,255.7 1025.7,255.0 1026.5,254.5C1027.3,254.0 1028.2,253.6 1029.2,253.1C1030.2,252.6 1031.4,252.5 1032.4,251.7C1033.4,250.9 1034.5,249.1 1035.4,248.3C1036.3,247.6 1036.7,247.8 1037.7,247.2C1038.8,246.6 1040.3,245.5 1041.7,244.6C1043.1,243.7 1045.0,242.2 1046.3,241.8C1047.6,241.5 1048.5,242.8 1049.7,242.5C1050.9,242.2 1051.8,240.4 1053.4,240.0C1055.1,239.6 1057.7,240.0 1059.6,240.1C1061.5,240.2 1063.3,240.7 1065.0,240.3C1066.7,239.9 1067.8,238.1 1069.5,237.8C1071.2,237.5 1073.3,238.8 1075.2,238.6C1077.1,238.4 1079.2,237.5 1080.8,236.9C1082.4,236.3 1083.5,235.3 1085.0,235.1C1086.5,234.9 1087.9,236.0 1089.6,235.6C1091.3,235.2 1093.5,233.0 1095.2,232.5C1096.9,232.0 1098.3,232.6 1099.8,232.7C1101.2,232.8 1102.3,233.2 1103.9,233.0C1105.5,232.8 1107.5,231.3 1109.3,231.4C1111.1,231.5 1113.0,233.3 1114.6,233.7C1116.2,234.1 1117.3,233.7 1118.9,233.8C1120.5,233.9 1122.2,233.9 1124.0,234.5C1125.8,235.1 1128.2,236.9 1130.0,237.2C1131.8,237.5 1133.4,235.9 1135.0,236.1C1136.6,236.2 1137.9,237.6 1139.7,238.1C1141.5,238.6 1143.8,239.0 1145.7,238.9C1147.7,238.8 1149.7,237.4 1151.4,237.4C1153.1,237.4 1154.2,239.1 1155.8,239.1C1157.4,239.1 1159.2,238.0 1161.1,237.7C1162.9,237.4 1165.2,237.0 1166.9,237.1C1168.6,237.2 1169.9,238.6 1171.4,238.5C1172.9,238.4 1174.1,236.9 1175.8,236.8C1177.5,236.8 1180.5,238.0 1181.5,238.2"/>
<path class="dg" d="M1016.0,257.0C1016.4,256.9 1017.5,256.6 1018.3,256.4C1019.1,256.2 1019.9,255.9 1020.7,255.8C1021.5,255.7 1022.4,255.9 1023.1,255.7C1023.9,255.5 1024.5,255.2 1025.2,254.5C1025.9,253.8 1026.5,252.5 1027.2,251.6C1027.9,250.7 1028.7,250.2 1029.6,249.1C1030.5,248.0 1031.5,246.2 1032.4,245.0C1033.3,243.8 1034.0,242.4 1035.0,241.8C1036.0,241.2 1037.2,241.9 1038.7,241.7C1040.2,241.4 1042.0,240.6 1043.7,240.3C1045.4,240.0 1047.2,240.0 1048.7,240.0C1050.2,240.0 1051.0,240.9 1052.4,240.3C1053.8,239.7 1055.5,237.6 1057.2,236.4C1058.9,235.2 1060.8,233.8 1062.4,232.9C1064.0,232.0 1065.6,231.9 1067.0,231.1C1068.4,230.3 1069.4,228.3 1070.7,227.9C1072.0,227.5 1073.4,227.9 1075.0,228.5C1076.6,229.1 1078.7,230.9 1080.5,231.5C1082.3,232.1 1084.2,231.7 1085.9,232.1C1087.7,232.5 1089.1,233.3 1091.0,233.8C1092.9,234.3 1095.0,235.2 1097.1,234.9C1099.2,234.6 1101.8,232.6 1103.8,232.0C1105.8,231.4 1107.6,231.3 1109.3,231.1C1111.0,230.9 1112.3,231.0 1113.9,230.9C1115.5,230.8 1117.2,229.9 1118.9,230.4C1120.6,230.9 1122.4,232.6 1123.9,233.8C1125.4,235.0 1126.5,236.7 1127.8,237.5C1129.1,238.3 1130.2,237.9 1131.8,238.5C1133.3,239.1 1135.2,240.7 1137.1,241.1C1138.9,241.5 1141.1,241.6 1142.9,241.1C1144.8,240.6 1146.4,238.7 1148.2,238.2C1150.0,237.7 1151.8,238.2 1153.9,238.2C1156.0,238.1 1158.5,238.0 1160.6,237.9C1162.7,237.8 1164.8,237.2 1166.5,237.8C1168.2,238.4 1169.5,240.5 1171.1,241.4C1172.6,242.3 1174.1,243.1 1175.8,243.3C1177.5,243.5 1180.1,242.9 1181.0,242.8"/>
<path class="dg" d="M1016.0,257.0C1016.2,256.8 1016.8,256.0 1017.3,255.7C1017.8,255.4 1018.2,255.2 1018.7,255.0C1019.2,254.8 1019.6,254.5 1020.0,254.2C1020.4,253.9 1020.7,253.5 1021.2,253.3C1021.7,253.1 1022.4,253.2 1023.1,253.1C1023.8,253.0 1024.6,253.3 1025.3,252.9C1026.0,252.5 1026.5,251.5 1027.0,250.8C1027.5,250.1 1027.5,249.2 1028.1,248.7C1028.7,248.2 1029.6,248.2 1030.6,247.6C1031.6,247.0 1032.8,246.1 1034.0,245.0C1035.2,243.9 1036.5,242.0 1037.6,241.2C1038.7,240.4 1039.3,240.4 1040.5,240.2C1041.7,239.9 1043.2,240.3 1044.8,239.7C1046.4,239.1 1048.1,237.7 1049.9,236.8C1051.7,235.9 1053.8,235.0 1055.6,234.4C1057.4,233.8 1059.0,234.1 1060.6,233.5C1062.2,232.9 1063.6,232.0 1065.1,230.8C1066.6,229.6 1068.0,227.3 1069.6,226.1C1071.2,224.9 1073.1,224.4 1074.8,223.7C1076.5,223.0 1078.4,222.9 1080.0,222.1C1081.6,221.3 1083.0,219.8 1084.4,218.9C1085.8,218.1 1087.0,217.2 1088.5,217.0C1090.0,216.8 1091.5,217.7 1093.2,217.8C1094.9,217.9 1097.1,217.8 1098.9,217.5C1100.8,217.2 1102.6,216.1 1104.3,215.8C1106.0,215.5 1107.5,215.7 1109.1,215.8C1110.7,215.9 1112.3,216.5 1114.1,216.2C1115.9,215.9 1117.9,214.5 1119.8,213.8C1121.7,213.1 1123.8,212.2 1125.7,212.1C1127.6,212.0 1129.3,212.9 1130.9,213.1C1132.5,213.3 1133.7,213.6 1135.2,213.5C1136.7,213.4 1138.2,212.5 1139.9,212.7C1141.6,212.8 1143.5,213.6 1145.2,214.4C1147.0,215.2 1148.8,216.9 1150.4,217.4C1152.0,217.9 1153.3,217.7 1154.8,217.7C1156.3,217.7 1157.5,217.3 1159.2,217.5C1160.9,217.7 1164.0,218.6 1164.9,218.8"/>
<path class="lgy" d="M1164.9,218.8C1166.2,219.1 1170.1,219.9 1172.7,220.5C1175.3,221.1 1177.9,221.8 1180.5,222.4C1183.1,223.0 1185.7,223.6 1188.3,224.3C1190.9,225.0 1193.5,225.7 1196.0,226.5C1198.5,227.3 1201.1,228.2 1203.6,229.0C1206.1,229.8 1208.7,230.5 1211.2,231.3C1213.7,232.2 1216.2,233.2 1218.7,234.1C1221.2,235.0 1223.8,235.8 1226.3,236.6C1228.8,237.4 1231.4,238.2 1233.9,239.1C1236.4,240.0 1238.9,240.9 1241.4,241.8C1243.9,242.7 1246.5,243.6 1249.0,244.4C1251.5,245.2 1254.0,246.1 1256.6,246.9C1259.1,247.7 1261.8,248.4 1264.3,249.2C1266.8,250.0 1270.6,251.2 1271.9,251.6"/>
<path class="dg" d="M1016.0,257.0C1015.7,256.5 1014.9,254.9 1014.4,254.0C1013.9,253.1 1013.5,252.4 1013.0,251.6C1012.5,250.8 1012.0,250.0 1011.4,249.1C1010.8,248.2 1010.0,246.8 1009.6,245.9C1009.2,245.0 1009.1,244.3 1009.0,243.7C1008.9,243.1 1008.9,243.1 1008.9,242.4C1008.9,241.7 1008.9,240.8 1008.7,239.6C1008.5,238.3 1007.8,236.4 1007.8,234.9C1007.8,233.4 1008.5,231.6 1008.9,230.5C1009.3,229.4 1009.7,229.3 1010.4,228.6C1011.1,227.9 1012.2,227.2 1013.2,226.1C1014.2,225.0 1015.1,222.9 1016.4,221.8C1017.6,220.7 1019.4,219.8 1020.7,219.5C1022.0,219.2 1023.0,220.2 1024.3,220.3C1025.6,220.4 1026.8,220.6 1028.3,220.1C1029.8,219.6 1031.3,217.9 1033.2,217.1C1035.1,216.3 1037.6,215.5 1039.6,215.3C1041.6,215.1 1043.7,215.8 1045.4,215.7C1047.1,215.6 1048.5,215.6 1050.0,214.7C1051.5,213.8 1052.7,211.7 1054.3,210.3C1055.9,209.0 1057.7,207.4 1059.5,206.6C1061.3,205.8 1063.4,206.0 1065.3,205.7C1067.2,205.4 1069.2,205.5 1070.9,204.8C1072.6,204.1 1074.0,202.3 1075.5,201.4C1077.0,200.5 1078.1,199.4 1079.6,199.2C1081.1,199.0 1082.6,199.9 1084.4,200.4C1086.2,200.9 1088.4,202.0 1090.4,202.0C1092.4,202.0 1094.6,201.0 1096.6,200.5C1098.6,200.0 1100.5,199.1 1102.3,199.0C1104.1,198.9 1105.6,199.6 1107.3,199.8C1109.0,200.1 1110.7,200.8 1112.6,200.5C1114.5,200.2 1116.6,198.8 1118.8,197.7C1121.0,196.5 1123.5,194.5 1125.7,193.6C1127.9,192.7 1130.0,192.6 1131.9,192.3C1133.8,192.1 1135.3,192.6 1137.0,192.1C1138.7,191.6 1139.9,190.6 1141.8,189.6C1143.7,188.6 1146.0,186.7 1148.2,186.0C1150.5,185.3 1153.0,185.5 1155.3,185.7C1157.6,185.9 1160.0,187.2 1162.1,187.4C1164.2,187.6 1165.9,187.4 1167.9,186.9C1170.0,186.4 1172.1,184.8 1174.4,184.3C1176.7,183.8 1179.0,183.7 1181.6,183.8C1184.2,183.9 1187.1,184.9 1189.9,184.8C1192.7,184.7 1195.7,184.0 1198.6,183.0C1201.5,182.0 1205.8,179.5 1207.3,178.8"/>
<path class="dg" d="M1016.0,257.0C1015.9,256.6 1015.6,255.6 1015.4,254.8C1015.2,254.0 1014.9,253.1 1014.7,252.3C1014.5,251.5 1014.3,250.6 1014.1,249.8C1013.9,249.0 1013.7,248.6 1013.7,247.7C1013.7,246.8 1013.8,245.4 1013.9,244.5C1014.0,243.6 1013.9,243.2 1014.1,242.5C1014.3,241.8 1014.6,241.1 1014.9,240.3C1015.2,239.5 1015.2,238.4 1015.7,237.9C1016.2,237.4 1017.1,237.8 1018.0,237.3C1018.9,236.8 1020.1,235.4 1021.2,235.0C1022.3,234.6 1023.5,234.7 1024.5,234.6C1025.5,234.5 1025.9,234.8 1027.0,234.3C1028.1,233.8 1029.7,232.3 1031.2,231.8C1032.7,231.3 1034.7,231.9 1036.2,231.4C1037.7,230.9 1039.0,229.6 1040.3,228.7C1041.6,227.8 1042.5,226.6 1044.0,225.9C1045.5,225.2 1047.5,225.6 1049.3,224.8C1051.0,224.0 1052.9,221.9 1054.5,221.1C1056.1,220.2 1057.2,220.2 1058.8,219.7C1060.3,219.1 1062.0,218.5 1063.8,217.8C1065.6,217.1 1067.8,215.7 1069.6,215.3C1071.4,214.9 1072.8,215.7 1074.5,215.4C1076.2,215.1 1077.7,213.9 1079.6,213.3C1081.5,212.8 1083.8,212.3 1085.7,212.1C1087.7,211.9 1089.5,212.4 1091.3,211.9C1093.1,211.4 1094.6,209.8 1096.4,209.3C1098.2,208.8 1100.3,209.2 1102.3,208.7C1104.3,208.2 1106.5,207.0 1108.3,206.2C1110.1,205.4 1111.6,204.3 1113.3,203.8C1115.0,203.3 1116.7,203.9 1118.6,203.3C1120.5,202.7 1122.7,201.0 1124.5,200.4C1126.3,199.8 1127.9,200.0 1129.5,199.8C1131.1,199.6 1132.6,199.7 1134.3,199.4C1136.0,199.1 1138.1,198.0 1139.9,198.0C1141.8,198.0 1143.7,199.3 1145.4,199.5C1147.1,199.7 1148.2,199.2 1150.0,199.2C1151.8,199.2 1154.0,199.2 1156.2,199.4C1158.4,199.6 1160.8,200.6 1162.9,200.6C1165.0,200.6 1166.8,199.4 1168.8,199.3C1170.8,199.2 1172.5,200.1 1174.9,200.1C1177.3,200.1 1182.0,199.3 1183.4,199.2"/>
<path class="lgy" d="M1183.4,199.2C1184.7,199.1 1188.7,199.0 1191.4,198.9C1194.1,198.8 1196.7,198.8 1199.4,198.7C1202.1,198.6 1204.7,198.6 1207.4,198.6C1210.1,198.6 1212.7,198.8 1215.4,198.9C1218.1,199.1 1220.8,199.2 1223.4,199.5C1226.1,199.8 1228.7,200.1 1231.3,200.4C1233.9,200.7 1236.6,201.0 1239.3,201.3C1242.0,201.6 1244.5,201.8 1247.2,202.1C1249.9,202.4 1253.9,202.8 1255.2,203.0"/>
<path class="dg" d="M1016.0,257.0C1015.7,256.7 1014.9,255.8 1014.4,255.1C1013.9,254.4 1013.3,253.7 1012.7,253.0C1012.1,252.3 1011.6,251.7 1011.0,250.9C1010.4,250.1 1009.7,249.2 1009.3,248.2C1008.9,247.2 1008.7,246.1 1008.4,245.1C1008.1,244.1 1007.8,243.1 1007.6,242.2C1007.4,241.3 1007.3,240.7 1007.2,239.8C1007.1,238.9 1006.7,238.0 1007.0,236.9C1007.3,235.8 1008.5,234.1 1009.1,233.0C1009.8,231.9 1010.3,231.1 1010.9,230.3C1011.5,229.6 1012.1,229.3 1012.8,228.5C1013.5,227.7 1014.1,226.7 1015.1,225.5C1016.1,224.3 1017.8,222.8 1019.0,221.6C1020.2,220.4 1021.3,219.6 1022.4,218.6C1023.5,217.6 1024.4,216.8 1025.4,215.6C1026.4,214.4 1027.1,212.6 1028.4,211.2C1029.7,209.8 1031.5,208.2 1033.0,207.0C1034.5,205.8 1036.1,204.9 1037.6,204.0C1039.1,203.1 1040.5,202.5 1041.9,201.6C1043.3,200.7 1044.5,199.4 1045.9,198.4C1047.3,197.4 1048.8,196.4 1050.4,195.8C1052.0,195.2 1053.7,195.3 1055.4,195.1C1057.1,194.9 1059.0,195.0 1060.7,194.7C1062.4,194.4 1064.1,193.7 1065.8,193.3C1067.5,192.9 1069.0,192.6 1070.7,192.5C1072.4,192.4 1074.0,192.7 1075.8,192.6C1077.6,192.5 1080.4,192.2 1081.3,192.1"/>
<path class="dg" d="M1016.0,257.0C1016.3,256.8 1017.2,256.0 1017.8,255.5C1018.4,255.0 1019.0,254.5 1019.6,254.2C1020.2,253.9 1020.9,253.6 1021.6,253.6C1022.3,253.6 1023.0,254.0 1023.7,254.0C1024.4,254.0 1025.3,254.0 1026.0,253.8C1026.7,253.7 1027.3,253.2 1027.9,253.1C1028.5,253.0 1029.0,253.2 1029.7,253.3C1030.4,253.5 1031.0,254.1 1031.9,254.0C1032.8,253.9 1034.2,253.2 1035.3,252.5C1036.3,251.8 1037.3,250.4 1038.2,249.5C1039.1,248.6 1039.6,247.9 1040.4,247.1C1041.2,246.3 1041.7,245.9 1042.9,244.7C1044.1,243.5 1046.0,241.5 1047.6,239.9C1049.2,238.3 1051.0,236.2 1052.5,234.9C1054.0,233.6 1055.5,233.2 1056.9,232.3C1058.3,231.5 1059.5,230.9 1060.9,229.8C1062.3,228.8 1063.8,227.1 1065.5,226.0C1067.2,224.9 1069.1,223.6 1070.9,223.1C1072.8,222.6 1074.8,223.0 1076.6,222.8C1078.4,222.7 1080.1,222.6 1081.7,222.2C1083.3,221.8 1084.8,220.7 1086.4,220.3C1088.0,219.9 1089.6,219.6 1091.4,219.7C1093.2,219.8 1095.1,220.7 1097.0,220.9C1098.9,221.1 1100.9,221.0 1102.7,220.8C1104.5,220.6 1106.1,219.7 1107.7,219.5C1109.3,219.3 1110.6,219.2 1112.1,219.4C1113.6,219.6 1115.0,220.4 1116.6,220.5C1118.2,220.6 1120.0,220.2 1121.7,219.9C1123.4,219.6 1125.3,218.7 1126.9,218.5C1128.5,218.3 1130.0,218.6 1131.4,218.9C1132.8,219.2 1134.0,220.1 1135.3,220.2C1136.6,220.3 1138.0,220.0 1139.5,219.7C1141.0,219.4 1142.7,218.6 1144.4,218.5C1146.1,218.4 1148.0,219.0 1149.6,219.4C1151.2,219.8 1152.7,220.6 1154.2,220.7C1155.7,220.8 1157.7,220.0 1158.4,219.8"/>
<path class="lgy" d="M1158.4,219.8C1159.7,219.7 1163.7,219.6 1166.4,219.4C1169.1,219.2 1171.8,219.1 1174.4,218.8C1177.1,218.6 1179.7,218.3 1182.3,217.9C1184.9,217.5 1187.6,217.0 1190.2,216.5C1192.8,216.0 1196.7,215.1 1198.0,214.8"/>
<path class="dg" d="M1016.0,257.0C1016.3,256.9 1017.3,256.8 1017.9,256.7C1018.5,256.6 1019.2,256.5 1019.8,256.3C1020.4,256.1 1021.0,255.8 1021.6,255.5C1022.2,255.2 1022.8,254.9 1023.6,254.6C1024.4,254.3 1025.4,253.9 1026.3,253.7C1027.2,253.5 1028.1,253.5 1029.1,253.4C1030.0,253.3 1031.1,253.3 1032.0,253.1C1032.9,252.9 1033.7,252.6 1034.7,252.2C1035.7,251.8 1037.1,251.3 1038.2,250.8C1039.3,250.3 1040.3,249.9 1041.4,249.3C1042.5,248.7 1043.6,248.1 1044.7,247.4C1045.8,246.7 1046.8,246.0 1048.1,244.9C1049.4,243.8 1051.2,242.4 1052.8,241.1C1054.4,239.8 1056.0,238.2 1057.5,236.8C1059.0,235.5 1060.4,234.0 1061.9,233.0C1063.4,232.0 1064.8,231.2 1066.3,230.6C1067.8,230.0 1069.3,229.9 1070.9,229.6C1072.5,229.3 1074.2,229.0 1075.9,228.6C1077.6,228.2 1079.5,227.6 1081.3,227.1C1083.1,226.6 1085.0,225.9 1086.9,225.5C1088.8,225.1 1090.8,225.0 1092.6,224.8C1094.4,224.6 1097.0,224.5 1097.9,224.4"/>
<path class="lgy" d="M1097.9,224.4C1099.2,224.1 1103.1,223.4 1105.7,222.8C1108.3,222.2 1110.9,221.5 1113.5,220.9C1116.1,220.3 1118.7,219.8 1121.3,219.2C1123.9,218.6 1126.5,217.9 1129.1,217.2C1131.7,216.4 1135.4,215.1 1136.7,214.7"/>
<path class="dg" d="M1016.0,257.0C1015.9,256.6 1015.7,255.4 1015.5,254.5C1015.3,253.6 1015.1,252.5 1015.0,251.6C1014.9,250.7 1014.7,249.8 1014.6,249.0C1014.5,248.2 1014.4,247.6 1014.4,246.8C1014.4,246.0 1014.5,245.0 1014.6,244.2C1014.7,243.4 1014.7,242.4 1014.7,241.9C1014.8,241.4 1014.8,241.4 1014.9,241.1C1015.0,240.8 1014.9,240.9 1015.4,240.3C1015.9,239.7 1017.0,238.4 1017.6,237.6C1018.2,236.8 1018.6,236.1 1019.0,235.7C1019.4,235.3 1019.7,235.5 1020.2,235.0C1020.7,234.5 1021.0,233.8 1021.9,232.7C1022.8,231.6 1024.4,229.7 1025.6,228.6C1026.8,227.5 1027.9,226.7 1028.9,226.0C1029.9,225.3 1030.8,225.1 1031.7,224.2C1032.7,223.3 1033.3,221.7 1034.6,220.5C1035.9,219.3 1037.7,217.8 1039.3,216.9C1040.9,216.0 1042.8,215.8 1044.4,215.3C1046.0,214.8 1047.6,214.5 1049.1,213.7C1050.6,212.9 1051.9,211.3 1053.4,210.3C1054.9,209.3 1056.5,208.2 1058.2,207.6C1059.9,207.0 1061.8,207.1 1063.7,206.6C1065.6,206.1 1067.6,205.4 1069.4,204.4C1071.2,203.4 1072.9,201.4 1074.5,200.3C1076.1,199.2 1077.5,198.3 1079.1,197.6C1080.7,196.9 1082.3,196.8 1084.0,195.9C1085.7,195.0 1088.4,192.9 1089.3,192.3"/>
<path class="lgy" d="M1089.3,192.3C1090.5,191.6 1093.9,189.5 1096.2,188.2C1098.5,186.9 1100.8,185.6 1103.2,184.3C1105.6,183.1 1108.0,181.8 1110.4,180.7C1112.8,179.5 1115.3,178.5 1117.7,177.4C1120.1,176.3 1122.5,175.3 1125.0,174.3C1127.5,173.3 1130.0,172.3 1132.5,171.4C1135.0,170.5 1137.5,169.6 1140.0,168.7C1142.5,167.8 1145.0,166.8 1147.5,165.8C1150.0,164.8 1152.4,163.9 1154.9,162.9C1157.4,161.9 1159.8,160.9 1162.3,159.8C1164.8,158.7 1167.2,157.6 1169.6,156.4C1172.0,155.2 1174.3,154.0 1176.6,152.7C1178.9,151.4 1181.3,150.1 1183.6,148.8C1185.9,147.5 1189.3,145.4 1190.5,144.7"/>
<path class="dg" d="M1016.0,257.0C1016.1,256.8 1016.6,256.1 1016.8,255.6C1017.0,255.2 1017.2,254.8 1017.4,254.3C1017.5,253.8 1017.6,253.0 1017.7,252.4C1017.8,251.8 1017.8,251.1 1018.1,250.7C1018.4,250.2 1019.0,250.1 1019.4,249.7C1019.8,249.2 1020.3,248.4 1020.7,248.0C1021.1,247.6 1021.3,247.1 1021.7,247.1C1022.1,247.1 1022.1,248.0 1022.9,248.1C1023.6,248.2 1025.2,247.8 1026.2,247.5C1027.2,247.2 1028.3,246.6 1029.1,246.3C1029.9,246.0 1030.4,246.4 1031.0,245.8C1031.6,245.2 1031.9,244.0 1032.9,242.7C1033.9,241.4 1035.6,239.3 1036.9,238.1C1038.2,236.9 1039.4,236.6 1040.5,235.7C1041.6,234.8 1042.4,233.6 1043.4,232.4C1044.4,231.2 1045.3,229.2 1046.7,228.4C1048.1,227.6 1050.0,228.0 1051.6,227.7C1053.2,227.4 1054.9,227.3 1056.4,226.7C1057.9,226.1 1059.3,224.6 1060.8,223.9C1062.3,223.2 1063.7,223.1 1065.4,222.6C1067.1,222.1 1069.2,221.9 1071.0,220.8C1072.8,219.7 1074.7,217.4 1076.3,216.0C1077.9,214.6 1079.3,213.5 1080.8,212.4C1082.2,211.3 1083.5,210.5 1085.0,209.2C1086.5,207.9 1088.2,205.8 1089.8,204.6C1091.4,203.4 1093.0,202.5 1094.4,201.9C1095.8,201.3 1097.0,201.6 1098.2,201.0C1099.5,200.4 1100.5,199.1 1101.9,198.5C1103.3,197.9 1105.0,197.6 1106.6,197.4C1108.2,197.2 1110.0,197.9 1111.5,197.5C1113.0,197.1 1114.3,195.9 1115.8,195.0C1117.3,194.1 1119.5,192.3 1120.3,191.8"/>
<path class="dg" d="M1016.0,257.0C1016.2,256.8 1016.9,256.1 1017.4,255.6C1017.9,255.1 1018.3,254.5 1018.8,254.0C1019.3,253.5 1019.8,252.9 1020.3,252.5C1020.8,252.1 1021.3,251.8 1021.9,251.4C1022.5,251.0 1023.3,250.6 1024.0,250.1C1024.7,249.6 1025.3,249.0 1026.0,248.6C1026.7,248.2 1027.2,247.7 1027.9,247.4C1028.6,247.1 1029.0,247.0 1029.9,247.0C1030.8,247.0 1032.2,247.4 1033.3,247.5C1034.4,247.6 1035.7,248.0 1036.8,247.8C1037.9,247.6 1039.0,247.0 1040.0,246.4C1041.0,245.8 1041.6,244.9 1042.7,244.1C1043.8,243.3 1045.3,242.4 1046.5,241.7C1047.7,241.0 1048.9,240.5 1050.1,239.8C1051.3,239.1 1052.6,238.4 1053.9,237.4C1055.2,236.4 1056.5,235.1 1057.9,233.8C1059.3,232.6 1061.0,231.1 1062.5,229.9C1064.0,228.7 1065.5,227.4 1066.9,226.5C1068.4,225.6 1069.8,225.0 1071.2,224.4C1072.6,223.8 1073.9,223.4 1075.3,222.9C1076.7,222.4 1078.2,221.9 1079.7,221.3C1081.2,220.7 1082.8,219.9 1084.5,219.3C1086.2,218.7 1087.9,218.0 1089.7,217.6C1091.5,217.2 1093.3,217.1 1095.1,217.0C1096.9,216.9 1098.7,217.4 1100.4,217.3C1102.1,217.2 1103.8,217.1 1105.4,216.7C1107.0,216.3 1108.6,215.5 1110.2,214.8C1111.8,214.1 1113.3,213.1 1115.0,212.4C1116.7,211.8 1118.4,211.3 1120.1,210.9C1121.8,210.5 1123.5,210.2 1125.2,209.8C1126.9,209.4 1128.7,209.0 1130.3,208.3C1131.9,207.6 1133.5,206.6 1135.0,205.7C1136.5,204.8 1138.0,203.7 1139.4,202.9C1140.8,202.2 1142.1,201.5 1143.5,201.2C1144.9,200.8 1146.3,200.9 1147.8,200.8C1149.3,200.8 1150.6,201.0 1152.3,200.9C1154.0,200.8 1155.9,200.5 1157.8,200.2C1159.7,199.9 1161.6,199.4 1163.4,199.2C1165.2,199.0 1167.0,198.9 1168.8,199.0C1170.6,199.1 1172.1,199.5 1174.1,199.7C1176.1,199.9 1179.8,200.1 1181.0,200.2"/>
<path class="dg" d="M1016.0,257.0C1016.4,256.9 1017.5,256.6 1018.3,256.5C1019.0,256.4 1019.8,256.3 1020.5,256.2C1021.2,256.1 1021.9,255.9 1022.6,255.8C1023.3,255.7 1024.0,255.7 1024.8,255.5C1025.6,255.3 1026.5,255.1 1027.4,254.9C1028.3,254.7 1029.2,254.7 1030.1,254.5C1031.0,254.3 1031.9,254.1 1032.7,253.6C1033.5,253.1 1034.1,252.4 1035.0,251.6C1035.9,250.8 1036.9,249.6 1037.9,248.6C1038.9,247.6 1039.8,246.6 1040.8,245.7C1041.8,244.8 1042.8,243.9 1043.9,243.0C1045.0,242.1 1045.9,241.3 1047.2,240.2C1048.5,239.1 1050.4,237.8 1052.0,236.5C1053.6,235.2 1055.2,233.7 1056.8,232.5C1058.3,231.3 1059.8,230.1 1061.3,229.3C1062.8,228.5 1064.1,227.9 1065.6,227.5C1067.1,227.1 1068.6,227.0 1070.2,226.7C1071.8,226.4 1073.4,226.2 1075.1,225.8C1076.8,225.4 1078.5,224.9 1080.3,224.5C1082.1,224.1 1083.9,223.6 1085.7,223.6C1087.5,223.6 1089.2,224.0 1090.9,224.3C1092.6,224.6 1094.3,225.2 1095.9,225.6C1097.5,226.0 1099.1,226.4 1100.7,226.6C1102.3,226.8 1103.9,226.6 1105.5,226.6C1107.1,226.6 1108.7,226.5 1110.4,226.5C1112.1,226.5 1113.9,226.5 1115.6,226.7C1117.3,226.9 1119.0,227.3 1120.7,227.5C1122.4,227.7 1124.1,227.9 1125.7,227.9C1127.3,227.9 1128.8,227.9 1130.3,227.7C1131.8,227.5 1133.1,226.9 1134.6,226.6C1136.0,226.3 1137.5,225.9 1139.0,225.7C1140.5,225.5 1142.0,225.5 1143.6,225.5C1145.2,225.5 1146.8,225.7 1148.5,225.6C1150.2,225.5 1151.8,225.3 1153.5,225.0C1155.2,224.7 1156.8,224.1 1158.4,223.6C1160.0,223.1 1161.5,222.4 1163.1,222.0C1164.7,221.6 1166.4,221.2 1168.1,220.9C1169.8,220.6 1171.4,220.6 1173.2,220.4C1175.0,220.2 1176.8,220.0 1178.7,219.5C1180.6,219.0 1182.2,218.4 1184.5,217.6C1186.8,216.8 1189.8,215.7 1192.4,214.8C1195.0,213.9 1197.6,213.1 1200.1,212.4C1202.6,211.8 1205.1,211.4 1207.6,210.9C1210.1,210.4 1213.7,209.7 1214.9,209.5"/>
<path class="lgy" d="M1214.9,209.5C1216.2,209.1 1220.0,207.7 1222.5,206.9C1225.0,206.1 1227.6,205.4 1230.2,204.7C1232.8,204.0 1235.3,203.2 1237.9,202.5C1240.5,201.8 1243.0,201.0 1245.6,200.3C1248.2,199.6 1250.8,199.1 1253.4,198.4C1256.0,197.8 1258.5,197.0 1261.1,196.4C1263.7,195.8 1266.3,195.2 1268.9,194.7C1271.5,194.2 1274.2,193.8 1276.8,193.2C1279.4,192.6 1282.0,192.0 1284.6,191.4C1287.2,190.8 1289.7,190.1 1292.3,189.4C1294.9,188.7 1298.7,187.5 1300.0,187.1"/>
<path class="dg" d="M1016.0,257.0C1016.2,256.8 1016.9,256.0 1017.3,255.5C1017.7,255.0 1018.1,254.6 1018.5,254.1C1018.9,253.6 1019.3,252.8 1019.8,252.4C1020.3,252.0 1020.7,251.8 1021.4,251.8C1022.1,251.8 1023.0,252.2 1023.8,252.2C1024.6,252.2 1025.4,251.9 1026.0,251.6C1026.6,251.3 1026.9,250.4 1027.4,250.2C1027.9,250.0 1028.0,250.4 1028.8,250.6C1029.6,250.8 1031.0,251.6 1032.2,251.2C1033.4,250.8 1034.8,249.7 1035.9,248.4C1037.0,247.2 1037.9,244.8 1038.7,243.7C1039.5,242.6 1039.8,242.3 1040.7,241.7C1041.6,241.0 1042.9,240.9 1044.3,239.8C1045.7,238.7 1047.3,236.6 1049.0,235.0C1050.7,233.4 1052.7,231.4 1054.4,230.5C1056.1,229.6 1057.7,229.7 1059.2,229.5C1060.7,229.3 1062.1,229.8 1063.6,229.2C1065.1,228.6 1066.4,227.0 1068.1,226.0C1069.8,225.0 1071.7,223.6 1073.7,223.2C1075.7,222.8 1077.9,223.4 1079.9,223.4C1081.9,223.4 1083.8,223.8 1085.5,223.1C1087.2,222.4 1088.6,220.6 1090.1,219.5C1091.6,218.4 1092.8,216.9 1094.4,216.4C1096.0,215.9 1097.8,216.4 1099.6,216.3C1101.4,216.2 1103.5,216.4 1105.3,215.8C1107.1,215.2 1108.8,213.6 1110.3,212.9C1111.8,212.2 1113.0,211.6 1114.3,211.8C1115.6,212.0 1117.5,213.7 1118.1,214.1"/>
<path class="lgy" d="M1118.1,214.1C1119.4,213.9 1123.4,213.5 1126.1,213.2C1128.8,212.8 1131.4,212.5 1134.0,212.0C1136.6,211.5 1139.2,210.9 1141.8,210.4C1144.4,209.9 1147.1,209.5 1149.7,208.9C1152.3,208.3 1154.9,207.7 1157.5,207.1C1160.1,206.5 1162.7,205.8 1165.3,205.2C1167.9,204.6 1170.5,204.1 1173.1,203.5C1175.7,202.9 1178.3,202.3 1180.9,201.7C1183.5,201.1 1186.0,200.5 1188.6,199.8C1191.2,199.1 1195.1,198.0 1196.4,197.7"/>
<path class="dg" d="M1016.0,257.0C1016.1,256.8 1016.5,256.2 1016.7,255.7C1017.0,255.2 1017.2,254.6 1017.5,254.1C1017.8,253.6 1018.2,253.2 1018.6,252.8C1019.0,252.4 1019.2,252.2 1019.7,251.8C1020.2,251.4 1020.8,251.1 1021.3,250.5C1021.8,249.9 1022.2,249.1 1022.7,248.4C1023.2,247.7 1023.6,246.8 1024.0,246.1C1024.4,245.4 1024.6,244.9 1025.3,244.3C1026.0,243.8 1027.3,243.4 1028.3,242.8C1029.3,242.2 1030.4,241.7 1031.4,240.7C1032.4,239.7 1033.3,238.2 1034.1,236.7C1034.9,235.1 1035.5,233.1 1036.4,231.4C1037.3,229.7 1038.6,227.9 1039.7,226.6C1040.8,225.3 1041.9,224.5 1043.1,223.8C1044.3,223.1 1045.4,222.8 1046.7,222.4C1048.0,222.0 1049.4,221.6 1051.0,221.2C1052.6,220.8 1054.6,220.2 1056.4,219.7C1058.2,219.2 1060.2,218.5 1062.0,218.2C1063.8,217.9 1065.7,217.9 1067.4,218.1C1069.1,218.3 1070.7,219.0 1072.3,219.5C1073.9,220.0 1075.6,221.0 1077.2,221.3C1078.8,221.6 1080.4,221.7 1082.1,221.4C1083.8,221.1 1085.5,220.3 1087.3,219.5C1089.1,218.7 1091.9,217.2 1092.8,216.8"/>
<path class="lgy" d="M1092.8,216.8C1094.1,216.7 1098.1,216.5 1100.8,216.4C1103.5,216.3 1106.0,216.2 1108.7,216.1C1111.4,216.0 1114.0,215.8 1116.7,215.8C1119.4,215.8 1122.0,215.8 1124.7,215.9C1127.4,216.0 1130.0,216.1 1132.7,216.3C1135.4,216.5 1138.1,216.6 1140.7,216.9C1143.3,217.2 1145.9,217.7 1148.6,218.0C1151.2,218.3 1153.9,218.6 1156.6,218.9C1159.2,219.2 1161.9,219.5 1164.5,219.9C1167.1,220.3 1171.1,221.1 1172.4,221.3"/>
<path class="dg" d="M1016.0,257.0C1016.0,256.8 1016.1,256.1 1016.1,255.6C1016.1,255.2 1016.1,254.9 1016.1,254.3C1016.1,253.7 1015.9,252.7 1015.9,252.2C1015.9,251.7 1015.9,251.7 1016.1,251.3C1016.3,250.9 1016.9,250.5 1017.1,249.7C1017.3,248.9 1017.2,247.1 1017.3,246.4C1017.3,245.7 1017.2,246.0 1017.4,245.4C1017.6,244.8 1017.9,244.0 1018.5,242.6C1019.1,241.2 1020.5,238.2 1021.1,236.9C1021.7,235.7 1021.7,236.1 1022.2,235.1C1022.7,234.1 1023.2,232.6 1024.0,231.0C1024.8,229.4 1026.0,226.5 1027.2,225.4C1028.4,224.3 1030.2,225.4 1031.3,224.7C1032.4,224.0 1033.0,222.6 1034.1,221.4C1035.2,220.2 1036.5,217.9 1038.0,217.4C1039.5,216.9 1041.4,218.4 1043.1,218.3C1044.8,218.2 1046.5,217.3 1047.9,216.7C1049.4,216.0 1050.3,214.4 1051.8,214.4C1053.3,214.4 1055.1,216.5 1056.9,216.6C1058.8,216.7 1061.1,215.6 1062.9,215.0C1064.7,214.4 1066.1,213.0 1067.6,212.9C1069.0,212.8 1070.0,214.7 1071.6,214.5C1073.2,214.3 1075.2,212.9 1077.0,211.9C1078.8,210.9 1081.0,209.1 1082.7,208.7C1084.4,208.3 1085.6,209.9 1086.9,209.5C1088.2,209.1 1090.1,206.6 1090.7,206.0"/>
<path class="lgy" d="M1090.7,206.0C1092.0,205.6 1095.7,204.2 1098.3,203.5C1100.9,202.8 1103.5,202.2 1106.1,201.5C1108.7,200.8 1111.2,200.2 1113.8,199.6C1116.4,198.9 1119.0,198.2 1121.6,197.6C1124.2,197.0 1126.8,196.6 1129.4,196.2C1132.0,195.8 1134.8,195.5 1137.4,195.1C1140.1,194.7 1142.7,194.3 1145.3,193.9C1147.9,193.5 1150.6,193.0 1153.2,192.6C1155.8,192.2 1158.5,191.9 1161.1,191.5C1163.7,191.1 1166.4,190.8 1169.0,190.4C1171.6,190.0 1174.3,189.4 1176.9,189.0C1179.5,188.6 1182.2,188.1 1184.8,187.7C1187.4,187.3 1190.1,187.0 1192.7,186.6C1195.3,186.2 1198.0,185.6 1200.6,185.2C1203.2,184.8 1207.2,184.1 1208.5,183.9"/>
<path class="dg" d="M1016.0,257.0C1016.6,257.0 1018.5,257.1 1019.8,257.1C1021.0,257.2 1022.3,257.2 1023.5,257.3C1024.7,257.4 1026.0,257.7 1027.2,258.0C1028.4,258.3 1029.6,258.9 1030.8,259.0C1032.0,259.1 1033.1,258.7 1034.2,258.5C1035.3,258.3 1036.3,257.9 1037.4,257.8C1038.5,257.7 1039.5,257.9 1040.6,257.6C1041.7,257.3 1042.9,256.7 1044.1,256.0C1045.3,255.3 1046.6,254.1 1047.7,253.4C1048.8,252.7 1049.7,252.6 1050.8,252.0C1051.9,251.4 1053.2,251.0 1054.5,250.1C1055.8,249.2 1057.1,247.6 1058.8,246.8C1060.5,246.0 1062.6,245.4 1064.4,245.1C1066.2,244.8 1067.7,245.2 1069.4,244.8C1071.1,244.5 1072.7,243.6 1074.5,243.0C1076.3,242.4 1078.4,241.7 1080.3,241.5C1082.2,241.3 1084.1,242.1 1085.9,242.0C1087.7,241.9 1089.3,241.7 1090.9,241.2C1092.5,240.7 1094.0,239.6 1095.6,239.2C1097.2,238.8 1098.9,238.8 1100.6,238.6C1102.3,238.4 1104.2,238.5 1105.9,237.9C1107.6,237.3 1109.2,235.9 1110.7,235.1C1112.2,234.3 1113.4,233.6 1114.8,233.1C1116.2,232.6 1117.5,232.6 1119.0,232.1C1120.5,231.6 1122.2,230.6 1123.7,229.9C1125.2,229.2 1126.9,228.2 1128.3,227.9C1129.7,227.6 1131.0,228.0 1132.3,228.0C1133.6,228.0 1134.8,227.9 1136.2,227.8C1137.6,227.7 1140.0,227.6 1140.7,227.5"/>
<path class="lgy" d="M1140.7,227.5C1142.0,227.3 1146.0,226.6 1148.6,226.2C1151.2,225.8 1153.9,225.5 1156.5,225.1C1159.1,224.7 1161.8,224.4 1164.4,223.9C1167.0,223.4 1169.7,222.8 1172.3,222.3C1174.9,221.8 1178.9,221.3 1180.2,221.1"/>
<path class="dg" d="M1016.0,257.0C1016.0,256.7 1016.1,256.0 1016.2,255.4C1016.3,254.8 1016.3,253.9 1016.4,253.2C1016.5,252.5 1016.7,251.9 1016.9,251.4C1017.1,250.9 1017.4,250.8 1017.7,250.1C1018.0,249.4 1018.4,247.7 1018.7,247.1C1019.1,246.5 1019.2,246.7 1019.8,246.3C1020.3,245.9 1021.4,245.3 1022.0,244.5C1022.6,243.7 1022.9,242.0 1023.5,241.5C1024.1,241.0 1024.8,242.2 1025.7,241.6C1026.7,241.0 1028.0,238.8 1029.2,237.8C1030.4,236.8 1032.1,236.0 1033.1,235.6C1034.1,235.2 1034.3,236.3 1035.3,235.4C1036.3,234.5 1037.6,231.4 1039.2,230.4C1040.8,229.4 1043.0,230.0 1044.7,229.5C1046.4,229.0 1048.0,228.7 1049.4,227.6C1050.8,226.5 1051.4,223.7 1052.9,223.1C1054.4,222.5 1056.4,224.2 1058.3,223.9C1060.2,223.6 1062.6,221.9 1064.4,221.1C1066.2,220.3 1067.4,219.2 1068.9,219.1C1070.4,219.0 1071.7,220.7 1073.6,220.4C1075.5,220.2 1078.1,217.9 1080.1,217.6C1082.1,217.3 1084.0,218.2 1085.7,218.5C1087.4,218.8 1088.5,219.7 1090.2,219.5C1091.9,219.3 1095.1,217.6 1096.1,217.2"/>
<path class="dg" d="M1016.0,257.0C1016.3,256.9 1017.2,256.8 1017.8,256.7C1018.4,256.6 1019.1,256.7 1019.7,256.6C1020.3,256.6 1021.0,256.6 1021.5,256.4C1022.0,256.2 1022.4,255.5 1023.0,255.2C1023.6,254.8 1024.4,254.8 1025.2,254.3C1026.0,253.8 1027.1,252.9 1027.9,252.2C1028.7,251.5 1029.3,250.7 1030.1,250.3C1030.9,249.9 1031.5,250.3 1032.7,249.8C1033.9,249.3 1035.8,247.9 1037.2,247.5C1038.6,247.1 1040.0,247.7 1041.2,247.4C1042.4,247.1 1043.3,246.4 1044.6,245.5C1045.9,244.6 1047.2,243.1 1048.8,242.2C1050.3,241.3 1052.4,241.3 1053.9,240.1C1055.4,238.9 1056.5,236.3 1057.9,234.9C1059.3,233.5 1060.9,232.7 1062.5,231.6C1064.1,230.5 1066.0,229.6 1067.5,228.5C1069.0,227.4 1070.2,225.6 1071.7,225.1C1073.2,224.6 1074.5,225.5 1076.2,225.4C1077.9,225.3 1080.0,224.4 1081.8,224.3C1083.6,224.2 1085.4,224.5 1087.1,224.9C1088.8,225.3 1090.2,226.5 1092.1,226.7C1093.9,226.9 1096.2,225.8 1098.2,225.9C1100.2,226.0 1102.5,227.1 1104.3,227.2C1106.1,227.2 1107.6,226.5 1109.3,226.2C1111.0,225.9 1112.8,225.3 1114.7,225.3C1116.6,225.3 1118.8,226.3 1120.5,226.3C1122.2,226.3 1123.6,225.1 1125.1,225.3C1126.6,225.5 1127.9,226.6 1129.5,227.4C1131.1,228.2 1133.1,229.2 1134.7,229.9C1136.3,230.6 1137.8,230.7 1139.3,231.7C1140.8,232.7 1141.9,234.9 1143.5,235.7C1145.1,236.5 1147.0,236.1 1148.8,236.4C1150.6,236.7 1152.7,237.4 1154.5,237.7C1156.3,238.0 1157.7,238.4 1159.5,238.1C1161.3,237.8 1164.2,236.2 1165.1,235.8"/>
<path class="lgy" d="M1165.1,235.8C1166.4,236.0 1170.4,236.6 1173.0,237.0C1175.6,237.4 1178.2,237.7 1180.9,238.0C1183.6,238.3 1186.2,238.6 1188.9,238.8C1191.6,239.0 1194.2,239.2 1196.9,239.3C1199.6,239.4 1202.2,239.5 1204.9,239.5C1207.6,239.5 1210.2,239.3 1212.9,239.3C1215.6,239.3 1218.2,239.3 1220.9,239.3C1223.6,239.3 1226.2,239.4 1228.9,239.3C1231.6,239.2 1234.2,239.1 1236.9,239.0C1239.6,238.9 1242.2,238.8 1244.9,238.7C1247.6,238.6 1250.2,238.8 1252.9,238.7C1255.6,238.6 1258.2,238.5 1260.9,238.4C1263.6,238.3 1266.2,238.3 1268.9,238.3C1271.6,238.3 1275.6,238.2 1276.9,238.2"/>
<path class="dg" d="M1016.0,257.0C1016.0,256.6 1015.8,255.5 1015.7,254.8C1015.7,254.1 1015.7,253.4 1015.7,252.9C1015.7,252.4 1015.9,252.2 1015.9,251.8C1015.9,251.4 1015.9,251.1 1016.0,250.6C1016.1,250.1 1016.4,249.3 1016.6,248.9C1016.9,248.5 1017.1,248.3 1017.5,248.3C1017.9,248.3 1018.3,248.9 1018.8,248.9C1019.3,248.9 1019.6,248.7 1020.3,248.1C1021.0,247.5 1022.2,246.1 1023.0,245.5C1023.8,244.9 1024.3,244.8 1025.0,244.5C1025.7,244.2 1026.5,244.4 1027.4,243.6C1028.3,242.8 1029.2,241.3 1030.6,239.9C1031.9,238.5 1034.0,236.3 1035.5,235.2C1037.0,234.0 1038.3,233.7 1039.6,233.0C1040.9,232.3 1042.0,232.2 1043.3,231.2C1044.6,230.2 1045.8,228.3 1047.5,227.0C1049.2,225.7 1051.3,224.1 1053.3,223.3C1055.3,222.5 1057.4,222.7 1059.3,222.4C1061.2,222.1 1062.8,222.2 1064.5,221.6C1066.2,220.9 1067.6,219.4 1069.3,218.5C1071.0,217.6 1072.8,216.6 1074.7,216.3C1076.7,216.0 1078.9,216.7 1081.0,216.7C1083.1,216.7 1085.3,216.8 1087.3,216.2C1089.3,215.6 1091.2,214.0 1092.9,213.2C1094.7,212.4 1096.1,211.7 1097.8,211.5C1099.5,211.3 1101.2,212.0 1103.1,211.9C1105.0,211.8 1107.2,211.6 1109.2,210.8C1111.2,210.1 1113.3,208.2 1115.2,207.4C1117.1,206.6 1118.8,206.2 1120.4,206.1C1122.0,206.0 1123.3,206.9 1124.9,206.9C1126.5,206.9 1129.0,206.2 1129.8,206.1"/>
<path class="lgy" d="M1129.8,206.1C1131.1,205.8 1135.0,205.0 1137.6,204.3C1140.2,203.7 1142.7,202.9 1145.3,202.2C1147.9,201.5 1150.4,200.6 1153.0,199.9C1155.6,199.2 1158.1,198.5 1160.7,197.9C1163.3,197.3 1167.2,196.6 1168.5,196.3"/>
<path class="dg" d="M1016.0,257.0C1016.5,257.0 1018.1,256.9 1019.1,256.9C1020.1,256.8 1021.2,256.7 1022.2,256.7C1023.2,256.7 1024.2,256.8 1025.2,256.9C1026.2,257.0 1027.2,257.6 1028.2,257.5C1029.2,257.4 1030.2,257.0 1031.0,256.3C1031.8,255.6 1032.5,254.3 1033.3,253.4C1034.1,252.5 1034.7,251.5 1035.6,251.0C1036.5,250.5 1037.3,250.7 1038.5,250.4C1039.7,250.2 1041.4,250.1 1042.8,249.5C1044.2,248.9 1045.7,247.4 1047.0,246.6C1048.3,245.8 1049.3,244.8 1050.4,244.5C1051.5,244.2 1052.2,244.9 1053.5,245.1C1054.8,245.2 1056.5,245.9 1058.2,245.4C1059.9,244.9 1061.8,243.6 1063.6,242.3C1065.4,241.0 1067.4,238.8 1069.0,237.6C1070.6,236.3 1072.1,235.5 1073.4,234.8C1074.7,234.2 1075.8,234.3 1076.9,233.7C1078.0,233.1 1078.9,232.2 1080.1,231.0C1081.3,229.8 1082.7,227.8 1084.2,226.8C1085.7,225.8 1087.4,225.1 1089.1,225.1C1090.8,225.1 1092.5,226.4 1094.1,226.9C1095.7,227.4 1097.2,228.2 1098.6,228.2C1100.0,228.2 1101.2,227.3 1102.6,226.8C1104.0,226.3 1105.5,225.3 1107.1,225.1C1108.7,224.9 1110.5,225.6 1112.4,225.8C1114.3,226.0 1116.4,226.8 1118.3,226.5C1120.2,226.2 1122.7,224.7 1123.6,224.3"/>
<path class="lgy" d="M1123.6,224.3C1124.9,224.1 1128.9,223.4 1131.5,222.9C1134.1,222.4 1136.8,221.9 1139.4,221.4C1142.0,220.9 1144.6,220.4 1147.2,219.8C1149.8,219.2 1152.4,218.6 1155.0,218.0C1157.6,217.4 1160.2,216.8 1162.8,216.1C1165.4,215.4 1167.9,214.5 1170.4,213.7C1172.9,212.9 1175.5,212.1 1178.0,211.2C1180.5,210.3 1184.2,208.7 1185.4,208.2"/>
<path class="dg" d="M1016.0,257.0C1016.5,256.8 1017.8,256.3 1018.7,255.8C1019.6,255.3 1020.6,254.6 1021.6,254.2C1022.6,253.8 1023.7,253.4 1024.8,253.1C1025.9,252.8 1026.9,252.8 1028.0,252.6C1029.1,252.3 1030.4,252.0 1031.5,251.6C1032.6,251.2 1033.7,250.6 1034.8,250.1C1035.9,249.6 1036.9,248.9 1037.9,248.5C1038.9,248.1 1039.8,247.8 1041.0,247.8C1042.2,247.8 1043.7,248.2 1045.1,248.4C1046.5,248.6 1048.0,249.2 1049.4,249.1C1050.8,249.0 1052.2,248.6 1053.5,248.1C1054.8,247.6 1055.8,246.5 1057.2,245.8C1058.6,245.1 1060.3,244.2 1061.8,243.8C1063.3,243.4 1064.7,243.2 1066.2,243.2C1067.7,243.2 1069.2,243.6 1070.9,243.6C1072.6,243.6 1074.4,243.6 1076.2,243.4C1078.0,243.2 1079.9,242.6 1081.8,242.2C1083.7,241.8 1085.6,241.0 1087.5,240.7C1089.4,240.4 1091.2,240.3 1093.0,240.5C1094.8,240.7 1096.5,241.3 1098.2,241.8C1099.9,242.3 1101.4,243.2 1103.1,243.5C1104.8,243.8 1107.3,243.8 1108.2,243.8"/>
<path class="dg" d="M1016.0,257.0C1016.2,256.7 1017.0,255.9 1017.5,255.4C1018.0,254.9 1018.5,254.5 1019.0,254.1C1019.5,253.7 1020.1,253.5 1020.6,253.2C1021.1,252.9 1021.4,252.8 1021.9,252.4C1022.4,252.0 1023.0,251.4 1023.5,251.0C1024.0,250.6 1024.5,250.4 1025.1,250.2C1025.6,250.0 1026.2,250.2 1026.8,249.9C1027.3,249.7 1027.7,249.3 1028.4,248.7C1029.1,248.1 1030.1,246.9 1030.9,246.1C1031.7,245.3 1032.3,244.4 1033.0,243.7C1033.7,243.0 1034.4,242.7 1035.2,242.0C1036.0,241.3 1036.7,240.7 1037.9,239.7C1039.1,238.7 1040.8,237.3 1042.3,236.2C1043.8,235.1 1045.3,233.9 1046.7,233.2C1048.1,232.5 1049.4,232.4 1050.7,232.0C1052.0,231.6 1053.2,231.4 1054.7,231.0C1056.2,230.6 1057.8,229.9 1059.5,229.3C1061.2,228.7 1062.9,227.9 1064.7,227.5C1066.5,227.1 1068.4,227.1 1070.1,226.9C1071.8,226.8 1073.4,226.9 1075.0,226.6C1076.6,226.3 1078.2,225.7 1079.7,225.0C1081.2,224.3 1082.7,223.1 1084.3,222.3C1085.9,221.5 1087.5,220.8 1089.2,220.1C1090.9,219.4 1092.6,219.1 1094.3,218.4C1096.0,217.7 1097.7,217.0 1099.2,216.0C1100.7,215.0 1102.0,213.5 1103.4,212.3C1104.8,211.2 1106.0,209.9 1107.4,209.1C1108.8,208.3 1110.1,207.8 1111.6,207.3C1113.0,206.8 1114.6,206.7 1116.1,206.1C1117.6,205.5 1119.3,204.6 1120.8,203.9C1122.3,203.2 1123.8,202.5 1125.2,202.2C1126.6,201.9 1127.9,202.1 1129.3,202.2C1130.7,202.3 1132.1,202.7 1133.6,202.7C1135.1,202.7 1136.8,202.4 1138.5,202.1C1140.2,201.8 1142.0,201.2 1143.8,200.9C1145.6,200.7 1147.2,200.7 1149.1,200.6C1151.0,200.5 1154.0,200.5 1155.0,200.5"/>
<path class="dg" d="M1016.0,257.0C1015.9,256.7 1015.4,256.0 1015.1,255.4C1014.8,254.8 1014.5,254.3 1014.2,253.7C1013.9,253.1 1013.7,252.5 1013.4,251.9C1013.1,251.3 1012.6,250.7 1012.5,250.1C1012.4,249.5 1012.5,248.8 1012.5,248.2C1012.5,247.6 1012.5,246.9 1012.5,246.3C1012.5,245.7 1012.6,245.3 1012.6,244.8C1012.6,244.3 1012.3,244.2 1012.7,243.5C1013.1,242.8 1014.3,242.0 1015.0,240.8C1015.7,239.7 1016.4,238.2 1017.0,236.6C1017.6,235.0 1018.0,232.9 1018.5,231.2C1019.0,229.5 1019.0,227.8 1019.8,226.4C1020.5,225.0 1021.9,223.8 1023.0,222.8C1024.1,221.8 1025.3,221.1 1026.6,220.2C1027.9,219.3 1029.2,218.4 1030.6,217.4C1032.0,216.4 1033.2,215.2 1034.8,214.1C1036.4,213.0 1038.3,212.0 1040.0,211.1C1041.7,210.2 1043.4,209.3 1045.0,208.4C1046.6,207.5 1048.1,206.7 1049.6,205.7C1051.1,204.7 1052.6,203.5 1054.1,202.3C1055.6,201.1 1057.2,199.7 1058.8,198.5C1060.4,197.3 1062.0,195.9 1063.6,195.0C1065.2,194.1 1066.8,193.3 1068.4,192.9C1070.0,192.5 1071.6,192.4 1073.1,192.3C1074.6,192.2 1076.1,192.6 1077.6,192.5C1079.1,192.4 1080.6,192.4 1082.1,192.0C1083.6,191.6 1085.1,190.9 1086.8,190.3C1088.5,189.7 1090.2,188.9 1092.0,188.4C1093.8,187.9 1095.6,187.6 1097.4,187.3C1099.2,187.0 1101.2,186.8 1103.0,186.5C1104.8,186.2 1106.6,185.9 1108.3,185.5C1110.0,185.1 1111.6,184.6 1113.2,184.3C1114.8,184.0 1116.5,183.8 1118.0,183.7C1119.5,183.6 1121.0,183.8 1122.5,184.0C1124.0,184.2 1125.6,184.9 1127.2,185.1C1128.8,185.3 1130.2,185.6 1132.1,185.4C1134.0,185.2 1136.3,184.5 1138.5,183.7C1140.7,182.9 1142.9,181.7 1145.1,180.7C1147.3,179.7 1149.4,178.6 1151.6,177.8C1153.8,177.0 1155.7,176.4 1158.0,175.8C1160.3,175.2 1163.0,174.7 1165.5,174.1C1168.0,173.5 1170.6,173.0 1173.2,172.3C1175.8,171.6 1178.5,170.8 1181.1,170.1C1183.7,169.4 1186.3,168.7 1189.0,168.0C1191.7,167.3 1196.0,166.5 1197.4,166.2"/>
<path class="dg" d="M1016.0,257.0C1016.2,256.8 1016.9,256.4 1017.3,255.9C1017.7,255.4 1018.1,254.7 1018.5,254.2C1018.9,253.7 1019.4,253.4 1019.9,253.0C1020.4,252.6 1020.9,252.6 1021.4,251.8C1021.9,251.1 1022.4,249.5 1022.9,248.5C1023.4,247.5 1023.6,246.4 1024.2,245.6C1024.8,244.8 1025.5,244.8 1026.3,243.9C1027.1,243.0 1027.9,241.4 1028.8,240.0C1029.7,238.6 1030.9,236.5 1031.8,235.6C1032.7,234.7 1033.4,235.1 1034.4,234.7C1035.5,234.3 1036.7,234.0 1038.1,233.3C1039.5,232.6 1041.0,230.8 1042.7,230.4C1044.4,230.1 1046.4,230.9 1048.0,231.2C1049.6,231.5 1050.9,232.3 1052.4,232.1C1054.0,231.9 1055.5,230.3 1057.3,229.9C1059.1,229.5 1061.2,229.4 1063.2,229.7C1065.2,230.0 1067.3,231.5 1069.0,231.5C1070.7,231.5 1071.9,230.2 1073.4,229.5C1074.9,228.8 1076.2,227.7 1077.9,227.5C1079.6,227.3 1081.5,228.5 1083.3,228.4C1085.1,228.3 1087.3,227.9 1089.0,227.2C1090.7,226.5 1092.7,224.8 1093.4,224.3"/>
<path class="dg" d="M1016.0,257.0C1016.0,256.7 1016.2,255.8 1016.3,255.1C1016.4,254.4 1016.6,253.5 1016.8,252.8C1017.0,252.1 1017.3,251.9 1017.5,251.1C1017.7,250.3 1017.7,248.9 1018.0,248.2C1018.3,247.4 1018.8,247.1 1019.3,246.6C1019.8,246.1 1020.7,245.8 1021.3,245.1C1021.9,244.3 1022.4,242.6 1022.8,242.1C1023.2,241.6 1022.9,242.5 1023.6,242.1C1024.3,241.7 1025.8,240.3 1027.0,239.4C1028.2,238.5 1029.7,237.1 1030.6,236.7C1031.5,236.3 1031.8,237.5 1032.5,236.8C1033.2,236.1 1033.6,233.5 1034.8,232.5C1036.0,231.5 1038.4,231.5 1039.9,231.0C1041.4,230.5 1042.7,230.5 1043.9,229.5C1045.1,228.5 1045.8,225.8 1047.2,225.1C1048.6,224.4 1050.3,225.5 1052.1,225.2C1053.8,224.9 1056.1,223.8 1057.7,223.2C1059.3,222.6 1060.3,221.4 1061.8,221.4C1063.3,221.4 1064.9,223.2 1066.8,223.2C1068.7,223.2 1071.1,221.3 1073.0,221.2C1074.9,221.0 1076.6,221.9 1078.3,222.3C1080.0,222.8 1081.3,224.0 1083.1,223.9C1084.9,223.8 1087.2,222.0 1089.3,222.0C1091.4,222.0 1093.7,223.8 1095.5,224.0C1097.3,224.2 1098.6,223.7 1100.3,223.3C1102.0,222.9 1103.6,221.6 1105.6,221.5C1107.5,221.4 1110.1,223.0 1112.0,222.5C1113.9,222.0 1115.5,219.5 1117.1,218.7C1118.7,217.9 1119.7,217.9 1121.4,217.6C1123.1,217.3 1125.2,217.8 1127.1,217.0C1129.0,216.2 1131.0,213.6 1132.6,212.9C1134.2,212.2 1135.1,213.4 1136.6,213.1C1138.1,212.8 1139.6,212.0 1141.4,211.3C1143.2,210.6 1145.5,209.1 1147.3,209.0C1149.1,208.9 1150.5,210.8 1152.0,210.7C1153.5,210.6 1154.4,209.0 1156.2,208.7C1158.0,208.4 1160.5,208.6 1162.6,208.8C1164.7,209.1 1167.0,210.3 1168.9,210.2C1170.8,210.0 1172.1,208.0 1173.9,207.9C1175.7,207.8 1177.4,209.5 1179.9,209.6C1182.4,209.7 1186.0,209.2 1188.8,208.7C1191.6,208.1 1194.0,206.5 1196.5,206.3C1199.0,206.1 1201.1,207.8 1203.8,207.5C1206.5,207.2 1209.6,205.2 1212.6,204.5C1215.5,203.8 1220.0,203.4 1221.5,203.2"/>
<path class="dg" d="M1016.0,257.0C1016.1,256.7 1016.4,255.9 1016.6,255.3C1016.8,254.7 1017.1,254.2 1017.4,253.6C1017.7,253.0 1018.0,252.7 1018.2,252.0C1018.5,251.3 1018.6,250.6 1018.9,249.7C1019.2,248.8 1019.6,247.5 1020.1,246.7C1020.6,245.9 1021.1,245.3 1021.7,244.8C1022.4,244.3 1023.2,244.3 1024.0,243.9C1024.8,243.5 1025.3,242.9 1026.3,242.3C1027.2,241.7 1028.6,240.4 1029.7,240.1C1030.8,239.8 1031.7,239.9 1032.8,240.2C1033.9,240.5 1035.0,241.5 1036.3,241.7C1037.6,241.9 1038.8,241.6 1040.4,241.2C1042.0,240.8 1044.2,239.6 1045.9,239.2C1047.6,238.8 1049.2,238.6 1050.7,238.5C1052.2,238.4 1053.5,239.0 1054.9,238.6C1056.3,238.2 1057.5,237.3 1059.1,236.3C1060.7,235.3 1062.5,233.6 1064.3,232.6C1066.1,231.6 1068.0,230.8 1069.8,230.3C1071.5,229.8 1073.2,230.0 1074.8,229.4C1076.3,228.8 1077.6,228.0 1079.1,227.0C1080.6,226.0 1082.0,224.4 1083.6,223.6C1085.2,222.8 1087.9,222.4 1088.8,222.2"/>
<path class="dg" d="M1016.0,257.0C1016.0,256.7 1016.1,255.9 1016.1,255.3C1016.1,254.7 1016.0,254.0 1016.0,253.3C1016.0,252.6 1015.9,251.8 1015.9,251.0C1015.9,250.2 1015.8,249.4 1015.9,248.7C1016.0,248.0 1016.5,247.2 1016.8,246.6C1017.1,245.9 1017.5,245.4 1017.8,244.8C1018.1,244.2 1018.5,243.6 1018.8,243.1C1019.1,242.6 1019.2,242.1 1019.8,241.7C1020.4,241.3 1021.6,240.8 1022.6,240.7C1023.6,240.6 1024.6,240.9 1025.6,241.0C1026.6,241.1 1027.6,241.3 1028.6,241.1C1029.6,240.9 1030.3,240.7 1031.5,240.0C1032.7,239.3 1034.4,238.3 1035.7,237.1C1037.0,235.9 1038.2,234.3 1039.4,233.0C1040.6,231.7 1041.6,230.2 1042.7,229.0C1043.8,227.8 1044.7,226.5 1045.9,225.5C1047.1,224.5 1048.4,223.8 1049.8,222.8C1051.2,221.9 1052.7,220.8 1054.2,219.8C1055.7,218.8 1057.3,217.7 1058.9,216.8C1060.5,215.9 1062.1,214.9 1063.8,214.3C1065.5,213.7 1067.3,213.5 1069.0,213.3C1070.7,213.1 1072.4,213.2 1074.1,213.2C1075.8,213.1 1077.6,213.3 1079.3,213.0C1081.0,212.7 1082.7,212.2 1084.5,211.5C1086.3,210.8 1088.1,210.0 1089.9,209.1C1091.7,208.2 1093.6,206.9 1095.5,205.9C1097.4,204.9 1099.3,203.9 1101.1,203.0C1102.9,202.1 1104.8,201.2 1106.5,200.4C1108.2,199.6 1109.8,199.1 1111.3,198.3C1112.8,197.5 1114.3,196.6 1115.7,195.8C1117.1,195.0 1118.4,194.1 1119.8,193.5C1121.2,192.9 1122.5,192.4 1123.9,192.3C1125.4,192.2 1126.9,192.5 1128.5,192.8C1130.1,193.1 1131.7,193.8 1133.3,194.2C1134.9,194.6 1136.6,195.2 1138.3,195.5C1140.0,195.8 1141.5,195.9 1143.4,195.7C1145.3,195.5 1147.5,194.9 1149.5,194.4C1151.5,193.9 1153.5,193.4 1155.6,192.9C1157.6,192.4 1159.7,192.0 1161.8,191.5C1163.9,191.0 1165.9,190.7 1168.4,190.1C1170.9,189.5 1173.8,188.6 1176.6,187.7C1179.3,186.8 1182.2,185.7 1184.9,184.7C1187.6,183.7 1190.4,182.6 1193.0,181.9C1195.6,181.2 1199.4,180.7 1200.7,180.4"/>
<path class="lgy" d="M1200.7,180.4C1202.0,180.0 1205.8,178.7 1208.3,178.0C1210.8,177.3 1213.4,176.7 1216.0,176.0C1218.6,175.3 1221.2,174.6 1223.8,174.0C1226.4,173.4 1229.0,172.9 1231.6,172.4C1234.2,171.9 1236.9,171.6 1239.5,171.1C1242.1,170.6 1244.8,170.0 1247.4,169.6C1250.0,169.2 1252.7,168.9 1255.3,168.6C1257.9,168.3 1260.6,168.0 1263.3,167.6C1266.0,167.2 1268.6,166.8 1271.2,166.3C1273.8,165.8 1276.4,165.3 1279.0,164.8C1281.6,164.3 1285.6,163.6 1286.9,163.3"/>
<path class="dg" d="M1016.0,257.0C1016.5,256.8 1018.0,256.2 1019.0,255.9C1020.0,255.6 1021.0,255.4 1022.0,255.2C1023.0,255.0 1024.0,254.9 1024.9,254.8C1025.8,254.7 1026.7,254.6 1027.6,254.4C1028.5,254.2 1029.5,253.7 1030.4,253.4C1031.3,253.1 1032.3,252.9 1033.2,252.7C1034.1,252.5 1035.0,252.5 1036.0,252.4C1037.0,252.3 1037.9,252.4 1038.9,252.3C1040.0,252.2 1041.2,252.1 1042.3,251.8C1043.4,251.5 1044.5,251.0 1045.6,250.4C1046.6,249.8 1047.6,248.8 1048.6,248.1C1049.6,247.4 1050.4,246.7 1051.6,246.2C1052.8,245.7 1054.5,245.4 1056.0,245.0C1057.5,244.6 1059.1,244.3 1060.7,243.9C1062.3,243.5 1063.9,243.0 1065.6,242.3C1067.2,241.6 1068.9,240.6 1070.6,239.9C1072.3,239.2 1074.0,238.5 1075.6,237.9C1077.2,237.3 1078.8,237.0 1080.3,236.6C1081.8,236.2 1083.3,236.0 1084.8,235.7C1086.3,235.3 1087.8,235.0 1089.3,234.5C1090.8,234.0 1092.5,233.4 1094.1,232.7C1095.7,232.0 1097.3,231.0 1099.0,230.1C1100.7,229.2 1102.4,228.3 1104.0,227.5C1105.6,226.7 1107.2,226.0 1108.8,225.5C1110.3,225.0 1112.5,224.5 1113.3,224.3"/>
<path class="lgy" d="M1113.3,224.3C1114.5,223.8 1118.3,222.4 1120.8,221.5C1123.3,220.6 1125.9,219.7 1128.4,218.8C1130.9,217.9 1133.4,216.9 1135.9,216.0C1138.4,215.1 1140.8,214.2 1143.3,213.2C1145.8,212.2 1148.2,211.2 1150.7,210.1C1153.2,209.0 1155.6,208.0 1158.0,206.8C1160.4,205.6 1162.7,204.3 1165.1,203.1C1167.5,201.9 1170.0,200.8 1172.4,199.7C1174.8,198.5 1178.3,196.8 1179.5,196.2"/>
<path class="dg" d="M1016.0,257.0C1016.0,256.7 1015.9,255.8 1015.8,255.2C1015.7,254.6 1015.6,254.1 1015.5,253.4C1015.4,252.8 1015.2,252.0 1015.1,251.3C1015.0,250.6 1014.8,249.7 1014.8,249.0C1014.8,248.3 1015.1,247.5 1015.3,246.9C1015.5,246.3 1015.7,245.8 1015.9,245.3C1016.1,244.8 1016.3,244.5 1016.5,243.8C1016.7,243.1 1016.5,242.5 1016.9,241.3C1017.3,240.1 1018.2,238.4 1018.7,236.8C1019.2,235.2 1019.6,233.4 1020.1,232.0C1020.6,230.6 1021.0,229.5 1021.6,228.6C1022.2,227.7 1022.5,227.2 1023.5,226.4C1024.5,225.6 1026.1,224.9 1027.5,223.9C1028.9,222.9 1030.3,221.7 1031.7,220.5C1033.1,219.3 1034.5,217.9 1035.8,216.8C1037.1,215.8 1038.3,214.7 1039.7,214.2C1041.1,213.7 1042.7,213.9 1044.2,214.0C1045.7,214.1 1047.2,214.6 1048.8,214.8C1050.4,215.0 1052.0,215.2 1053.7,215.1C1055.4,215.0 1057.3,214.4 1059.2,214.1C1061.1,213.8 1063.1,213.3 1065.1,213.0C1067.0,212.7 1069.1,212.5 1070.9,212.5C1072.8,212.5 1074.5,212.8 1076.2,212.8C1077.9,212.8 1079.5,212.9 1081.1,212.6C1082.7,212.3 1084.2,211.9 1085.8,211.1C1087.4,210.3 1088.9,209.0 1090.5,207.8C1092.1,206.6 1093.7,205.1 1095.4,204.0C1097.1,202.9 1098.9,201.8 1100.6,201.0C1102.3,200.2 1104.1,199.8 1105.8,199.2C1107.5,198.5 1109.8,197.4 1110.6,197.1"/>
<path class="dg" d="M1016.0,257.0C1016.2,256.9 1016.8,256.6 1017.2,256.3C1017.6,256.1 1018.0,255.7 1018.4,255.5C1018.8,255.3 1019.3,255.3 1019.7,255.1C1020.1,254.8 1020.3,254.6 1020.7,254.0C1021.1,253.4 1021.5,252.2 1021.9,251.5C1022.3,250.8 1022.7,250.2 1023.2,249.7C1023.7,249.1 1024.4,249.0 1025.0,248.2C1025.6,247.4 1026.1,246.1 1026.8,244.8C1027.5,243.5 1028.5,241.7 1029.3,240.6C1030.1,239.5 1030.6,239.2 1031.5,238.5C1032.4,237.8 1033.4,237.4 1034.5,236.3C1035.6,235.2 1036.8,233.2 1038.2,232.0C1039.6,230.8 1041.5,229.9 1042.9,229.3C1044.3,228.7 1045.5,229.1 1046.8,228.6C1048.1,228.1 1049.2,227.2 1050.7,226.2C1052.2,225.2 1053.8,223.3 1055.5,222.6C1057.2,221.9 1059.2,222.1 1060.9,221.9C1062.6,221.7 1064.2,222.0 1065.7,221.5C1067.2,221.0 1068.4,219.6 1069.8,218.7C1071.2,217.8 1072.6,216.5 1074.2,216.1C1075.8,215.7 1077.7,216.3 1079.4,216.1C1081.1,215.9 1083.0,215.7 1084.6,215.0C1086.2,214.3 1087.6,212.7 1089.0,211.9C1090.4,211.2 1091.5,210.6 1092.9,210.5C1094.3,210.4 1095.8,211.2 1097.4,211.1C1099.0,211.0 1100.8,210.3 1102.5,209.7C1104.2,209.1 1106.0,207.9 1107.5,207.7C1109.0,207.5 1110.2,208.0 1111.6,208.3C1113.0,208.6 1114.2,209.6 1115.7,209.7C1117.2,209.8 1118.8,209.0 1120.5,208.8C1122.2,208.6 1124.2,208.3 1125.9,208.6C1127.6,208.9 1130.1,210.4 1130.9,210.8"/>
<path class="dg" d="M1016.0,257.0C1016.3,256.9 1017.4,256.8 1018.0,256.6C1018.6,256.5 1019.2,256.3 1019.8,256.1C1020.4,255.9 1020.9,255.7 1021.5,255.6C1022.1,255.5 1022.8,255.9 1023.4,255.7C1024.0,255.4 1024.8,254.8 1025.3,254.1C1025.8,253.4 1026.1,252.1 1026.6,251.5C1027.1,250.9 1027.5,250.9 1028.1,250.3C1028.7,249.7 1029.5,248.9 1030.4,247.8C1031.3,246.7 1032.6,244.7 1033.5,243.9C1034.4,243.1 1035.1,243.4 1036.0,243.1C1036.9,242.8 1037.8,242.7 1038.9,241.9C1040.0,241.1 1041.3,239.2 1042.8,238.3C1044.3,237.5 1046.3,237.3 1047.7,236.8C1049.1,236.3 1050.2,236.3 1051.4,235.1C1052.6,233.9 1053.7,231.3 1055.1,229.8C1056.5,228.3 1058.1,227.1 1059.6,226.2C1061.1,225.3 1062.8,225.4 1064.1,224.4C1065.4,223.4 1066.4,221.3 1067.6,220.1C1068.8,218.9 1069.8,217.8 1071.1,217.4C1072.4,217.0 1074.1,218.0 1075.7,217.9C1077.3,217.8 1079.2,217.1 1080.8,216.6C1082.4,216.1 1083.7,215.2 1085.1,215.2C1086.5,215.2 1087.6,216.4 1089.2,216.4C1090.8,216.4 1092.7,215.8 1094.5,215.2C1096.3,214.5 1098.4,212.9 1100.1,212.5C1101.8,212.1 1103.3,212.7 1104.7,212.5C1106.1,212.3 1107.2,212.1 1108.7,211.4C1110.2,210.7 1111.8,208.8 1113.4,208.4C1115.0,208.0 1117.7,209.1 1118.5,209.2"/>
<path class="lgy" d="M1118.5,209.2C1119.8,208.8 1123.5,207.7 1126.1,206.9C1128.6,206.1 1131.3,205.3 1133.8,204.4C1136.3,203.5 1138.7,202.6 1141.2,201.6C1143.7,200.6 1146.2,199.6 1148.7,198.6C1151.2,197.6 1154.8,195.9 1156.0,195.4"/>
<path class="dg" d="M1016.0,257.0C1016.1,256.7 1016.3,256.0 1016.4,255.4C1016.5,254.8 1016.6,254.3 1016.7,253.7C1016.8,253.0 1016.8,252.3 1016.8,251.5C1016.8,250.7 1016.8,249.8 1017.0,249.0C1017.2,248.2 1017.6,247.3 1017.9,246.4C1018.2,245.5 1018.6,244.7 1018.9,243.8C1019.2,242.9 1019.6,242.0 1019.9,241.0C1020.2,240.0 1020.2,238.8 1020.8,237.8C1021.4,236.8 1022.6,235.6 1023.5,234.8C1024.4,234.0 1025.2,233.4 1026.2,233.1C1027.2,232.8 1028.3,233.1 1029.4,233.2C1030.5,233.3 1031.4,233.6 1032.7,233.5C1034.0,233.4 1036.0,233.0 1037.5,232.4C1039.0,231.8 1040.6,231.0 1042.0,230.1C1043.4,229.2 1044.8,228.1 1046.1,227.2C1047.4,226.3 1048.4,225.4 1049.7,224.8C1051.0,224.2 1052.4,223.9 1053.8,223.4C1055.2,222.9 1056.6,222.6 1058.1,222.1C1059.6,221.6 1061.0,221.0 1062.6,220.4C1064.1,219.8 1065.7,219.0 1067.4,218.5C1069.1,218.0 1070.9,217.6 1072.6,217.5C1074.3,217.4 1076.1,217.5 1077.8,217.7C1079.5,217.8 1081.2,218.3 1082.9,218.4C1084.6,218.5 1086.2,218.6 1087.9,218.4C1089.6,218.2 1091.2,217.9 1093.0,217.3C1094.8,216.7 1096.6,215.6 1098.4,214.7C1100.2,213.8 1102.1,212.6 1103.9,211.7C1105.8,210.8 1107.7,210.0 1109.5,209.3C1111.3,208.7 1113.1,208.3 1114.8,207.8C1116.5,207.3 1118.2,206.9 1119.7,206.4C1121.2,205.9 1122.7,205.2 1124.1,204.6C1125.5,204.0 1126.8,203.2 1128.3,202.7C1129.8,202.2 1131.3,201.9 1132.8,201.7C1134.3,201.5 1135.8,201.6 1137.5,201.7C1139.2,201.8 1140.9,202.1 1142.7,202.1C1144.5,202.1 1146.1,202.1 1148.1,201.6C1150.0,201.1 1152.3,200.1 1154.4,199.2C1156.5,198.2 1158.5,196.9 1160.6,195.9C1162.6,194.9 1165.7,193.4 1166.7,192.9"/>
<path class="dg" d="M1016.0,257.0C1016.1,256.7 1016.3,255.9 1016.4,255.3C1016.5,254.7 1016.6,254.1 1016.7,253.5C1016.8,252.9 1016.8,252.3 1016.9,251.8C1017.0,251.3 1017.0,251.1 1017.2,250.5C1017.4,249.9 1017.7,248.8 1017.9,248.1C1018.1,247.4 1018.0,247.3 1018.2,246.6C1018.4,245.9 1018.8,245.0 1018.9,244.1C1019.0,243.2 1018.8,242.0 1019.1,241.1C1019.4,240.2 1020.0,239.7 1020.6,238.4C1021.2,237.1 1021.9,234.7 1022.6,233.4C1023.3,232.1 1024.1,231.8 1024.7,230.7C1025.3,229.6 1025.3,228.3 1026.2,227.1C1027.1,225.9 1028.6,224.3 1029.9,223.4C1031.2,222.5 1032.8,222.5 1034.0,221.7C1035.2,220.8 1036.2,219.0 1037.4,218.3C1038.6,217.6 1039.7,217.8 1041.2,217.5C1042.7,217.2 1044.8,216.9 1046.5,216.5C1048.2,216.1 1049.7,215.4 1051.2,215.3C1052.7,215.2 1054.1,216.0 1055.7,215.8C1057.3,215.6 1059.3,214.4 1061.1,214.1C1062.8,213.8 1064.6,214.4 1066.2,214.2C1067.8,214.0 1069.0,213.7 1070.6,213.1C1072.2,212.5 1074.0,211.4 1075.7,210.8C1077.4,210.2 1079.3,210.4 1080.8,209.7C1082.3,209.0 1083.5,207.3 1084.9,206.4C1086.3,205.5 1087.8,205.1 1089.3,204.3C1090.8,203.5 1092.6,202.5 1094.1,201.4C1095.5,200.3 1096.7,198.4 1098.0,197.5C1099.3,196.6 1100.5,196.8 1102.0,196.0C1103.5,195.2 1105.9,193.1 1106.7,192.5"/>
<path class="lgy" d="M1106.7,192.5C1107.8,191.8 1111.1,189.4 1113.3,188.0C1115.5,186.6 1117.8,185.2 1120.1,183.8C1122.4,182.4 1124.8,181.1 1127.1,179.8C1129.4,178.5 1131.8,177.2 1134.1,176.0C1136.4,174.8 1138.8,173.6 1141.2,172.4C1143.6,171.2 1146.0,169.9 1148.3,168.6C1150.6,167.3 1153.0,165.9 1155.2,164.5C1157.5,163.1 1159.6,161.6 1161.8,160.1C1164.0,158.6 1166.3,157.2 1168.5,155.7C1170.7,154.2 1173.0,152.7 1175.2,151.3C1177.5,149.9 1180.9,147.9 1182.0,147.2"/>
<path class="dg" d="M1016.0,257.0C1016.1,256.8 1016.5,256.2 1016.8,255.8C1017.1,255.4 1017.3,254.8 1017.6,254.6C1017.9,254.3 1018.2,254.4 1018.5,254.3C1018.8,254.2 1019.1,254.5 1019.4,254.1C1019.7,253.7 1020.1,252.8 1020.4,252.1C1020.7,251.4 1020.9,250.4 1021.2,249.9C1021.6,249.4 1022.0,249.5 1022.5,249.0C1023.0,248.5 1023.6,247.6 1024.5,246.7C1025.4,245.8 1026.7,243.9 1027.7,243.3C1028.7,242.7 1029.4,243.2 1030.4,243.3C1031.4,243.4 1032.6,244.3 1033.9,244.0C1035.2,243.7 1036.7,242.3 1038.4,241.6C1040.1,240.9 1042.4,240.1 1044.1,239.7C1045.8,239.3 1047.2,240.0 1048.6,239.3C1050.0,238.6 1051.2,237.2 1052.6,235.6C1054.0,234.0 1055.5,231.2 1057.2,229.7C1058.9,228.2 1060.8,227.7 1062.5,226.8C1064.2,225.9 1065.7,225.6 1067.1,224.5C1068.5,223.4 1069.5,221.2 1070.8,220.1C1072.1,219.0 1073.4,218.1 1075.1,218.0C1076.8,217.9 1078.9,219.4 1080.8,219.6C1082.7,219.8 1084.8,219.6 1086.7,219.2C1088.6,218.8 1090.2,217.5 1091.9,217.2C1093.6,216.9 1095.2,217.4 1097.0,217.5C1098.8,217.6 1100.9,218.1 1103.0,217.5C1105.1,216.9 1107.5,214.8 1109.6,213.7C1111.7,212.6 1113.7,211.4 1115.4,211.0C1117.2,210.6 1118.5,211.2 1120.1,211.0C1121.6,210.8 1123.0,210.4 1124.7,210.1C1126.4,209.8 1128.2,208.7 1130.0,209.0C1131.8,209.3 1133.7,210.8 1135.3,211.9C1136.9,213.0 1138.2,214.7 1139.6,215.4C1141.0,216.1 1142.1,215.6 1143.6,215.9C1145.1,216.2 1146.8,216.5 1148.6,217.2C1150.4,217.9 1152.6,219.6 1154.6,219.9C1156.6,220.2 1158.6,219.8 1160.5,219.2C1162.4,218.6 1164.3,216.8 1166.2,216.4C1168.1,216.0 1170.0,216.5 1172.1,216.7C1174.2,216.8 1176.7,217.4 1179.0,217.3C1181.3,217.2 1184.9,216.2 1186.1,216.0"/>
<path class="dg" d="M1016.0,257.0C1016.5,257.0 1018.2,257.0 1019.2,256.9C1020.2,256.8 1021.3,256.8 1022.3,256.6C1023.3,256.4 1024.3,256.1 1025.3,255.9C1026.3,255.7 1027.2,255.7 1028.3,255.4C1029.4,255.1 1030.6,254.9 1031.7,254.3C1032.8,253.8 1033.8,253.0 1034.8,252.1C1035.8,251.2 1036.7,249.8 1037.6,248.9C1038.5,248.0 1039.2,247.2 1040.3,246.5C1041.4,245.8 1042.8,245.6 1044.1,244.9C1045.4,244.2 1047.0,243.0 1048.4,242.1C1049.8,241.2 1051.2,240.0 1052.5,239.4C1053.8,238.8 1054.7,238.7 1056.1,238.7C1057.5,238.7 1059.3,239.2 1061.0,239.2C1062.7,239.2 1064.5,238.9 1066.4,238.5C1068.3,238.1 1070.3,237.3 1072.2,237.0C1074.1,236.7 1076.1,236.8 1077.8,236.9C1079.5,237.1 1081.0,237.9 1082.5,237.9C1084.0,237.9 1085.4,237.7 1086.9,237.2C1088.4,236.7 1090.0,235.6 1091.6,235.1C1093.2,234.6 1095.0,234.2 1096.7,234.2C1098.4,234.1 1100.2,234.8 1101.8,234.8C1103.4,234.8 1104.8,234.5 1106.2,234.1C1107.6,233.7 1109.6,232.7 1110.3,232.4"/>
<path class="dg" d="M1016.0,257.0C1016.5,257.0 1018.1,256.9 1019.2,256.9C1020.3,256.9 1021.4,257.0 1022.4,256.9C1023.4,256.8 1024.4,256.5 1025.4,256.3C1026.4,256.1 1027.3,256.0 1028.4,255.9C1029.5,255.8 1030.8,256.0 1031.9,255.7C1033.1,255.4 1034.3,254.8 1035.3,254.2C1036.3,253.6 1037.1,252.5 1038.0,252.0C1038.9,251.5 1039.5,251.6 1040.5,251.1C1041.5,250.6 1043.0,250.2 1044.3,249.1C1045.6,248.0 1047.0,245.7 1048.1,244.6C1049.2,243.5 1050.0,243.1 1050.9,242.4C1051.8,241.7 1052.3,241.6 1053.6,240.6C1054.8,239.6 1056.7,237.6 1058.4,236.5C1060.1,235.4 1062.1,234.4 1063.7,234.0C1065.3,233.6 1066.8,234.2 1068.3,233.8C1069.8,233.4 1071.0,232.3 1072.5,231.6C1074.0,230.9 1075.5,229.9 1077.2,229.7C1078.9,229.5 1080.9,230.4 1082.7,230.5C1084.5,230.6 1086.2,230.6 1087.8,230.1C1089.3,229.6 1090.6,228.1 1092.0,227.7C1093.4,227.3 1094.8,227.8 1096.4,227.9C1098.0,228.0 1099.9,228.5 1101.6,228.1C1103.3,227.7 1105.2,226.2 1106.7,225.6C1108.2,225.0 1109.5,224.4 1110.8,224.4C1112.1,224.4 1113.2,225.4 1114.6,225.4C1116.0,225.4 1117.6,224.7 1119.2,224.3C1120.8,224.0 1123.3,223.5 1124.1,223.3"/>
<path class="lgy" d="M1124.1,223.3C1125.4,223.0 1129.3,222.2 1131.9,221.6C1134.5,221.0 1137.2,220.5 1139.8,219.9C1142.4,219.3 1145.0,218.7 1147.6,218.1C1150.2,217.5 1154.1,216.7 1155.4,216.4"/>
<path class="dg" d="M1016.0,257.0C1016.2,256.6 1016.7,255.5 1017.1,254.8C1017.5,254.2 1017.9,253.6 1018.3,253.1C1018.7,252.6 1019.2,252.3 1019.7,252.1C1020.2,251.9 1020.6,251.9 1021.1,251.7C1021.6,251.5 1022.3,251.2 1022.9,250.9C1023.5,250.6 1023.9,250.2 1024.4,249.7C1024.9,249.2 1025.3,248.5 1025.8,248.1C1026.3,247.7 1026.6,247.3 1027.4,247.0C1028.2,246.7 1029.5,246.6 1030.6,246.5C1031.7,246.4 1032.9,246.5 1034.1,246.3C1035.3,246.1 1036.7,245.7 1037.9,245.4C1039.2,245.1 1040.1,244.6 1041.6,244.3C1043.0,244.0 1044.9,243.6 1046.6,243.4C1048.2,243.2 1049.8,243.2 1051.5,243.1C1053.2,242.9 1054.9,242.9 1056.6,242.5C1058.3,242.1 1060.0,241.5 1061.8,240.7C1063.6,239.8 1065.5,238.7 1067.3,237.4C1069.1,236.1 1070.9,234.5 1072.6,233.1C1074.3,231.7 1076.0,230.3 1077.6,229.2C1079.2,228.1 1080.7,227.3 1082.2,226.7C1083.7,226.1 1085.2,225.9 1086.7,225.5C1088.2,225.1 1089.8,224.8 1091.4,224.4C1093.0,224.0 1094.7,223.4 1096.5,222.8C1098.3,222.2 1100.2,221.4 1102.1,220.9C1104.0,220.4 1106.0,220.1 1108.0,219.8C1110.0,219.5 1113.0,219.2 1114.0,219.1"/>
<path class="lgy" d="M1114.0,219.1C1115.3,218.8 1119.3,218.1 1121.9,217.6C1124.5,217.1 1127.1,216.6 1129.7,216.0C1132.3,215.4 1134.9,214.8 1137.5,214.2C1140.1,213.6 1142.7,212.9 1145.3,212.3C1147.9,211.7 1150.5,211.3 1153.1,210.8C1155.7,210.3 1158.3,209.7 1160.9,209.1C1163.5,208.5 1166.1,207.8 1168.7,207.1C1171.3,206.4 1173.8,205.5 1176.3,204.7C1178.8,203.9 1182.7,202.7 1184.0,202.3"/>
<path class="dg" d="M1016.0,257.0C1015.7,256.6 1014.8,255.6 1014.2,254.9C1013.6,254.2 1013.1,253.3 1012.6,252.6C1012.1,251.9 1011.5,251.2 1011.0,250.5C1010.5,249.8 1009.9,249.3 1009.5,248.6C1009.1,247.9 1009.1,247.3 1008.9,246.5C1008.7,245.7 1008.4,244.8 1008.2,244.0C1008.0,243.2 1007.7,242.3 1007.5,241.6C1007.3,240.9 1006.6,240.5 1006.9,239.7C1007.1,238.8 1008.3,237.8 1009.0,236.5C1009.7,235.2 1010.3,233.7 1010.9,232.1C1011.5,230.5 1011.9,228.7 1012.4,227.2C1012.9,225.7 1013.0,224.4 1013.7,223.1C1014.5,221.8 1015.8,220.7 1016.9,219.3C1018.0,218.0 1019.3,216.5 1020.5,215.0C1021.7,213.5 1023.0,211.7 1024.3,210.1C1025.6,208.5 1026.7,206.8 1028.1,205.5C1029.5,204.2 1031.2,203.4 1032.8,202.6C1034.4,201.8 1035.9,201.2 1037.5,200.5C1039.1,199.8 1040.6,199.0 1042.2,198.1C1043.8,197.2 1045.5,196.0 1047.3,195.2C1049.1,194.4 1051.0,193.7 1052.9,193.2C1054.8,192.7 1056.7,192.6 1058.5,192.3C1060.3,192.1 1062.2,192.0 1063.9,191.7C1065.7,191.3 1067.3,190.7 1069.0,190.2C1070.7,189.7 1072.3,189.1 1074.0,188.6C1075.7,188.1 1077.5,187.7 1079.3,187.4C1081.1,187.1 1082.9,187.1 1084.7,186.9C1086.5,186.7 1088.4,186.6 1090.2,186.3C1092.0,186.0 1093.7,185.5 1095.4,185.0C1097.1,184.5 1098.6,183.7 1100.2,183.3C1101.8,182.9 1103.3,182.6 1104.9,182.4C1106.5,182.2 1108.0,182.3 1109.7,182.2C1111.4,182.1 1113.2,182.1 1115.0,181.8C1116.8,181.6 1118.6,181.1 1120.4,180.7C1122.2,180.3 1124.0,179.8 1125.7,179.6C1127.4,179.4 1128.8,179.5 1130.7,179.5C1132.6,179.5 1134.8,179.7 1136.9,179.7C1139.0,179.7 1141.1,179.7 1143.3,179.4C1145.5,179.2 1147.7,178.6 1150.0,178.2C1152.3,177.8 1154.5,177.4 1157.0,177.1C1159.5,176.8 1163.6,176.5 1164.9,176.4"/>
<path class="lgy" d="M1164.9,176.4C1166.2,176.2 1170.2,175.8 1172.9,175.4C1175.6,175.1 1178.2,174.6 1180.8,174.3C1183.4,174.0 1186.1,173.8 1188.7,173.5C1191.3,173.2 1193.9,172.7 1196.6,172.3C1199.2,172.0 1201.9,171.8 1204.6,171.4C1207.2,171.1 1211.2,170.4 1212.5,170.2"/>
<path class="dg" d="M1016.0,257.0C1016.1,256.8 1016.3,256.1 1016.4,255.6C1016.5,255.1 1016.6,254.6 1016.7,253.9C1016.8,253.2 1016.8,252.5 1016.9,251.7C1017.0,250.9 1017.0,250.0 1017.2,249.1C1017.4,248.2 1017.9,247.3 1018.3,246.5C1018.7,245.7 1019.1,245.0 1019.5,244.2C1019.9,243.4 1020.3,242.6 1020.7,241.7C1021.1,240.8 1021.1,239.7 1021.7,238.6C1022.3,237.5 1023.4,236.2 1024.2,235.2C1025.0,234.2 1025.9,233.2 1026.8,232.8C1027.7,232.4 1028.8,232.6 1029.8,232.7C1030.8,232.8 1031.7,233.1 1033.1,233.1C1034.5,233.1 1036.5,232.9 1038.2,232.7C1039.9,232.4 1041.5,232.0 1043.1,231.6C1044.7,231.2 1046.2,230.7 1047.7,230.4C1049.2,230.2 1050.4,230.1 1051.9,230.1C1053.4,230.1 1055.0,230.6 1056.6,230.6C1058.2,230.6 1059.8,230.6 1061.4,230.2C1063.1,229.8 1064.8,229.0 1066.5,228.2C1068.2,227.3 1070.0,226.1 1071.7,225.1C1073.4,224.1 1075.2,223.1 1076.9,222.3C1078.6,221.5 1080.2,220.8 1081.8,220.1C1083.4,219.4 1084.9,218.9 1086.4,218.1C1087.9,217.3 1089.3,216.4 1090.8,215.3C1092.3,214.2 1093.8,213.0 1095.3,211.8C1096.8,210.7 1098.4,209.4 1100.1,208.4C1101.8,207.4 1103.6,206.7 1105.4,206.1C1107.2,205.5 1109.0,205.3 1110.7,205.1C1112.5,204.9 1114.2,205.1 1115.9,205.0C1117.6,204.9 1119.3,204.6 1120.9,204.3C1122.5,204.0 1124.1,203.5 1125.7,203.2C1127.3,202.9 1128.9,202.6 1130.6,202.6C1132.3,202.6 1134.2,203.0 1136.0,203.3C1137.8,203.7 1139.8,204.3 1141.7,204.7C1143.6,205.1 1145.6,205.5 1147.6,205.7C1149.5,205.8 1151.4,205.8 1153.4,205.6C1155.4,205.4 1157.6,204.8 1159.6,204.5C1161.6,204.2 1163.6,203.9 1165.5,203.9C1167.4,203.9 1169.3,204.1 1171.2,204.3C1173.1,204.5 1174.8,204.9 1177.1,204.9C1179.4,204.9 1183.5,204.3 1184.8,204.2"/>
<path class="dg" d="M1016.0,257.0C1015.9,256.7 1015.6,256.0 1015.4,255.4C1015.2,254.8 1015.0,254.3 1014.8,253.7C1014.6,253.1 1014.5,252.6 1014.3,252.0C1014.1,251.4 1013.8,250.8 1013.8,250.0C1013.8,249.2 1013.9,248.3 1014.0,247.4C1014.1,246.5 1014.2,245.5 1014.3,244.6C1014.4,243.7 1014.6,242.8 1014.8,242.1C1015.0,241.4 1015.0,240.9 1015.7,240.4C1016.4,239.9 1017.8,239.4 1018.9,238.8C1020.0,238.2 1021.1,237.6 1022.1,236.8C1023.1,236.0 1024.1,235.0 1025.0,234.2C1025.9,233.3 1026.5,232.4 1027.6,231.7C1028.7,230.9 1030.3,230.3 1031.7,229.7C1033.1,229.1 1034.5,228.7 1035.9,228.2C1037.3,227.7 1038.8,227.3 1040.2,226.5C1041.7,225.7 1043.0,224.7 1044.6,223.6C1046.2,222.5 1048.1,221.2 1049.8,220.0C1051.5,218.8 1053.1,217.5 1054.7,216.4C1056.3,215.3 1057.8,214.3 1059.3,213.4C1060.8,212.5 1062.2,211.8 1063.7,211.1C1065.2,210.4 1066.7,209.8 1068.2,209.0C1069.7,208.2 1071.3,207.3 1072.9,206.3C1074.5,205.3 1076.3,204.1 1078.0,203.2C1079.7,202.3 1082.4,201.3 1083.3,200.9"/>
<path class="dg" d="M1016.0,257.0C1016.4,256.8 1017.4,256.4 1018.1,255.9C1018.8,255.5 1019.5,255.0 1020.1,254.3C1020.8,253.7 1021.4,252.8 1022.0,252.0C1022.6,251.2 1023.2,250.2 1024.0,249.4C1024.8,248.6 1025.9,247.6 1026.9,247.1C1028.0,246.6 1029.2,246.6 1030.3,246.5C1031.4,246.4 1032.7,246.8 1033.8,246.8C1034.9,246.8 1035.9,247.0 1037.0,246.6C1038.1,246.2 1039.5,245.3 1040.6,244.3C1041.6,243.3 1042.4,241.6 1043.3,240.4C1044.2,239.2 1044.8,238.1 1045.7,237.3C1046.6,236.6 1047.2,236.1 1048.4,235.9C1049.7,235.7 1051.5,235.9 1053.2,236.1C1054.9,236.3 1056.7,236.7 1058.6,237.0C1060.5,237.3 1062.5,237.5 1064.4,237.7C1066.3,237.9 1068.3,237.9 1070.2,238.0C1072.1,238.1 1074.1,238.2 1075.9,238.1C1077.7,238.0 1079.4,237.9 1081.1,237.5C1082.8,237.1 1084.5,236.4 1086.2,235.7C1087.9,235.0 1089.4,233.9 1091.0,233.3C1092.6,232.7 1094.2,232.1 1095.7,231.9C1097.2,231.8 1099.5,232.3 1100.3,232.4"/>
<path class="lgy" d="M1100.3,232.4C1101.6,232.2 1105.6,231.4 1108.2,230.9C1110.8,230.4 1113.4,229.7 1116.0,229.2C1118.6,228.7 1121.3,228.2 1123.9,227.8C1126.5,227.4 1129.2,226.9 1131.8,226.5C1134.4,226.1 1137.0,225.8 1139.7,225.5C1142.4,225.2 1145.0,225.0 1147.7,224.8C1150.4,224.6 1153.1,224.3 1155.7,224.1C1158.3,223.9 1160.9,223.7 1163.6,223.4C1166.2,223.1 1170.3,222.7 1171.6,222.5"/>
<path class="dg" d="M1016.0,257.0C1016.2,256.9 1017.0,256.4 1017.5,256.1C1018.0,255.8 1018.4,255.4 1018.9,255.1C1019.4,254.8 1019.9,254.5 1020.3,254.2C1020.7,253.9 1021.0,253.6 1021.5,253.2C1022.0,252.8 1022.7,252.3 1023.3,251.9C1023.9,251.5 1024.4,251.2 1024.9,250.8C1025.4,250.4 1026.0,249.9 1026.5,249.3C1027.0,248.7 1027.3,248.1 1027.9,247.1C1028.5,246.1 1029.5,244.8 1030.3,243.6C1031.1,242.4 1031.7,240.8 1032.5,239.7C1033.3,238.6 1034.1,237.7 1034.9,237.1C1035.7,236.5 1036.3,236.3 1037.5,236.0C1038.7,235.7 1040.5,235.7 1042.0,235.3C1043.5,234.9 1045.2,234.5 1046.8,233.6C1048.4,232.7 1049.9,231.5 1051.4,230.1C1052.9,228.7 1054.3,226.8 1055.7,225.4C1057.1,224.0 1058.5,222.5 1059.8,221.4C1061.1,220.3 1062.4,219.5 1063.6,218.9C1064.8,218.3 1066.0,218.0 1067.2,217.7C1068.4,217.3 1069.6,217.1 1071.0,216.8C1072.4,216.5 1073.9,216.2 1075.5,215.7C1077.1,215.2 1078.8,214.4 1080.5,213.7C1082.2,213.0 1084.8,211.9 1085.7,211.5"/>
<path class="lgy" d="M1085.7,211.5C1087.0,211.1 1090.8,209.8 1093.3,209.0C1095.8,208.2 1098.4,207.3 1100.9,206.5C1103.4,205.7 1105.9,204.8 1108.4,203.9C1110.9,203.0 1113.4,202.1 1115.9,201.1C1118.4,200.1 1122.2,198.7 1123.4,198.2"/>
<path class="dg" d="M1016.0,257.0C1016.1,256.8 1016.3,256.2 1016.5,255.8C1016.7,255.4 1016.9,254.7 1017.1,254.3C1017.3,253.9 1017.6,253.4 1017.9,253.2C1018.2,253.0 1018.6,252.9 1019.1,252.9C1019.6,252.9 1020.4,253.1 1021.0,253.1C1021.6,253.1 1022.2,253.1 1022.7,252.9C1023.2,252.7 1023.6,252.2 1024.0,251.8C1024.4,251.4 1024.4,250.9 1025.0,250.4C1025.6,249.9 1026.7,249.3 1027.6,248.6C1028.5,247.9 1029.5,247.4 1030.4,246.3C1031.4,245.2 1032.3,243.4 1033.3,241.8C1034.2,240.2 1034.9,238.2 1036.1,236.7C1037.3,235.2 1038.9,233.8 1040.3,232.9C1041.7,232.0 1043.0,231.6 1044.5,231.2C1046.0,230.8 1047.6,230.9 1049.3,230.6C1051.0,230.3 1052.7,229.9 1054.6,229.3C1056.5,228.7 1058.8,227.8 1060.8,227.1C1062.8,226.4 1065.0,225.6 1066.9,224.9C1068.9,224.2 1070.8,223.8 1072.5,223.2C1074.2,222.5 1075.8,221.9 1077.4,221.0C1079.0,220.1 1080.6,218.9 1082.2,217.6C1083.8,216.3 1085.4,214.5 1087.1,213.2C1088.8,211.9 1090.4,210.6 1092.1,209.9C1093.8,209.2 1095.5,208.8 1097.2,208.8C1098.9,208.8 1100.5,209.4 1102.0,209.7C1103.5,210.0 1105.0,210.4 1106.5,210.6C1108.0,210.8 1109.4,210.7 1111.0,210.8C1112.6,210.9 1114.2,210.9 1116.0,211.3C1117.8,211.7 1119.6,212.6 1121.6,213.1C1123.5,213.6 1125.6,214.4 1127.7,214.6C1129.8,214.8 1132.0,214.7 1134.0,214.4C1136.0,214.1 1138.0,213.2 1139.9,212.7C1141.8,212.2 1143.6,211.4 1145.4,211.2C1147.2,211.0 1148.9,211.1 1150.6,211.5C1152.3,211.9 1154.0,212.8 1155.8,213.4C1157.5,214.0 1159.2,214.8 1161.1,215.3C1163.0,215.8 1165.1,216.0 1167.0,216.4C1168.9,216.8 1170.7,217.2 1172.5,217.9C1174.3,218.6 1176.8,220.0 1177.6,220.4"/>
<path class="lgy" d="M1177.6,220.4C1178.8,220.8 1182.6,222.2 1185.1,223.0C1187.6,223.8 1190.2,224.7 1192.7,225.5C1195.2,226.3 1197.8,227.2 1200.3,228.1C1202.8,229.0 1205.2,230.1 1207.7,231.1C1210.2,232.1 1212.6,233.2 1215.1,234.2C1217.6,235.2 1221.3,236.6 1222.5,237.1"/>
<path class="dg" d="M1016.0,257.0C1016.0,256.6 1015.8,255.6 1015.7,254.9C1015.6,254.2 1015.5,253.6 1015.4,253.0C1015.3,252.4 1015.2,252.2 1015.0,251.6C1014.8,251.0 1014.3,250.1 1014.1,249.4C1013.9,248.8 1013.8,248.2 1013.8,247.7C1013.8,247.2 1014.0,247.2 1014.0,246.4C1014.0,245.7 1014.0,244.0 1013.8,243.2C1013.6,242.4 1012.8,242.1 1012.9,241.4C1013.0,240.7 1013.8,240.1 1014.4,238.9C1015.0,237.7 1016.0,235.4 1016.7,234.4C1017.4,233.4 1017.9,233.5 1018.4,232.8C1018.9,232.1 1018.9,231.2 1019.8,230.1C1020.7,229.0 1022.4,227.0 1023.8,226.2C1025.2,225.4 1026.8,226.0 1028.0,225.4C1029.2,224.8 1030.2,223.6 1031.3,222.6C1032.4,221.6 1033.1,220.1 1034.6,219.6C1036.0,219.1 1038.3,219.9 1040.0,219.4C1041.7,218.9 1043.4,217.2 1044.9,216.3C1046.4,215.4 1047.5,214.5 1048.9,213.8C1050.3,213.2 1051.8,213.4 1053.4,212.4C1055.0,211.4 1057.1,209.2 1058.7,208.0C1060.3,206.8 1061.7,205.9 1063.1,204.9C1064.5,203.9 1065.5,203.4 1066.9,202.0C1068.3,200.6 1070.0,197.8 1071.6,196.3C1073.2,194.9 1074.9,194.4 1076.3,193.3C1077.7,192.2 1078.8,191.4 1080.1,189.9C1081.3,188.4 1082.4,185.8 1083.8,184.6C1085.2,183.4 1087.0,183.3 1088.5,182.5C1090.0,181.7 1091.6,180.7 1092.9,179.7C1094.2,178.7 1095.2,177.0 1096.5,176.4C1097.8,175.8 1099.2,176.6 1100.8,176.2C1102.4,175.8 1104.3,174.8 1105.9,174.2C1107.5,173.6 1109.1,172.6 1110.6,172.4C1112.1,172.2 1113.3,173.3 1114.9,173.1C1116.5,172.9 1118.4,171.5 1120.2,171.0C1122.0,170.5 1123.9,170.2 1125.9,169.9C1127.9,169.6 1130.0,170.1 1132.1,169.4C1134.2,168.7 1136.2,166.8 1138.5,165.9C1140.8,165.0 1143.5,164.6 1145.9,163.9C1148.3,163.2 1150.7,163.1 1153.0,162.0C1155.3,160.9 1157.5,158.3 1159.8,157.1C1162.1,155.9 1164.5,155.6 1167.0,154.7C1169.5,153.8 1172.4,152.8 1174.9,151.5C1177.4,150.2 1179.5,147.6 1182.0,146.6C1184.5,145.6 1187.2,146.1 1189.9,145.5C1192.7,144.9 1195.6,143.9 1198.5,143.0C1201.4,142.1 1205.9,140.4 1207.4,139.9"/>
<path class="dg" d="M1016.0,257.0C1015.8,256.5 1015.0,254.8 1014.6,253.8C1014.2,252.8 1013.9,251.8 1013.6,251.0C1013.3,250.2 1013.1,249.8 1012.8,249.1C1012.5,248.4 1011.9,247.3 1011.7,246.8C1011.5,246.3 1011.6,246.2 1011.6,246.0C1011.6,245.8 1012.0,246.4 1012.0,245.9C1012.0,245.4 1012.1,244.1 1011.9,243.2C1011.7,242.3 1010.8,241.2 1010.8,240.4C1010.8,239.6 1011.4,239.6 1012.0,238.6C1012.6,237.6 1013.5,235.7 1014.4,234.5C1015.3,233.3 1016.4,231.8 1017.2,231.6C1018.0,231.4 1018.2,233.0 1019.3,233.1C1020.3,233.2 1021.9,232.7 1023.5,232.2C1025.1,231.7 1027.2,230.3 1029.0,229.9C1030.8,229.5 1032.9,230.3 1034.5,229.7C1036.1,229.1 1037.1,227.8 1038.5,226.2C1039.9,224.5 1041.4,221.5 1043.0,219.8C1044.6,218.2 1046.5,217.5 1048.2,216.3C1049.9,215.2 1051.9,214.3 1053.4,212.9C1054.9,211.5 1056.0,208.9 1057.3,207.9C1058.6,206.9 1059.7,207.2 1061.2,207.2C1062.7,207.2 1064.5,208.3 1066.4,208.0C1068.3,207.7 1070.6,206.0 1072.6,205.2C1074.5,204.4 1076.3,203.8 1078.1,203.3C1079.9,202.9 1081.5,203.5 1083.4,202.5C1085.3,201.5 1087.5,198.9 1089.7,197.3C1091.9,195.7 1094.5,193.6 1096.6,192.7C1098.7,191.8 1100.5,192.2 1102.2,191.8C1103.9,191.4 1105.1,190.4 1106.6,190.0C1108.1,189.6 1109.7,188.9 1111.4,189.4C1113.1,189.9 1115.1,192.1 1116.8,193.0C1118.5,193.9 1120.0,194.5 1121.5,194.6C1123.0,194.7 1124.0,193.6 1125.5,193.7C1127.0,193.8 1128.6,194.9 1130.5,195.0C1132.4,195.1 1134.9,194.9 1137.0,194.2C1139.1,193.5 1141.2,191.2 1143.3,190.6C1145.4,189.9 1147.5,190.2 1149.8,190.3C1152.0,190.5 1154.3,191.4 1156.8,191.5C1159.3,191.6 1162.1,190.6 1164.6,190.9C1167.1,191.2 1169.3,192.3 1171.7,193.3C1174.1,194.3 1176.4,196.3 1178.7,196.7C1181.0,197.1 1183.0,196.0 1185.4,195.5C1187.8,195.0 1190.5,194.2 1193.0,193.9C1195.5,193.6 1199.3,193.6 1200.6,193.5"/>
<path class="lgy" d="M1200.6,193.5C1201.9,193.6 1205.9,194.0 1208.6,194.2C1211.2,194.4 1213.8,194.6 1216.5,194.7C1219.2,194.8 1221.8,194.8 1224.5,194.9C1227.2,195.0 1229.8,194.9 1232.5,195.0C1235.2,195.1 1237.8,195.2 1240.5,195.2C1243.2,195.2 1245.8,195.2 1248.5,195.2C1251.2,195.2 1255.2,195.1 1256.5,195.1"/>
<path class="dg" d="M1016.0,257.0C1016.0,256.8 1016.2,256.1 1016.3,255.6C1016.4,255.1 1016.5,254.6 1016.6,254.1C1016.7,253.6 1016.9,253.1 1017.0,252.6C1017.1,252.1 1017.1,251.7 1017.3,251.0C1017.5,250.3 1017.9,249.4 1018.1,248.4C1018.4,247.4 1018.5,246.2 1018.8,245.1C1019.0,244.0 1019.3,242.8 1019.6,241.9C1019.9,241.0 1020.1,240.3 1020.8,239.5C1021.5,238.7 1022.8,237.8 1023.9,236.9C1025.0,236.0 1026.1,234.8 1027.2,233.9C1028.3,233.0 1029.3,232.1 1030.3,231.6C1031.3,231.1 1032.0,230.9 1033.2,230.8C1034.5,230.7 1036.2,231.0 1037.8,231.0C1039.4,231.0 1041.0,231.2 1042.7,231.0C1044.4,230.8 1046.2,230.4 1047.9,229.9C1049.6,229.4 1051.2,228.6 1052.9,228.2C1054.6,227.8 1056.4,227.7 1058.0,227.5C1059.6,227.3 1061.2,227.4 1062.7,227.1C1064.2,226.8 1065.7,226.4 1067.2,225.7C1068.7,225.0 1070.3,223.8 1071.9,222.8C1073.5,221.9 1075.3,220.8 1077.0,220.0C1078.7,219.2 1080.5,218.6 1082.2,218.2C1083.9,217.8 1085.5,217.7 1087.1,217.3C1088.7,216.9 1090.2,216.4 1091.8,215.9C1093.3,215.4 1094.8,214.8 1096.4,214.3C1098.0,213.8 1099.6,213.2 1101.3,212.9C1103.0,212.7 1104.8,212.7 1106.7,212.8C1108.6,212.9 1110.5,213.2 1112.4,213.3C1114.3,213.4 1116.2,213.6 1118.1,213.4C1120.0,213.2 1121.8,212.6 1123.6,212.2C1125.4,211.8 1127.0,211.1 1128.8,210.8C1130.6,210.5 1132.3,210.4 1134.2,210.2C1136.1,210.0 1138.0,210.0 1139.9,209.7C1141.8,209.4 1143.8,208.8 1145.8,208.2C1147.8,207.6 1150.6,206.3 1151.6,205.9"/>
<path class="lgy" d="M1151.6,205.9C1152.9,205.6 1156.8,204.8 1159.4,204.2C1162.0,203.6 1164.6,203.0 1167.2,202.4C1169.8,201.8 1172.3,201.0 1174.9,200.4C1177.5,199.8 1180.2,199.3 1182.8,198.8C1185.4,198.3 1188.1,197.9 1190.7,197.5C1193.3,197.1 1195.9,196.6 1198.5,196.1C1201.1,195.6 1203.8,195.0 1206.4,194.5C1209.0,194.0 1211.6,193.5 1214.2,193.0C1216.8,192.5 1219.4,191.9 1222.0,191.3C1224.6,190.7 1227.2,189.8 1229.8,189.2C1232.4,188.5 1235.0,188.0 1237.6,187.4C1240.2,186.8 1242.7,186.1 1245.3,185.5C1247.9,184.9 1250.6,184.4 1253.2,183.8C1255.8,183.2 1258.4,182.6 1261.0,182.1C1263.6,181.6 1266.2,181.1 1268.8,180.6C1271.4,180.1 1275.4,179.3 1276.7,179.1"/>
<path class="dg" d="M1016.0,257.0C1016.6,257.0 1018.3,256.8 1019.5,256.8C1020.7,256.8 1022.0,256.8 1023.2,256.8C1024.4,256.8 1025.7,256.8 1026.9,256.7C1028.1,256.6 1029.2,256.5 1030.5,256.5C1031.8,256.5 1033.2,256.5 1034.6,256.7C1036.0,256.9 1037.6,257.4 1039.0,257.5C1040.4,257.6 1041.9,257.3 1043.2,257.3C1044.5,257.3 1045.6,257.2 1046.8,257.4C1048.0,257.6 1049.2,258.4 1050.5,258.3C1051.8,258.2 1053.1,257.8 1054.4,257.0C1055.7,256.2 1057.0,254.5 1058.1,253.6C1059.2,252.7 1059.8,252.4 1061.0,251.7C1062.2,251.0 1063.6,250.4 1065.1,249.4C1066.6,248.4 1068.2,246.8 1069.9,245.9C1071.6,245.0 1073.5,244.4 1075.2,244.1C1076.9,243.8 1078.5,244.3 1080.1,244.1C1081.6,243.9 1083.0,243.3 1084.5,242.9C1086.0,242.5 1087.7,241.8 1089.4,241.7C1091.2,241.6 1093.2,242.3 1095.0,242.2C1096.8,242.1 1098.7,241.9 1100.4,241.3C1102.1,240.7 1103.5,239.3 1105.0,238.6C1106.5,237.9 1107.9,237.5 1109.5,236.9C1111.1,236.3 1112.8,236.1 1114.4,235.2C1116.0,234.3 1117.8,232.5 1119.3,231.5C1120.8,230.5 1122.2,229.5 1123.5,229.0C1124.8,228.5 1125.8,228.8 1127.1,228.6C1128.4,228.4 1129.7,228.1 1131.1,227.8C1132.5,227.5 1134.2,226.6 1135.7,226.7C1137.2,226.8 1138.7,227.8 1140.1,228.4C1141.5,229.0 1142.7,230.0 1144.1,230.3C1145.5,230.6 1146.8,230.2 1148.4,230.2C1150.0,230.2 1151.8,230.3 1153.6,230.5C1155.4,230.7 1157.3,231.5 1159.0,231.4C1160.7,231.3 1162.4,230.7 1164.0,230.2C1165.6,229.7 1167.9,228.5 1168.7,228.2"/>
<path class="lgy" d="M1168.7,228.2C1170.0,228.1 1174.1,228.0 1176.7,227.9C1179.3,227.8 1181.9,227.6 1184.6,227.4C1187.2,227.2 1189.9,227.0 1192.6,226.8C1195.3,226.7 1197.9,226.5 1200.6,226.5C1203.3,226.5 1205.9,226.6 1208.6,226.7C1211.3,226.8 1213.9,226.9 1216.6,226.9C1219.3,226.9 1221.9,226.9 1224.6,226.9C1227.3,226.9 1229.9,227.1 1232.6,227.2C1235.3,227.3 1237.9,227.4 1240.6,227.6C1243.3,227.8 1247.3,228.2 1248.6,228.3"/>
<path class="dg" d="M1016.0,257.0C1016.0,256.8 1016.2,256.2 1016.3,255.8C1016.4,255.4 1016.6,255.0 1016.7,254.5C1016.8,254.0 1017.0,253.5 1017.0,252.8C1017.0,252.1 1016.9,251.2 1017.0,250.2C1017.1,249.2 1017.4,248.0 1017.7,247.0C1018.0,246.0 1018.4,245.2 1018.8,244.2C1019.2,243.2 1019.6,242.2 1020.0,240.9C1020.4,239.6 1020.5,237.9 1021.1,236.5C1021.7,235.1 1022.7,233.6 1023.6,232.7C1024.5,231.8 1025.2,231.4 1026.3,230.8C1027.3,230.2 1028.7,229.9 1029.9,229.3C1031.1,228.7 1032.2,227.7 1033.6,227.3C1035.0,226.9 1036.8,226.9 1038.3,227.0C1039.8,227.1 1041.1,227.8 1042.6,227.9C1044.1,228.0 1045.5,227.7 1047.1,227.4C1048.7,227.1 1050.3,226.3 1052.0,226.1C1053.7,225.9 1055.8,226.2 1057.5,226.4C1059.2,226.6 1060.9,227.2 1062.4,227.0C1063.9,226.8 1065.2,226.1 1066.7,225.4C1068.2,224.7 1069.6,223.5 1071.2,223.0C1072.8,222.5 1074.6,222.6 1076.3,222.3C1078.0,222.1 1079.9,222.1 1081.5,221.5C1083.1,220.9 1084.6,219.7 1086.1,218.8C1087.6,217.9 1088.8,216.6 1090.3,216.1C1091.8,215.6 1094.0,215.9 1094.8,215.8"/>
<path class="lgy" d="M1094.8,215.8C1096.1,215.5 1099.9,214.5 1102.5,213.8C1105.1,213.1 1107.6,212.2 1110.2,211.5C1112.8,210.8 1115.3,210.0 1117.9,209.3C1120.5,208.6 1123.1,208.0 1125.7,207.3C1128.3,206.6 1130.7,205.8 1133.3,205.1C1135.9,204.4 1138.5,203.8 1141.1,203.1C1143.7,202.4 1147.5,201.3 1148.8,201.0"/>
<polyline class="dg" points="1028.8,262.7 1036.4,280.3 1047.6,276.5 1053.9,285.3 1043.9,296.6 1036.4,282.8"/>
<path class="dg" d="M1053.9,287.2C1056.6,287.5 1065.4,287.6 1070.2,289.0C1075.0,290.4 1079.0,292.6 1082.7,295.3C1086.5,298.0 1090.7,302.5 1092.7,305.3C1094.8,308.1 1094.6,309.1 1095.0,312.0C1095.4,314.9 1096.2,318.9 1095.0,322.5C1093.8,326.1 1090.8,330.9 1087.5,333.8C1084.2,336.7 1079.6,338.8 1075.0,340.0C1070.4,341.2 1064.6,341.7 1060.0,341.3C1055.4,340.9 1049.6,338.1 1047.5,337.5"/>
<path class="dg" d="M1052.6,247.7C1053.0,248.3 1054.6,249.8 1055.2,251.5C1055.8,253.2 1056.2,256.7 1056.4,257.7"/>
<path class="dg" d="M1069.0,243.7C1068.8,243.5 1068.0,242.9 1067.5,242.8C1067.0,242.7 1066.3,242.7 1065.8,243.0C1065.3,243.3 1064.8,243.8 1064.4,244.4C1064.0,245.0 1063.6,245.8 1063.4,246.7C1063.2,247.6 1063.1,248.6 1063.1,249.6C1063.1,250.6 1063.3,251.7 1063.6,252.7C1063.9,253.7 1064.4,254.8 1065.0,255.6C1065.6,256.4 1066.2,257.2 1067.0,257.8C1067.8,258.4 1068.6,258.9 1069.5,259.1C1070.4,259.3 1071.4,259.4 1072.2,259.2C1073.0,259.0 1073.9,258.7 1074.6,258.2C1075.3,257.7 1076.0,257.0 1076.6,256.3C1077.1,255.6 1077.6,254.7 1077.9,253.8C1078.2,252.9 1078.4,251.9 1078.4,251.0C1078.4,250.1 1078.2,249.2 1078.0,248.5C1077.8,247.8 1077.4,247.1 1077.0,246.7C1076.6,246.2 1076.0,245.9 1075.5,245.8C1075.0,245.7 1074.3,245.7 1073.8,246.0C1073.3,246.3 1072.8,246.8 1072.4,247.4C1072.0,248.0 1071.6,248.8 1071.4,249.7C1071.2,250.6 1071.1,251.6 1071.1,252.6C1071.1,253.6 1071.3,254.7 1071.6,255.7C1071.9,256.7 1072.4,257.8 1073.0,258.6C1073.6,259.5 1074.2,260.2 1075.0,260.8C1075.8,261.4 1076.6,261.9 1077.5,262.1C1078.4,262.3 1079.4,262.4 1080.2,262.2C1081.0,262.0 1081.9,261.7 1082.6,261.2C1083.3,260.7 1084.0,260.0 1084.6,259.3C1085.1,258.6 1085.6,257.7 1085.9,256.8C1086.2,255.9 1086.4,254.9 1086.4,254.0C1086.4,253.1 1086.2,252.2 1086.0,251.5C1085.8,250.8 1085.4,250.1 1085.0,249.7C1084.6,249.2 1084.0,248.9 1083.5,248.8C1083.0,248.7 1082.3,248.7 1081.8,249.0C1081.3,249.3 1080.8,249.8 1080.4,250.4C1080.0,251.0 1079.6,251.8 1079.4,252.7C1079.2,253.6 1079.1,254.6 1079.1,255.6C1079.1,256.6 1079.3,257.7 1079.6,258.7C1079.9,259.7 1080.4,260.8 1081.0,261.6C1081.6,262.5 1082.2,263.2 1083.0,263.8C1083.8,264.4 1084.6,264.9 1085.5,265.1C1086.4,265.3 1087.4,265.4 1088.2,265.2C1089.0,265.0 1089.9,264.7 1090.6,264.2C1091.3,263.7 1092.0,263.0 1092.6,262.3C1093.1,261.6 1093.6,260.7 1093.9,259.8C1094.2,258.9 1094.4,257.9 1094.4,257.0C1094.4,256.1 1094.2,255.2 1094.0,254.5C1093.8,253.8 1093.4,253.1 1093.0,252.7C1092.6,252.2 1092.0,251.9 1091.5,251.8C1091.0,251.7 1090.3,251.7 1089.8,252.0C1089.3,252.3 1088.8,252.8 1088.4,253.4C1088.0,254.0 1087.6,254.8 1087.4,255.7C1087.2,256.6 1087.1,257.6 1087.1,258.6C1087.1,259.6 1087.3,260.7 1087.6,261.7C1087.9,262.7 1088.4,263.8 1089.0,264.6C1089.6,265.5 1090.2,266.2 1091.0,266.8C1091.8,267.4 1092.6,267.9 1093.5,268.1C1094.4,268.3 1095.4,268.4 1096.2,268.2C1097.0,268.0 1097.9,267.7 1098.6,267.2C1099.3,266.7 1100.0,266.0 1100.6,265.3C1101.1,264.6 1101.6,263.7 1101.9,262.8C1102.2,261.9 1102.4,260.9 1102.4,260.0C1102.4,259.1 1102.2,258.2 1102.0,257.5C1101.8,256.8 1101.2,256.0 1101.0,255.7"/>
<path class="dg" d="M1081.1,241.8C1080.8,242.2 1079.9,243.4 1079.5,244.4C1079.1,245.4 1078.8,246.7 1078.7,248.0C1078.6,249.3 1078.6,250.7 1078.8,252.1C1079.0,253.5 1079.5,255.0 1080.1,256.3C1080.7,257.6 1081.5,258.8 1082.4,259.8C1083.3,260.8 1084.4,261.8 1085.5,262.4C1086.6,263.0 1087.8,263.4 1089.0,263.6C1090.2,263.8 1091.4,263.7 1092.5,263.4C1093.6,263.1 1094.7,262.5 1095.6,261.8C1096.5,261.1 1097.2,260.1 1097.8,259.1C1098.3,258.1 1098.7,256.9 1098.9,255.9C1099.1,254.8 1099.1,253.8 1098.9,252.8C1098.7,251.9 1098.3,250.9 1097.8,250.2C1097.3,249.5 1096.6,249.0 1095.9,248.8C1095.2,248.6 1094.3,248.6 1093.5,248.8C1092.7,249.1 1091.9,249.6 1091.2,250.3C1090.5,251.1 1089.9,252.1 1089.4,253.3C1088.9,254.5 1088.5,255.9 1088.4,257.3C1088.3,258.7 1088.3,260.4 1088.6,261.9C1088.9,263.4 1089.4,265.0 1090.1,266.4C1090.8,267.8 1091.6,269.2 1092.6,270.3C1093.6,271.4 1094.9,272.4 1096.1,273.0C1097.3,273.6 1098.6,274.0 1099.9,274.1C1101.2,274.2 1102.5,274.1 1103.7,273.7C1104.9,273.3 1106.1,272.5 1107.0,271.7C1107.9,270.9 1108.7,269.8 1109.3,268.7C1109.9,267.6 1110.3,266.2 1110.5,265.0C1110.7,263.8 1110.6,262.6 1110.3,261.5C1110.0,260.4 1109.5,259.3 1108.9,258.6C1108.3,257.9 1107.4,257.4 1106.6,257.1C1105.8,256.9 1104.8,256.8 1103.9,257.1C1103.0,257.4 1102.1,258.0 1101.3,258.8C1100.5,259.6 1099.7,260.8 1099.2,262.1C1098.7,263.4 1098.3,265.0 1098.2,266.6C1098.1,268.2 1098.1,269.9 1098.4,271.6C1098.7,273.3 1099.3,275.1 1100.1,276.6C1100.8,278.1 1101.8,279.6 1102.9,280.7C1104.0,281.8 1105.4,282.9 1106.7,283.5C1108.0,284.1 1109.5,284.5 1110.9,284.6C1112.3,284.7 1113.7,284.5 1115.0,284.0C1116.3,283.5 1117.5,282.6 1118.5,281.6C1119.5,280.6 1120.3,279.4 1120.9,278.1C1121.5,276.9 1121.9,275.4 1122.0,274.1C1122.1,272.8 1121.9,271.3 1121.6,270.1C1121.3,268.9 1120.7,267.8 1120.0,267.0C1119.3,266.2 1118.2,265.6 1117.3,265.3C1116.3,265.0 1115.3,265.0 1114.3,265.4C1113.3,265.8 1112.3,266.4 1111.4,267.4C1110.5,268.3 1109.7,269.7 1109.1,271.1C1108.5,272.5 1108.1,274.3 1108.0,276.0C1107.9,277.7 1108.2,280.5 1108.3,281.4"/>
<path class="dg" d="M1103.3,240.6C1103.2,240.3 1103.0,239.2 1102.8,238.7C1102.6,238.2 1102.3,237.7 1102.0,237.5C1101.7,237.3 1101.3,237.2 1101.0,237.4C1100.7,237.6 1100.3,237.9 1100.0,238.4C1099.7,238.9 1099.5,239.5 1099.3,240.2C1099.1,240.9 1099.1,241.9 1099.1,242.8C1099.1,243.7 1099.2,244.7 1099.4,245.6C1099.6,246.5 1099.9,247.6 1100.3,248.4C1100.7,249.2 1101.2,250.0 1101.7,250.6C1102.2,251.2 1102.9,251.7 1103.5,252.0C1104.1,252.3 1104.8,252.4 1105.4,252.3C1106.0,252.2 1106.7,252.0 1107.3,251.6C1107.9,251.2 1108.4,250.7 1108.9,250.0C1109.4,249.3 1109.8,248.5 1110.1,247.7C1110.4,246.9 1110.6,245.9 1110.7,245.1C1110.8,244.2 1110.8,243.3 1110.7,242.6C1110.6,241.9 1110.4,241.2 1110.2,240.7C1110.0,240.2 1109.6,239.7 1109.3,239.5C1109.0,239.3 1108.6,239.2 1108.3,239.4C1108.0,239.6 1107.6,239.9 1107.3,240.4C1107.0,240.9 1106.8,241.5 1106.7,242.2C1106.6,242.9 1106.4,243.9 1106.4,244.8C1106.4,245.7 1106.6,246.7 1106.8,247.6C1107.0,248.5 1107.3,249.6 1107.7,250.4C1108.1,251.2 1108.6,252.0 1109.1,252.6C1109.6,253.2 1110.2,253.7 1110.8,254.0C1111.4,254.3 1112.1,254.4 1112.8,254.3C1113.5,254.2 1114.1,254.0 1114.7,253.6C1115.3,253.2 1115.8,252.7 1116.3,252.0C1116.8,251.3 1117.1,250.5 1117.4,249.7C1117.7,248.9 1117.9,247.9 1118.0,247.1C1118.1,246.2 1118.1,245.3 1118.0,244.6C1117.9,243.9 1117.7,243.2 1117.5,242.7C1117.3,242.2 1117.0,241.7 1116.7,241.5C1116.4,241.3 1115.9,241.2 1115.6,241.4C1115.3,241.6 1115.0,241.9 1114.7,242.4C1114.4,242.9 1114.2,243.5 1114.0,244.2C1113.8,244.9 1113.8,245.9 1113.8,246.8C1113.8,247.7 1113.9,248.7 1114.1,249.6C1114.3,250.5 1114.6,251.6 1115.0,252.4C1115.4,253.2 1115.9,254.0 1116.4,254.6C1116.9,255.2 1117.6,255.7 1118.2,256.0C1118.8,256.3 1119.5,256.4 1120.1,256.3C1120.7,256.2 1121.4,256.0 1122.0,255.6C1122.6,255.2 1123.1,254.7 1123.6,254.0C1124.0,253.3 1124.4,252.5 1124.7,251.7C1125.0,250.9 1125.2,249.9 1125.3,249.1C1125.4,248.2 1125.3,247.0 1125.3,246.6"/>
<path class="dg" d="M1060.0,258.7C1060.0,259.1 1059.8,260.1 1059.8,260.9C1059.8,261.7 1060.0,262.5 1060.3,263.3C1060.6,264.1 1061.1,264.9 1061.6,265.6C1062.1,266.3 1062.8,266.9 1063.5,267.4C1064.2,267.9 1065.1,268.4 1065.9,268.6C1066.7,268.9 1067.7,268.9 1068.5,268.9C1069.3,268.9 1070.2,268.8 1070.9,268.5C1071.7,268.2 1072.4,267.8 1073.0,267.3C1073.6,266.8 1074.1,266.2 1074.5,265.6C1074.9,265.0 1075.1,264.3 1075.2,263.7C1075.3,263.1 1075.3,262.4 1075.2,261.9C1075.1,261.4 1074.8,260.9 1074.5,260.6C1074.2,260.3 1073.8,260.0 1073.4,259.9C1073.0,259.8 1072.4,259.9 1072.0,260.1C1071.6,260.3 1071.1,260.6 1070.8,261.0C1070.5,261.4 1070.2,262.1 1070.0,262.7C1069.8,263.3 1069.8,264.1 1069.8,264.9C1069.8,265.7 1070.0,266.5 1070.3,267.3C1070.6,268.1 1071.1,268.9 1071.6,269.6C1072.1,270.3 1072.8,270.9 1073.5,271.4C1074.2,271.9 1075.1,272.4 1075.9,272.6C1076.7,272.9 1077.7,272.9 1078.5,272.9C1079.3,272.9 1080.2,272.8 1080.9,272.5C1081.7,272.2 1082.4,271.8 1083.0,271.3C1083.6,270.8 1084.1,270.2 1084.5,269.6C1084.9,269.0 1085.1,268.3 1085.2,267.7C1085.3,267.1 1085.3,266.4 1085.2,265.9C1085.1,265.4 1084.8,264.9 1084.5,264.6C1084.2,264.3 1083.8,264.0 1083.4,263.9C1083.0,263.8 1082.4,263.9 1082.0,264.1C1081.6,264.3 1081.1,264.6 1080.8,265.0C1080.5,265.4 1080.2,266.1 1080.0,266.7C1079.8,267.3 1079.8,268.1 1079.8,268.9C1079.8,269.7 1080.0,270.5 1080.3,271.3C1080.6,272.1 1081.1,272.9 1081.6,273.6C1082.1,274.3 1082.8,274.9 1083.5,275.4C1084.2,275.9 1085.1,276.4 1085.9,276.6C1086.7,276.9 1087.7,276.9 1088.5,276.9C1089.3,276.9 1090.2,276.8 1090.9,276.5C1091.7,276.2 1092.4,275.8 1093.0,275.3C1093.6,274.8 1094.1,274.2 1094.5,273.6C1094.9,273.0 1095.1,272.3 1095.2,271.7C1095.3,271.1 1095.3,270.4 1095.2,269.9C1095.1,269.4 1094.8,268.9 1094.5,268.6C1094.2,268.3 1093.8,268.0 1093.4,267.9C1093.0,267.8 1092.4,267.9 1092.0,268.1C1091.6,268.3 1091.1,268.6 1090.8,269.0C1090.5,269.4 1090.1,270.4 1090.0,270.7"/>
<path class="dg" d="M1043.0,252.0C1043.0,251.8 1043.2,251.0 1043.2,250.6C1043.2,250.2 1043.1,249.8 1043.0,249.5C1042.9,249.2 1042.7,248.9 1042.5,248.8C1042.3,248.7 1042.1,248.6 1041.9,248.7C1041.7,248.8 1041.4,248.9 1041.2,249.2C1041.0,249.4 1040.8,249.8 1040.7,250.2C1040.6,250.6 1040.5,251.2 1040.5,251.7C1040.5,252.2 1040.5,252.8 1040.7,253.4C1040.9,254.0 1041.1,254.6 1041.4,255.1C1041.7,255.6 1042.1,256.2 1042.5,256.6C1042.9,257.0 1043.5,257.4 1044.0,257.7C1044.5,257.9 1045.1,258.1 1045.6,258.1C1046.1,258.2 1046.7,258.1 1047.2,258.0C1047.7,257.9 1048.2,257.6 1048.6,257.3C1049.0,257.0 1049.4,256.6 1049.7,256.2C1050.0,255.8 1050.2,255.3 1050.4,254.9C1050.6,254.5 1050.7,253.9 1050.7,253.5C1050.7,253.1 1050.6,252.7 1050.5,252.4C1050.4,252.1 1050.2,251.8 1050.0,251.7C1049.8,251.6 1049.5,251.5 1049.3,251.6C1049.1,251.7 1048.8,251.8 1048.6,252.1C1048.4,252.3 1048.2,252.7 1048.1,253.1C1048.0,253.5 1047.9,254.1 1047.9,254.6C1047.9,255.1 1047.9,255.7 1048.1,256.3C1048.2,256.9 1048.5,257.5 1048.8,258.0C1049.1,258.5 1049.6,259.1 1050.0,259.5C1050.4,259.9 1050.9,260.2 1051.4,260.5C1051.9,260.8 1052.5,260.9 1053.0,261.0C1053.5,261.1 1054.1,261.0 1054.6,260.9C1055.1,260.8 1055.6,260.5 1056.0,260.2C1056.4,259.9 1056.9,259.5 1057.2,259.1C1057.5,258.7 1057.8,258.1 1057.9,257.7C1058.1,257.2 1058.1,256.8 1058.1,256.4C1058.1,256.0 1058.0,255.5 1057.9,255.2C1057.8,254.9 1057.6,254.7 1057.4,254.6C1057.2,254.5 1056.9,254.3 1056.7,254.4C1056.5,254.5 1056.2,254.6 1056.0,254.9C1055.8,255.2 1055.6,255.6 1055.5,256.0C1055.4,256.4 1055.3,256.9 1055.3,257.4C1055.3,257.9 1055.4,258.5 1055.6,259.1C1055.8,259.7 1056.0,260.4 1056.3,260.9C1056.6,261.4 1057.0,261.9 1057.4,262.3C1057.8,262.7 1058.3,263.1 1058.8,263.4C1059.3,263.7 1059.9,263.8 1060.4,263.9C1060.9,263.9 1061.5,263.8 1062.0,263.7C1062.5,263.6 1063.1,263.3 1063.5,263.0C1063.9,262.7 1064.3,262.3 1064.6,261.9C1064.9,261.5 1065.1,261.1 1065.3,260.6C1065.5,260.2 1065.5,259.6 1065.5,259.2C1065.5,258.8 1065.4,258.4 1065.3,258.1C1065.2,257.8 1065.0,257.5 1064.8,257.4C1064.6,257.3 1064.3,257.2 1064.1,257.3C1063.9,257.4 1063.7,257.6 1063.5,257.8C1063.3,258.1 1063.1,258.4 1063.0,258.8C1062.9,259.2 1062.8,259.8 1062.8,260.3C1062.8,260.8 1063.0,261.7 1063.0,262.0"/>
<path class="dg" d="M1016.0,257.0C1020.0,255.8 1031.0,252.8 1040.0,250.0C1049.0,247.2 1062.7,240.2 1070.2,240.2C1077.7,240.2 1081.9,246.0 1085.2,250.2C1088.5,254.4 1090.6,260.6 1090.2,265.2C1089.8,269.8 1086.9,276.1 1082.7,277.8C1078.5,279.5 1070.6,277.0 1065.2,275.3C1059.8,273.6 1055.5,269.4 1050.1,267.7C1044.7,266.0 1035.5,265.6 1032.6,265.2"/>
<path class="dg" d="M1016.0,257.0C1021.7,255.3 1037.7,249.8 1050.0,247.0C1062.3,244.2 1078.3,240.7 1090.0,240.0C1101.7,239.3 1114.4,239.8 1120.3,242.7C1126.2,245.6 1124.4,252.1 1125.3,257.7C1126.2,263.3 1126.7,270.2 1125.9,276.5C1125.1,282.8 1122.3,290.5 1120.3,295.3C1118.3,300.1 1116.2,301.5 1114.0,305.3C1111.8,309.1 1108.2,315.9 1107.0,318.0"/>
<path class="lgy" d="M1107.0,318.0C1106.0,320.4 1103.3,329.0 1101.3,332.5C1099.3,336.0 1098.5,338.0 1095.0,338.8C1091.5,339.6 1082.5,337.7 1080.0,337.5"/>
<path class="dg" d="M1100.0,239.0C1105.5,239.8 1125.2,242.0 1132.8,243.9C1140.4,245.8 1142.3,245.4 1145.4,250.2C1148.5,255.0 1151.6,269.4 1151.6,272.8C1151.6,276.2 1147.1,272.8 1145.4,270.3C1143.7,267.8 1142.2,259.8 1141.6,257.7"/>
<path class="dg" d="M1130.0,236.0C1134.0,236.9 1148.8,239.9 1154.1,241.4C1159.4,242.9 1161.1,242.1 1161.7,245.2C1162.3,248.3 1159.6,258.1 1157.9,260.2C1156.2,262.3 1151.0,258.9 1151.6,257.7C1152.2,256.4 1160.0,253.5 1161.7,252.7"/>
<polyline class="dg" points="1038.8,290.0 1042.5,296.3 1046.3,290.0"/>
<path class="dg" d="M1120.0,232.0C1125.0,232.5 1139.5,232.8 1150.0,235.0C1160.5,237.2 1174.4,242.2 1183.0,245.2C1191.6,248.1 1196.6,248.5 1201.8,252.7C1207.0,256.9 1210.1,264.1 1214.0,270.3C1217.9,276.5 1223.2,283.4 1225.0,290.0C1226.8,296.6 1226.7,303.3 1225.0,310.0C1223.3,316.7 1219.2,323.3 1215.0,330.0C1210.8,336.7 1205.8,343.8 1200.0,350.0C1194.2,356.2 1186.7,362.5 1180.0,367.5C1173.3,372.5 1166.2,376.9 1160.0,380.0C1153.8,383.1 1145.4,385.2 1142.5,386.3"/>
<path class="lgy" d="M1142.5,386.3 L1127.5,386.8"/>
<path class="dg" d="M1200.5,230.2C1198.0,232.7 1188.8,242.3 1185.5,245.2C1182.2,248.1 1181.3,247.3 1180.5,247.7"/>
<path class="dg" d="M1200.0,212.0C1208.3,212.3 1236.3,212.4 1250.0,214.0C1263.7,215.6 1273.3,218.5 1282.0,221.8C1290.7,225.1 1296.3,229.5 1302.0,233.8C1307.7,238.1 1313.7,245.5 1316.0,247.8"/>
<path class="ol" d="M1316.0,247.8C1316.2,249.2 1317.0,253.3 1317.0,256.0C1317.0,258.7 1317.5,260.2 1316.0,263.8C1314.5,267.4 1311.7,274.6 1308.0,277.8C1304.3,281.0 1298.3,283.0 1294.0,282.8C1289.7,282.6 1284.0,277.8 1282.0,276.8"/>
<path class="dg" d="M1180.0,163.4C1185.7,162.0 1204.3,157.2 1214.3,154.9C1224.3,152.6 1228.6,151.1 1240.0,149.7C1251.4,148.3 1267.2,147.4 1282.9,146.3C1298.6,145.2 1319.2,143.7 1334.3,142.9C1349.4,142.1 1363.5,141.3 1373.7,141.5C1383.9,141.7 1391.6,143.8 1395.2,144.2"/>
<path class="lgy" d="M1395.2,144.2C1399.3,144.0 1410.2,143.4 1420.0,142.9C1429.8,142.4 1444.3,141.1 1454.3,141.1C1464.3,141.1 1472.1,142.3 1480.0,142.9C1487.9,143.5 1491.4,142.7 1501.7,144.9C1512.0,147.1 1528.4,152.4 1541.7,155.9C1555.0,159.4 1568.4,163.3 1581.6,165.9C1594.8,168.5 1614.4,170.6 1621.0,171.5"/>
<path class="dg" d="M1180.0,190.9C1185.7,189.8 1204.3,187.7 1214.3,184.0C1224.3,180.3 1232.3,173.4 1240.0,168.6C1247.7,163.8 1255.4,159.2 1260.6,154.9C1265.8,150.6 1269.2,144.9 1270.9,142.9"/>
<path class="dg" d="M1214.3,197.7C1220.0,194.8 1238.3,186.3 1248.6,180.6C1258.9,174.9 1268.0,168.8 1276.0,163.4C1284.0,158.0 1291.4,151.7 1296.6,148.0C1301.8,144.3 1305.2,142.6 1306.9,141.5"/>
<path class="dg" d="M1180.0,208.0C1184.3,207.4 1196.5,206.2 1205.7,204.6C1214.9,203.0 1230.0,199.6 1234.9,198.6"/>
<path class="dg" d="M1180.0,218.3C1187.2,217.9 1211.5,217.4 1222.9,215.7C1234.3,214.0 1239.8,210.3 1248.6,208.0C1257.4,205.7 1267.4,203.3 1276.0,202.0C1284.6,200.7 1293.7,199.9 1300.0,200.3C1306.3,200.7 1310.3,203.0 1313.7,204.6C1317.1,206.2 1319.4,208.8 1320.6,209.7"/>
<path class="dg" d="M1236.6,226.9C1237.4,228.3 1240.3,233.1 1241.7,235.4C1243.1,237.7 1244.5,239.7 1245.1,240.6"/>
<path class="dg" d="M1180.0,245.7C1181.7,244.3 1186.6,239.9 1190.3,237.1C1194.0,234.2 1200.3,230.0 1202.3,228.6"/>
<path class="dg" d="M1220.4,231.1C1220.3,231.4 1220.1,232.2 1219.7,232.7C1219.3,233.1 1218.7,233.6 1218.0,233.8C1217.3,234.0 1216.5,234.0 1215.8,233.8C1215.1,233.6 1214.5,233.1 1214.1,232.7C1213.7,232.2 1213.4,231.6 1213.4,231.1C1213.4,230.6 1213.7,229.9 1214.1,229.5C1214.5,229.1 1215.1,228.6 1215.8,228.4C1216.5,228.2 1217.3,228.2 1218.0,228.4C1218.7,228.6 1219.3,229.1 1219.7,229.5C1220.1,229.9 1220.3,230.8 1220.4,231.1"/>
<path class="lgy" d="M1022.5,199.0C1021.5,199.3 1018.8,199.4 1016.2,200.8C1013.6,202.2 1009.7,205.0 1006.9,207.7C1004.1,210.4 1001.4,213.6 999.4,216.9C997.4,220.2 995.4,223.7 994.8,227.3C994.2,230.9 996.0,234.3 996.0,238.3C996.0,242.3 994.3,248.1 994.8,251.5C995.3,254.9 997.3,256.2 998.8,258.5C1000.3,260.8 1001.8,262.8 1004.0,265.0C1006.2,267.2 1008.7,270.2 1012.0,272.0C1015.3,273.8 1022.0,275.3 1024.0,276.0"/>
<polyline class="dg" points="1016.0,257.0 1006.0,262.0 998.0,260.0 992.0,262.0 998.0,268.0 1001.0,272.0"/>
<polyline class="dg" points="1016.0,257.0 1008.0,250.0 1003.0,255.0 999.0,250.0"/>
<path class="ol" d="M1117.8,223.9C1119.0,224.3 1122.6,226.4 1125.3,226.4C1128.0,226.4 1131.2,225.0 1134.1,223.9C1137.0,222.8 1138.9,219.3 1142.9,220.1C1146.9,220.9 1152.3,227.1 1157.9,228.9C1163.5,230.7 1173.2,228.9 1176.7,230.8C1180.2,232.7 1178.7,238.1 1179.2,240.2C1179.8,242.2 1178.7,241.9 1180.0,243.1C1181.3,244.3 1183.2,245.8 1186.9,247.4C1190.6,249.0 1198.0,250.6 1202.3,252.6C1206.6,254.6 1209.2,258.7 1212.6,259.4C1216.0,260.1 1217.8,256.5 1222.9,256.9C1228.0,257.3 1238.0,260.1 1243.4,262.0C1248.8,263.9 1251.7,265.7 1255.4,268.0C1259.1,270.3 1262.3,274.0 1265.7,275.7C1269.1,277.4 1273.1,278.0 1276.0,278.3C1278.9,278.6 1280.3,276.3 1282.9,277.4C1285.5,278.5 1288.8,282.0 1291.4,285.1C1294.0,288.2 1296.4,292.2 1298.3,296.0C1300.2,299.8 1302.2,306.0 1303.0,308.0"/>
<path class="ol" d="M1118.0,224.0C1119.0,225.2 1121.8,228.7 1124.1,231.4C1126.4,234.1 1129.7,237.1 1131.6,240.2C1133.5,243.3 1135.3,247.7 1135.3,250.2C1135.3,252.7 1131.4,253.1 1131.6,255.2C1131.8,257.3 1134.7,260.2 1136.6,262.7C1138.5,265.2 1140.8,267.6 1142.9,270.3C1145.0,273.0 1147.8,275.7 1149.1,279.0C1150.3,282.3 1150.7,286.5 1150.4,290.3C1150.1,294.1 1148.2,297.8 1147.3,301.6C1146.3,305.4 1145.8,309.2 1144.7,312.9C1143.7,316.6 1142.2,321.1 1141.0,324.0C1139.8,326.9 1139.3,327.1 1137.5,330.0C1135.7,332.9 1131.9,338.2 1130.0,341.3C1128.1,344.4 1126.9,347.6 1126.3,348.8"/>
<path class="ol" d="M1136.6,255.2C1136.5,255.6 1136.3,256.8 1135.9,257.4C1135.5,258.0 1134.7,258.6 1134.0,258.8C1133.3,259.0 1132.3,259.0 1131.6,258.8C1130.9,258.6 1130.1,258.0 1129.7,257.4C1129.3,256.8 1129.0,255.9 1129.0,255.2C1129.0,254.5 1129.3,253.6 1129.7,253.0C1130.1,252.4 1130.9,251.8 1131.6,251.6C1132.3,251.4 1133.3,251.4 1134.0,251.6C1134.7,251.8 1135.5,252.4 1135.9,253.0C1136.3,253.6 1136.5,254.8 1136.6,255.2"/>
<path class="ol" d="M1139.1,260.2C1139.0,260.6 1138.8,261.8 1138.4,262.4C1138.0,263.0 1137.2,263.6 1136.5,263.8C1135.8,264.0 1134.8,264.0 1134.1,263.8C1133.4,263.6 1132.6,263.0 1132.2,262.4C1131.8,261.8 1131.5,260.9 1131.5,260.2C1131.5,259.5 1131.8,258.6 1132.2,258.0C1132.6,257.4 1133.4,256.8 1134.1,256.6C1134.8,256.4 1135.8,256.4 1136.5,256.6C1137.2,256.8 1138.0,257.4 1138.4,258.0C1138.8,258.6 1139.0,259.8 1139.1,260.2"/>
<path class="ol" d="M1143.4,270.3C1143.3,270.6 1143.2,271.6 1142.8,272.1C1142.4,272.6 1141.8,273.0 1141.3,273.2C1140.8,273.4 1140.0,273.4 1139.5,273.2C1139.0,273.0 1138.3,272.6 1138.0,272.1C1137.7,271.6 1137.4,270.9 1137.4,270.3C1137.4,269.7 1137.7,269.0 1138.0,268.5C1138.3,268.0 1139.0,267.6 1139.5,267.4C1140.0,267.2 1140.8,267.2 1141.3,267.4C1141.8,267.6 1142.4,268.0 1142.8,268.5C1143.2,269.0 1143.3,270.0 1143.4,270.3"/>
<path class="ol" d="M1133.5,249.0C1133.4,249.3 1133.2,250.3 1132.9,250.8C1132.6,251.3 1132.0,251.7 1131.4,251.9C1130.9,252.1 1130.1,252.1 1129.6,251.9C1129.0,251.7 1128.4,251.3 1128.1,250.8C1127.8,250.3 1127.5,249.6 1127.5,249.0C1127.5,248.4 1127.8,247.7 1128.1,247.2C1128.4,246.7 1129.0,246.3 1129.6,246.1C1130.1,245.9 1130.9,245.9 1131.4,246.1C1132.0,246.3 1132.6,246.7 1132.9,247.2C1133.2,247.7 1133.4,248.7 1133.5,249.0"/>
<path class="ol" d="M1140.0,266.0C1139.9,266.3 1139.8,267.3 1139.4,267.8C1139.1,268.3 1138.5,268.7 1137.9,268.9C1137.4,269.1 1136.6,269.1 1136.1,268.9C1135.5,268.7 1134.9,268.3 1134.6,267.8C1134.2,267.3 1134.0,266.6 1134.0,266.0C1134.0,265.4 1134.2,264.7 1134.6,264.2C1134.9,263.7 1135.5,263.3 1136.1,263.1C1136.6,262.9 1137.4,262.9 1137.9,263.1C1138.5,263.3 1139.1,263.7 1139.4,264.2C1139.8,264.7 1139.9,265.7 1140.0,266.0"/>
<path class="ol" d="M1150.4,290.0C1150.7,290.2 1152.2,291.0 1152.0,291.5C1151.8,292.0 1149.6,292.5 1149.1,293.0C1148.6,293.5 1148.6,294.0 1149.0,294.5C1149.4,295.0 1151.4,295.5 1151.5,296.0C1151.6,296.5 1150.1,297.0 1149.4,297.5C1148.7,298.0 1147.4,298.5 1147.5,299.0C1147.6,299.5 1149.8,300.1 1150.1,300.6C1150.4,301.1 1150.0,301.6 1149.4,302.1C1148.8,302.6 1146.5,303.1 1146.3,303.6C1146.0,304.1 1147.5,304.6 1147.9,305.1C1148.3,305.6 1149.2,306.1 1148.8,306.6C1148.4,307.1 1146.0,307.6 1145.4,308.1C1144.9,308.6 1145.2,309.1 1145.5,309.6C1145.8,310.1 1147.6,310.6 1147.5,311.1C1147.4,311.6 1145.5,312.1 1144.8,312.6C1144.1,313.1 1143.0,313.6 1143.1,314.1C1143.2,314.6 1145.2,315.1 1145.4,315.6C1145.6,316.1 1144.7,316.6 1144.0,317.1C1143.3,317.6 1141.2,318.1 1141.0,318.6C1140.8,319.1 1142.4,319.7 1142.7,320.2C1143.0,320.7 1143.5,321.2 1142.9,321.7C1142.3,322.2 1139.9,322.7 1139.3,323.2C1138.7,323.7 1139.2,324.2 1139.5,324.7C1139.8,325.2 1141.4,325.7 1141.1,326.2C1140.8,326.7 1138.7,327.2 1137.9,327.7C1137.1,328.2 1136.3,328.7 1136.4,329.2C1136.5,329.7 1138.6,330.2 1138.6,330.7C1138.6,331.2 1137.4,331.7 1136.6,332.2C1135.8,332.7 1133.8,333.2 1133.6,333.7C1133.4,334.2 1135.1,334.7 1135.3,335.2C1135.5,335.7 1135.7,336.2 1135.0,336.7C1134.3,337.2 1131.8,337.7 1131.2,338.2C1130.7,338.7 1131.4,339.3 1131.7,339.8C1132.0,340.3 1133.2,340.8 1132.8,341.3C1132.4,341.8 1130.0,342.3 1129.2,342.8C1128.4,343.3 1127.9,343.8 1128.0,344.3C1128.1,344.8 1130.0,345.3 1129.9,345.8C1129.8,346.3 1128.3,346.8 1127.4,347.3C1126.5,347.8 1125.1,348.6 1124.6,348.8"/>
<path class="ol" d="M1145.4,242.7C1147.1,243.5 1152.5,246.4 1155.4,247.7C1158.3,248.9 1161.2,248.9 1162.9,250.2C1164.6,251.4 1164.7,255.2 1165.4,255.2C1166.1,255.2 1166.0,251.7 1167.0,250.0C1168.0,248.3 1169.5,245.4 1171.7,245.0C1173.9,244.6 1176.3,245.0 1180.0,247.4C1183.7,249.8 1189.7,255.4 1193.7,259.4C1197.7,263.4 1201.1,268.7 1204.0,271.4C1206.9,274.1 1207.5,276.0 1210.9,275.7C1214.3,275.4 1220.3,270.4 1224.6,269.7C1228.9,269.0 1232.6,270.0 1236.6,271.4C1240.6,272.8 1245.6,276.1 1248.6,278.3C1251.6,280.5 1253.6,283.3 1254.6,284.3"/>
<path class="ol" d="M1167.2,253.0C1167.1,253.3 1167.0,254.4 1166.6,254.9C1166.2,255.4 1165.6,255.8 1165.0,256.0C1164.4,256.2 1163.6,256.2 1163.0,256.0C1162.4,255.8 1161.8,255.4 1161.4,254.9C1161.0,254.4 1160.8,253.6 1160.8,253.0C1160.8,252.4 1161.0,251.6 1161.4,251.1C1161.8,250.6 1162.4,250.2 1163.0,250.0C1163.6,249.8 1164.4,249.8 1165.0,250.0C1165.6,250.2 1166.2,250.6 1166.6,251.1C1167.0,251.6 1167.1,252.7 1167.2,253.0"/>
<path class="ye" d="M1126.3,348.8C1124.8,349.9 1120.8,353.4 1117.5,355.5C1114.2,357.6 1109.6,359.7 1106.3,361.3C1103.0,362.9 1100.0,363.6 1097.5,365.0C1095.0,366.4 1093.2,367.9 1091.3,370.0C1089.4,372.1 1087.8,374.8 1086.3,377.5C1084.8,380.2 1083.5,383.4 1082.5,386.3C1081.5,389.2 1080.6,391.9 1080.0,395.0C1079.4,398.1 1079.6,402.1 1078.8,405.0C1078.0,407.9 1077.1,410.5 1075.0,412.5C1072.9,414.5 1069.6,415.4 1066.3,417.0C1063.0,418.6 1059.4,420.5 1055.0,421.8C1050.6,423.1 1044.8,423.2 1040.0,425.0C1035.2,426.8 1031.3,430.2 1026.3,432.5C1021.3,434.8 1015.0,436.5 1010.0,438.8C1005.0,441.1 1000.9,443.2 996.3,446.3C991.7,449.4 987.1,453.6 982.5,457.5C977.9,461.4 971.1,467.9 968.8,470.0"/>
<path class="ye" d="M988.0,457.5C987.8,458.0 987.5,459.8 986.9,460.7C986.3,461.6 985.2,462.4 984.2,462.7C983.2,463.0 981.8,463.0 980.8,462.7C979.8,462.4 978.7,461.6 978.1,460.7C977.5,459.8 977.0,458.6 977.0,457.5C977.0,456.4 977.5,455.2 978.1,454.3C978.7,453.4 979.8,452.6 980.8,452.3C981.8,452.0 983.2,452.0 984.2,452.3C985.2,452.6 986.3,453.4 986.9,454.3C987.5,455.2 987.8,457.0 988.0,457.5"/>
<path class="ye" d="M999.5,447.0C999.4,447.4 999.2,448.6 998.8,449.1C998.4,449.7 997.8,450.1 997.1,450.3C996.5,450.5 995.5,450.5 994.9,450.3C994.2,450.1 993.6,449.7 993.2,449.1C992.8,448.6 992.5,447.7 992.5,447.0C992.5,446.3 992.8,445.4 993.2,444.9C993.6,444.3 994.2,443.9 994.9,443.7C995.5,443.5 996.5,443.5 997.1,443.7C997.8,443.9 998.4,444.3 998.8,444.9C999.2,445.4 999.4,446.6 999.5,447.0"/>
<path class="ye" d="M1030.3,432.5C1030.2,432.9 1030.0,434.3 1029.5,434.9C1029.0,435.5 1028.2,436.1 1027.5,436.3C1026.8,436.5 1025.8,436.5 1025.1,436.3C1024.4,436.1 1023.6,435.5 1023.1,434.9C1022.6,434.3 1022.3,433.3 1022.3,432.5C1022.3,431.7 1022.6,430.7 1023.1,430.1C1023.6,429.5 1024.4,428.9 1025.1,428.7C1025.8,428.5 1026.8,428.5 1027.5,428.7C1028.2,428.9 1029.0,429.5 1029.5,430.1C1030.0,430.7 1030.2,432.1 1030.3,432.5"/>
<path class="ye" d="M1045.5,425.0C1045.3,425.5 1045.0,427.3 1044.4,428.2C1043.8,429.1 1042.7,429.9 1041.7,430.2C1040.7,430.5 1039.3,430.5 1038.3,430.2C1037.3,429.9 1036.2,429.1 1035.6,428.2C1035.0,427.3 1034.5,426.1 1034.5,425.0C1034.5,423.9 1035.0,422.7 1035.6,421.8C1036.2,420.9 1037.3,420.1 1038.3,419.8C1039.3,419.5 1040.7,419.5 1041.7,419.8C1042.7,420.1 1043.8,420.9 1044.4,421.8C1045.0,422.7 1045.3,424.5 1045.5,425.0"/>
<path class="ye" d="M1043.5,425.0C1043.4,425.4 1043.2,426.6 1042.8,427.1C1042.4,427.7 1041.8,428.1 1041.1,428.3C1040.4,428.5 1039.6,428.5 1038.9,428.3C1038.2,428.1 1037.6,427.7 1037.2,427.1C1036.8,426.6 1036.5,425.7 1036.5,425.0C1036.5,424.3 1036.8,423.4 1037.2,422.9C1037.6,422.3 1038.2,421.9 1038.9,421.7C1039.6,421.5 1040.4,421.5 1041.1,421.7C1041.8,421.9 1042.4,422.3 1042.8,422.9C1043.2,423.4 1043.4,424.6 1043.5,425.0"/>
<path class="ye" d="M1060.0,421.8C1059.8,422.3 1059.6,423.9 1059.0,424.7C1058.4,425.5 1057.4,426.3 1056.5,426.6C1055.6,426.9 1054.4,426.9 1053.5,426.6C1052.6,426.3 1051.6,425.5 1051.0,424.7C1050.4,423.9 1050.0,422.8 1050.0,421.8C1050.0,420.8 1050.4,419.7 1051.0,418.9C1051.6,418.1 1052.6,417.3 1053.5,417.0C1054.4,416.7 1055.6,416.7 1056.5,417.0C1057.4,417.3 1058.4,418.1 1059.0,418.9C1059.6,419.7 1059.8,421.3 1060.0,421.8"/>
<path class="ye" d="M1058.0,421.8C1057.9,422.1 1057.8,423.1 1057.4,423.6C1057.1,424.1 1056.5,424.5 1055.9,424.7C1055.4,424.9 1054.6,424.9 1054.1,424.7C1053.5,424.5 1052.9,424.1 1052.6,423.6C1052.2,423.1 1052.0,422.4 1052.0,421.8C1052.0,421.2 1052.2,420.5 1052.6,420.0C1052.9,419.5 1053.5,419.1 1054.1,418.9C1054.6,418.7 1055.4,418.7 1055.9,418.9C1056.5,419.1 1057.1,419.5 1057.4,420.0C1057.8,420.5 1057.9,421.5 1058.0,421.8"/>
<path class="ye" d="M1070.3,417.0C1070.2,417.4 1070.0,418.8 1069.5,419.4C1069.0,420.0 1068.2,420.6 1067.5,420.8C1066.8,421.0 1065.8,421.0 1065.1,420.8C1064.4,420.6 1063.6,420.0 1063.1,419.4C1062.6,418.8 1062.3,417.8 1062.3,417.0C1062.3,416.2 1062.6,415.2 1063.1,414.6C1063.6,414.0 1064.4,413.4 1065.1,413.2C1065.8,413.0 1066.8,413.0 1067.5,413.2C1068.2,413.4 1069.0,414.0 1069.5,414.6C1070.0,415.2 1070.2,416.6 1070.3,417.0"/>
<path class="ye" d="M1079.5,412.0C1079.3,412.4 1079.1,413.9 1078.6,414.6C1078.1,415.3 1077.2,416.0 1076.4,416.3C1075.6,416.6 1074.4,416.6 1073.6,416.3C1072.8,416.0 1071.9,415.3 1071.4,414.6C1070.9,413.9 1070.5,412.9 1070.5,412.0C1070.5,411.1 1070.9,410.1 1071.4,409.4C1071.9,408.7 1072.8,408.0 1073.6,407.7C1074.4,407.4 1075.6,407.4 1076.4,407.7C1077.2,408.0 1078.1,408.7 1078.6,409.4C1079.1,410.1 1079.3,411.6 1079.5,412.0"/>
<path class="ye" d="M1079.5,409.0C1079.4,409.4 1079.2,410.6 1078.8,411.1C1078.4,411.7 1077.8,412.1 1077.1,412.3C1076.4,412.5 1075.6,412.5 1074.9,412.3C1074.2,412.1 1073.6,411.7 1073.2,411.1C1072.8,410.6 1072.5,409.7 1072.5,409.0C1072.5,408.3 1072.8,407.4 1073.2,406.9C1073.6,406.3 1074.2,405.9 1074.9,405.7C1075.6,405.5 1076.4,405.5 1077.1,405.7C1077.8,405.9 1078.4,406.3 1078.8,406.9C1079.2,407.4 1079.4,408.6 1079.5,409.0"/>
<path class="ye" d="M1080.0,405.0C1079.9,405.3 1079.8,406.3 1079.4,406.8C1079.1,407.3 1078.5,407.7 1077.9,407.9C1077.4,408.1 1076.6,408.1 1076.1,407.9C1075.5,407.7 1074.9,407.3 1074.6,406.8C1074.2,406.3 1074.0,405.6 1074.0,405.0C1074.0,404.4 1074.2,403.7 1074.6,403.2C1074.9,402.7 1075.5,402.3 1076.1,402.1C1076.6,401.9 1077.4,401.9 1077.9,402.1C1078.5,402.3 1079.1,402.7 1079.4,403.2C1079.8,403.7 1079.9,404.7 1080.0,405.0"/>
<path class="ye" d="M1081.5,399.0C1081.4,399.2 1081.3,400.1 1081.0,400.5C1080.7,400.9 1080.3,401.2 1079.8,401.4C1079.3,401.5 1078.7,401.5 1078.2,401.4C1077.7,401.2 1077.3,400.9 1077.0,400.5C1076.7,400.1 1076.5,399.5 1076.5,399.0C1076.5,398.5 1076.7,397.9 1077.0,397.5C1077.3,397.1 1077.7,396.8 1078.2,396.6C1078.7,396.5 1079.3,396.5 1079.8,396.6C1080.3,396.8 1080.7,397.1 1081.0,397.5C1081.3,397.9 1081.4,398.8 1081.5,399.0"/>
<path class="ye" d="M1082.5,393.0C1082.4,393.2 1082.3,394.1 1082.0,394.5C1081.7,394.9 1081.3,395.2 1080.8,395.4C1080.3,395.5 1079.7,395.5 1079.2,395.4C1078.7,395.2 1078.3,394.9 1078.0,394.5C1077.7,394.1 1077.5,393.5 1077.5,393.0C1077.5,392.5 1077.7,391.9 1078.0,391.5C1078.3,391.1 1078.7,390.8 1079.2,390.6C1079.7,390.5 1080.3,390.5 1080.8,390.6C1081.3,390.8 1081.7,391.1 1082.0,391.5C1082.3,391.9 1082.4,392.8 1082.5,393.0"/>
<path class="ye" d="M1083.5,388.0C1083.4,388.2 1083.3,389.1 1083.0,389.5C1082.7,389.9 1082.3,390.2 1081.8,390.4C1081.3,390.5 1080.7,390.5 1080.2,390.4C1079.7,390.2 1079.3,389.9 1079.0,389.5C1078.7,389.1 1078.5,388.5 1078.5,388.0C1078.5,387.5 1078.7,386.9 1079.0,386.5C1079.3,386.1 1079.7,385.8 1080.2,385.6C1080.7,385.5 1081.3,385.5 1081.8,385.6C1082.3,385.8 1082.7,386.1 1083.0,386.5C1083.3,386.9 1083.4,387.8 1083.5,388.0"/>
<path class="ye" d="M1085.5,383.0C1085.4,383.2 1085.3,384.1 1085.0,384.5C1084.7,384.9 1084.3,385.2 1083.8,385.4C1083.3,385.5 1082.7,385.5 1082.2,385.4C1081.7,385.2 1081.3,384.9 1081.0,384.5C1080.7,384.1 1080.5,383.5 1080.5,383.0C1080.5,382.5 1080.7,381.9 1081.0,381.5C1081.3,381.1 1081.7,380.8 1082.2,380.6C1082.7,380.5 1083.3,380.5 1083.8,380.6C1084.3,380.8 1084.7,381.1 1085.0,381.5C1085.3,381.9 1085.4,382.8 1085.5,383.0"/>
<path class="ye" d="M1089.0,377.0C1088.9,377.3 1088.8,378.3 1088.4,378.8C1088.1,379.3 1087.5,379.7 1086.9,379.9C1086.4,380.1 1085.6,380.1 1085.1,379.9C1084.5,379.7 1083.9,379.3 1083.6,378.8C1083.2,378.3 1083.0,377.6 1083.0,377.0C1083.0,376.4 1083.2,375.7 1083.6,375.2C1083.9,374.7 1084.5,374.3 1085.1,374.1C1085.6,373.9 1086.4,373.9 1086.9,374.1C1087.5,374.3 1088.1,374.7 1088.4,375.2C1088.8,375.7 1088.9,376.7 1089.0,377.0"/>
<path class="ye" d="M1093.5,372.0C1093.4,372.4 1093.2,373.6 1092.8,374.1C1092.4,374.7 1091.8,375.1 1091.1,375.3C1090.4,375.5 1089.6,375.5 1088.9,375.3C1088.2,375.1 1087.6,374.7 1087.2,374.1C1086.8,373.6 1086.5,372.7 1086.5,372.0C1086.5,371.3 1086.8,370.4 1087.2,369.9C1087.6,369.3 1088.2,368.9 1088.9,368.7C1089.6,368.5 1090.4,368.5 1091.1,368.7C1091.8,368.9 1092.4,369.3 1092.8,369.9C1093.2,370.4 1093.4,371.6 1093.5,372.0"/>
<path class="ye" d="M1096.0,368.0C1095.9,368.3 1095.8,369.3 1095.4,369.8C1095.1,370.3 1094.5,370.7 1093.9,370.9C1093.4,371.1 1092.6,371.1 1092.1,370.9C1091.5,370.7 1090.9,370.3 1090.6,369.8C1090.2,369.3 1090.0,368.6 1090.0,368.0C1090.0,367.4 1090.2,366.7 1090.6,366.2C1090.9,365.7 1091.5,365.3 1092.1,365.1C1092.6,364.9 1093.4,364.9 1093.9,365.1C1094.5,365.3 1095.1,365.7 1095.4,366.2C1095.8,366.7 1095.9,367.7 1096.0,368.0"/>
<path class="ye" d="M1110.0,363.0C1109.8,363.6 1109.6,365.6 1108.9,366.5C1108.2,367.4 1107.0,368.3 1105.9,368.7C1104.8,369.1 1103.2,369.1 1102.1,368.7C1101.0,368.3 1099.8,367.4 1099.1,366.5C1098.4,365.6 1098.0,364.2 1098.0,363.0C1098.0,361.8 1098.4,360.4 1099.1,359.5C1099.8,358.6 1101.0,357.7 1102.1,357.3C1103.2,356.9 1104.8,356.9 1105.9,357.3C1107.0,357.7 1108.2,358.6 1108.9,359.5C1109.6,360.4 1109.8,362.4 1110.0,363.0"/>
<path class="ye" d="M971.5,469.0C971.4,469.2 971.3,470.1 971.0,470.5C970.7,470.9 970.3,471.2 969.8,471.4C969.3,471.5 968.7,471.5 968.2,471.4C967.7,471.2 967.3,470.9 967.0,470.5C966.7,470.1 966.5,469.5 966.5,469.0C966.5,468.5 966.7,467.9 967.0,467.5C967.3,467.1 967.7,466.8 968.2,466.6C968.7,466.5 969.3,466.5 969.8,466.6C970.3,466.8 970.7,467.1 971.0,467.5C971.3,467.9 971.4,468.8 971.5,469.0"/>
<path class="ye" d="M1012.5,439.0C1012.4,439.2 1012.3,440.1 1012.0,440.5C1011.7,440.9 1011.3,441.2 1010.8,441.4C1010.3,441.5 1009.7,441.5 1009.2,441.4C1008.7,441.2 1008.3,440.9 1008.0,440.5C1007.7,440.1 1007.5,439.5 1007.5,439.0C1007.5,438.5 1007.7,437.9 1008.0,437.5C1008.3,437.1 1008.7,436.8 1009.2,436.6C1009.7,436.5 1010.3,436.5 1010.8,436.6C1011.3,436.8 1011.7,437.1 1012.0,437.5C1012.3,437.9 1012.4,438.8 1012.5,439.0"/>
<path class="ye" d="M988.8,418.8C989.8,419.2 993.0,421.3 995.0,421.0C997.0,420.7 998.7,419.2 1001.0,417.0C1003.3,414.8 1005.2,410.1 1008.8,407.5C1012.4,404.9 1018.5,403.2 1022.5,401.3C1026.5,399.4 1029.2,397.6 1032.5,396.3C1035.8,395.1 1038.7,394.9 1042.0,393.8C1045.3,392.8 1048.7,391.6 1052.5,390.0C1056.3,388.4 1060.8,386.5 1065.0,384.5C1069.2,382.5 1073.8,380.0 1077.5,378.0C1081.2,376.0 1084.6,374.4 1087.5,372.5C1090.4,370.6 1093.8,367.3 1095.0,366.3"/>
<path class="ye" d="M1010.5,406.0C1010.4,406.2 1010.3,407.1 1010.0,407.5C1009.7,407.9 1009.3,408.2 1008.8,408.4C1008.3,408.5 1007.7,408.5 1007.2,408.4C1006.7,408.2 1006.3,407.9 1006.0,407.5C1005.7,407.1 1005.5,406.5 1005.5,406.0C1005.5,405.5 1005.7,404.9 1006.0,404.5C1006.3,404.1 1006.7,403.8 1007.2,403.6C1007.7,403.5 1008.3,403.5 1008.8,403.6C1009.3,403.8 1009.7,404.1 1010.0,404.5C1010.3,404.9 1010.4,405.8 1010.5,406.0"/>
<path class="ye" d="M1067.5,384.5C1067.4,384.8 1067.3,385.6 1067.0,386.0C1066.7,386.4 1066.3,386.8 1065.8,386.9C1065.3,387.0 1064.7,387.0 1064.2,386.9C1063.7,386.8 1063.3,386.4 1063.0,386.0C1062.7,385.6 1062.5,385.0 1062.5,384.5C1062.5,384.0 1062.7,383.4 1063.0,383.0C1063.3,382.6 1063.7,382.2 1064.2,382.1C1064.7,382.0 1065.3,382.0 1065.8,382.1C1066.3,382.2 1066.7,382.6 1067.0,383.0C1067.3,383.4 1067.4,384.2 1067.5,384.5"/>
<path class="ye" d="M1073.0,382.0C1072.9,382.2 1072.8,382.9 1072.6,383.2C1072.4,383.5 1072.0,383.8 1071.6,383.9C1071.2,384.0 1070.8,384.0 1070.4,383.9C1070.0,383.8 1069.6,383.5 1069.4,383.2C1069.2,382.9 1069.0,382.4 1069.0,382.0C1069.0,381.6 1069.2,381.1 1069.4,380.8C1069.6,380.5 1070.0,380.2 1070.4,380.1C1070.8,380.0 1071.2,380.0 1071.6,380.1C1072.0,380.2 1072.4,380.5 1072.6,380.8C1072.8,381.1 1072.9,381.8 1073.0,382.0"/>
<path class="ye" d="M1081.0,377.0C1080.9,377.2 1080.8,377.9 1080.6,378.2C1080.4,378.5 1080.0,378.8 1079.6,378.9C1079.2,379.0 1078.8,379.0 1078.4,378.9C1078.0,378.8 1077.6,378.5 1077.4,378.2C1077.2,377.9 1077.0,377.4 1077.0,377.0C1077.0,376.6 1077.2,376.1 1077.4,375.8C1077.6,375.5 1078.0,375.2 1078.4,375.1C1078.8,375.0 1079.2,375.0 1079.6,375.1C1080.0,375.2 1080.4,375.5 1080.6,375.8C1080.8,376.1 1080.9,376.8 1081.0,377.0"/>
<path class="yef" d="M1042,383 a8,10.5 0 1,0 0.1,0 z"/>
<path class="ye" d="M998.8,360.0C999.0,358.1 997.1,352.1 1000.0,348.8C1002.9,345.5 1011.3,342.9 1016.3,340.0C1021.3,337.1 1025.6,333.8 1030.0,331.3C1034.4,328.8 1038.3,326.9 1042.5,325.0C1046.7,323.1 1050.8,320.2 1055.0,320.0C1059.2,319.8 1062.5,323.0 1067.5,323.8C1072.5,324.6 1081.0,325.6 1085.0,325.0C1089.0,324.4 1087.5,322.9 1091.3,320.0C1095.0,317.1 1103.5,311.4 1107.5,307.5C1111.5,303.6 1112.1,299.2 1115.0,296.3C1117.9,293.4 1122.3,292.2 1125.0,290.0C1127.7,287.8 1129.2,285.3 1131.0,283.0C1132.8,280.7 1135.5,279.0 1136.0,276.0C1136.5,273.0 1134.6,269.0 1134.0,265.0C1133.4,261.0 1132.8,254.2 1132.5,252.0"/>
<path class="ye" d="M1003.5,349.0C1003.4,349.4 1003.2,350.6 1002.8,351.1C1002.4,351.7 1001.8,352.1 1001.1,352.3C1000.5,352.5 999.5,352.5 998.9,352.3C998.2,352.1 997.6,351.7 997.2,351.1C996.8,350.6 996.5,349.7 996.5,349.0C996.5,348.3 996.8,347.4 997.2,346.9C997.6,346.3 998.2,345.9 998.9,345.7C999.5,345.5 1000.5,345.5 1001.1,345.7C1001.8,345.9 1002.4,346.3 1002.8,346.9C1003.2,347.4 1003.4,348.6 1003.5,349.0"/>
<path class="ye" d="M1019.5,340.0C1019.4,340.4 1019.2,341.6 1018.8,342.1C1018.4,342.7 1017.8,343.1 1017.1,343.3C1016.5,343.5 1015.5,343.5 1014.9,343.3C1014.2,343.1 1013.6,342.7 1013.2,342.1C1012.8,341.6 1012.5,340.7 1012.5,340.0C1012.5,339.3 1012.8,338.4 1013.2,337.9C1013.6,337.3 1014.2,336.9 1014.9,336.7C1015.5,336.5 1016.5,336.5 1017.1,336.7C1017.8,336.9 1018.4,337.3 1018.8,337.9C1019.2,338.4 1019.4,339.6 1019.5,340.0"/>
<path class="ye" d="M1034.0,331.0C1033.9,331.4 1033.7,332.8 1033.2,333.4C1032.7,334.0 1031.9,334.6 1031.2,334.8C1030.5,335.0 1029.5,335.0 1028.8,334.8C1028.1,334.6 1027.3,334.0 1026.8,333.4C1026.3,332.8 1026.0,331.8 1026.0,331.0C1026.0,330.2 1026.3,329.2 1026.8,328.6C1027.3,328.0 1028.1,327.4 1028.8,327.2C1029.5,327.0 1030.5,327.0 1031.2,327.2C1031.9,327.4 1032.7,328.0 1033.2,328.6C1033.7,329.2 1033.9,330.6 1034.0,331.0"/>
<path class="ye" d="M1058.0,320.0C1057.9,320.3 1057.8,321.3 1057.4,321.8C1057.1,322.3 1056.5,322.7 1055.9,322.9C1055.4,323.1 1054.6,323.1 1054.1,322.9C1053.5,322.7 1052.9,322.3 1052.6,321.8C1052.2,321.3 1052.0,320.6 1052.0,320.0C1052.0,319.4 1052.2,318.7 1052.6,318.2C1052.9,317.7 1053.5,317.3 1054.1,317.1C1054.6,316.9 1055.4,316.9 1055.9,317.1C1056.5,317.3 1057.1,317.7 1057.4,318.2C1057.8,318.7 1057.9,319.7 1058.0,320.0"/>
<path class="ye" d="M1071.5,324.0C1071.3,324.4 1071.1,325.9 1070.6,326.6C1070.1,327.3 1069.2,328.0 1068.4,328.3C1067.6,328.6 1066.4,328.6 1065.6,328.3C1064.8,328.0 1063.9,327.3 1063.4,326.6C1062.9,325.9 1062.5,324.9 1062.5,324.0C1062.5,323.1 1062.9,322.1 1063.4,321.4C1063.9,320.7 1064.8,320.0 1065.6,319.7C1066.4,319.4 1067.6,319.4 1068.4,319.7C1069.2,320.0 1070.1,320.7 1070.6,321.4C1071.1,322.1 1071.3,323.6 1071.5,324.0"/>
<path class="ye" d="M1094.5,320.0C1094.4,320.4 1094.2,321.6 1093.8,322.1C1093.4,322.7 1092.8,323.1 1092.1,323.3C1091.4,323.5 1090.6,323.5 1089.9,323.3C1089.2,323.1 1088.6,322.7 1088.2,322.1C1087.8,321.6 1087.5,320.7 1087.5,320.0C1087.5,319.3 1087.8,318.4 1088.2,317.9C1088.6,317.3 1089.2,316.9 1089.9,316.7C1090.6,316.5 1091.4,316.5 1092.1,316.7C1092.8,316.9 1093.4,317.3 1093.8,317.9C1094.2,318.4 1094.4,319.6 1094.5,320.0"/>
<path class="ye" d="M1110.0,307.0C1109.9,307.3 1109.8,308.3 1109.4,308.8C1109.1,309.3 1108.5,309.7 1107.9,309.9C1107.4,310.1 1106.6,310.1 1106.1,309.9C1105.5,309.7 1104.9,309.3 1104.6,308.8C1104.2,308.3 1104.0,307.6 1104.0,307.0C1104.0,306.4 1104.2,305.7 1104.6,305.2C1104.9,304.7 1105.5,304.3 1106.1,304.1C1106.6,303.9 1107.4,303.9 1107.9,304.1C1108.5,304.3 1109.1,304.7 1109.4,305.2C1109.8,305.7 1109.9,306.7 1110.0,307.0"/>
<path class="ye" d="M1115.5,298.0C1115.4,298.2 1115.3,299.1 1115.0,299.5C1114.7,299.9 1114.3,300.2 1113.8,300.4C1113.3,300.5 1112.7,300.5 1112.2,300.4C1111.7,300.2 1111.3,299.9 1111.0,299.5C1110.7,299.1 1110.5,298.5 1110.5,298.0C1110.5,297.5 1110.7,296.9 1111.0,296.5C1111.3,296.1 1111.7,295.8 1112.2,295.6C1112.7,295.5 1113.3,295.5 1113.8,295.6C1114.3,295.8 1114.7,296.1 1115.0,296.5C1115.3,296.9 1115.4,297.8 1115.5,298.0"/>
<path class="ye" d="M1122.0,293.0C1121.9,293.3 1121.8,294.3 1121.4,294.8C1121.1,295.3 1120.5,295.7 1119.9,295.9C1119.4,296.1 1118.6,296.1 1118.1,295.9C1117.5,295.7 1116.9,295.3 1116.6,294.8C1116.2,294.3 1116.0,293.6 1116.0,293.0C1116.0,292.4 1116.2,291.7 1116.6,291.2C1116.9,290.7 1117.5,290.3 1118.1,290.1C1118.6,289.9 1119.4,289.9 1119.9,290.1C1120.5,290.3 1121.1,290.7 1121.4,291.2C1121.8,291.7 1121.9,292.7 1122.0,293.0"/>
<path class="ye" d="M1181.3,296.0C1181.3,297.5 1180.3,302.3 1181.3,305.0C1182.2,307.7 1185.5,307.6 1187.0,312.0C1188.5,316.4 1188.7,326.6 1190.0,331.3C1191.3,336.0 1192.9,336.5 1195.0,340.0C1197.1,343.5 1201.0,347.5 1202.5,352.5C1204.0,357.5 1204.0,364.2 1203.8,370.0C1203.6,375.8 1202.8,383.3 1201.3,387.5C1199.8,391.7 1195.8,391.7 1195.0,395.0C1194.2,398.3 1198.0,404.2 1196.3,407.5C1194.6,410.8 1187.3,411.2 1185.0,415.0C1182.7,418.8 1184.6,425.8 1182.5,430.0C1180.4,434.2 1175.6,440.0 1172.5,440.0C1169.4,440.0 1164.2,432.5 1163.8,430.0C1163.4,427.5 1168.3,423.3 1170.0,425.0C1171.7,426.7 1174.2,434.6 1174.0,440.0C1173.8,445.4 1170.6,453.4 1168.8,457.5C1167.0,461.6 1164.0,463.2 1163.0,464.3"/>
<path class="ye" d="M1194.0,330.0C1193.8,330.6 1193.6,332.6 1192.9,333.5C1192.2,334.4 1191.0,335.3 1189.9,335.7C1188.8,336.1 1187.2,336.1 1186.1,335.7C1185.0,335.3 1183.8,334.4 1183.1,333.5C1182.4,332.6 1182.0,331.2 1182.0,330.0C1182.0,328.8 1182.4,327.4 1183.1,326.5C1183.8,325.6 1185.0,324.7 1186.1,324.3C1187.2,323.9 1188.8,323.9 1189.9,324.3C1191.0,324.7 1192.2,325.6 1192.9,326.5C1193.6,327.4 1193.8,329.4 1194.0,330.0"/>
<path class="ye" d="M1192.0,330.0C1191.9,330.4 1191.7,331.8 1191.2,332.4C1190.7,333.0 1189.9,333.6 1189.2,333.8C1188.5,334.0 1187.5,334.0 1186.8,333.8C1186.1,333.6 1185.3,333.0 1184.8,332.4C1184.3,331.8 1184.0,330.8 1184.0,330.0C1184.0,329.2 1184.3,328.2 1184.8,327.6C1185.3,327.0 1186.1,326.4 1186.8,326.2C1187.5,326.0 1188.5,326.0 1189.2,326.2C1189.9,326.4 1190.7,327.0 1191.2,327.6C1191.7,328.2 1191.9,329.6 1192.0,330.0"/>
<path class="ye" d="M1192.0,318.0C1191.8,318.5 1191.6,320.1 1191.0,320.9C1190.4,321.7 1189.4,322.5 1188.5,322.8C1187.6,323.1 1186.4,323.1 1185.5,322.8C1184.6,322.5 1183.6,321.7 1183.0,320.9C1182.4,320.1 1182.0,319.0 1182.0,318.0C1182.0,317.0 1182.4,315.9 1183.0,315.1C1183.6,314.3 1184.6,313.5 1185.5,313.2C1186.4,312.9 1187.6,312.9 1188.5,313.2C1189.4,313.5 1190.4,314.3 1191.0,315.1C1191.6,315.9 1191.8,317.5 1192.0,318.0"/>
<path class="ye" d="M1190.0,310.0C1189.9,310.4 1189.7,311.8 1189.2,312.4C1188.7,313.0 1187.9,313.6 1187.2,313.8C1186.5,314.0 1185.5,314.0 1184.8,313.8C1184.1,313.6 1183.3,313.0 1182.8,312.4C1182.3,311.8 1182.0,310.8 1182.0,310.0C1182.0,309.2 1182.3,308.2 1182.8,307.6C1183.3,307.0 1184.1,306.4 1184.8,306.2C1185.5,306.0 1186.5,306.0 1187.2,306.2C1187.9,306.4 1188.7,307.0 1189.2,307.6C1189.7,308.2 1189.9,309.6 1190.0,310.0"/>
<path class="ye" d="M1189.0,414.0C1188.9,414.4 1188.7,415.8 1188.2,416.4C1187.7,417.0 1186.9,417.6 1186.2,417.8C1185.5,418.0 1184.5,418.0 1183.8,417.8C1183.1,417.6 1182.3,417.0 1181.8,416.4C1181.3,415.8 1181.0,414.8 1181.0,414.0C1181.0,413.2 1181.3,412.2 1181.8,411.6C1182.3,411.0 1183.1,410.4 1183.8,410.2C1184.5,410.0 1185.5,410.0 1186.2,410.2C1186.9,410.4 1187.7,411.0 1188.2,411.6C1188.7,412.2 1188.9,413.6 1189.0,414.0"/>
<path class="ye" d="M1181.3,307.5C1183.2,306.5 1188.1,301.7 1192.5,301.3C1196.9,300.9 1202.9,305.6 1207.5,305.0C1212.1,304.4 1216.2,297.7 1220.0,297.5C1223.8,297.3 1225.8,301.9 1230.0,303.8C1234.2,305.7 1239.8,306.5 1245.0,308.8C1250.2,311.1 1258.6,316.1 1261.3,317.5"/>
<path class="ye" d="M1198.5,308.0C1198.4,308.2 1198.3,309.1 1198.0,309.5C1197.7,309.9 1197.3,310.2 1196.8,310.4C1196.3,310.5 1195.7,310.5 1195.2,310.4C1194.7,310.2 1194.3,309.9 1194.0,309.5C1193.7,309.1 1193.5,308.5 1193.5,308.0C1193.5,307.5 1193.7,306.9 1194.0,306.5C1194.3,306.1 1194.7,305.8 1195.2,305.6C1195.7,305.5 1196.3,305.5 1196.8,305.6C1197.3,305.8 1197.7,306.1 1198.0,306.5C1198.3,306.9 1198.4,307.8 1198.5,308.0"/>
<path class="ye" d="M1211.5,306.0C1211.4,306.2 1211.3,307.1 1211.0,307.5C1210.7,307.9 1210.3,308.2 1209.8,308.4C1209.3,308.5 1208.7,308.5 1208.2,308.4C1207.7,308.2 1207.3,307.9 1207.0,307.5C1206.7,307.1 1206.5,306.5 1206.5,306.0C1206.5,305.5 1206.7,304.9 1207.0,304.5C1207.3,304.1 1207.7,303.8 1208.2,303.6C1208.7,303.5 1209.3,303.5 1209.8,303.6C1210.3,303.8 1210.7,304.1 1211.0,304.5C1211.3,304.9 1211.4,305.8 1211.5,306.0"/>
<path class="ye" d="M1249.5,310.0C1249.4,310.2 1249.3,311.1 1249.0,311.5C1248.7,311.9 1248.3,312.2 1247.8,312.4C1247.3,312.5 1246.7,312.5 1246.2,312.4C1245.7,312.2 1245.3,311.9 1245.0,311.5C1244.7,311.1 1244.5,310.5 1244.5,310.0C1244.5,309.5 1244.7,308.9 1245.0,308.5C1245.3,308.1 1245.7,307.8 1246.2,307.6C1246.7,307.5 1247.3,307.5 1247.8,307.6C1248.3,307.8 1248.7,308.1 1249.0,308.5C1249.3,308.9 1249.4,309.8 1249.5,310.0"/>
<path class="ye" d="M1262.0,318.0C1261.9,318.2 1261.8,318.9 1261.6,319.2C1261.4,319.5 1261.0,319.8 1260.6,319.9C1260.2,320.0 1259.8,320.0 1259.4,319.9C1259.0,319.8 1258.6,319.5 1258.4,319.2C1258.2,318.9 1258.0,318.4 1258.0,318.0C1258.0,317.6 1258.2,317.1 1258.4,316.8C1258.6,316.5 1259.0,316.2 1259.4,316.1C1259.8,316.0 1260.2,316.0 1260.6,316.1C1261.0,316.2 1261.4,316.5 1261.6,316.8C1261.8,317.1 1261.9,317.8 1262.0,318.0"/>
<path class="ye" d="M1308.8,291.3C1311.5,291.7 1321.7,291.9 1325.0,293.8C1328.3,295.7 1330.0,299.6 1328.8,302.5C1327.5,305.4 1318.5,308.0 1317.5,311.3C1316.5,314.6 1320.8,318.6 1322.5,322.5C1324.2,326.4 1325.0,331.4 1327.5,335.0C1330.0,338.6 1333.3,341.3 1337.5,343.8C1341.7,346.3 1349.0,347.3 1352.5,350.0C1356.0,352.7 1359.0,356.9 1358.8,360.0C1358.6,363.1 1350.3,368.4 1351.3,368.8C1352.3,369.2 1360.2,362.3 1365.0,362.5C1369.8,362.7 1376.0,367.9 1380.0,370.0C1384.0,372.1 1386.9,372.5 1388.8,375.0C1390.7,377.5 1392.3,380.8 1391.3,385.0C1390.2,389.2 1385.2,396.8 1382.5,400.0C1379.8,403.2 1377.9,405.3 1375.0,404.5C1372.1,403.7 1367.1,398.2 1365.0,395.0C1362.9,391.8 1362.9,386.7 1362.5,385.0"/>
<path class="ye" d="M1387.0,379.0C1386.8,379.6 1386.6,381.6 1385.9,382.5C1385.2,383.4 1384.0,384.3 1382.9,384.7C1381.8,385.1 1380.2,385.1 1379.1,384.7C1378.0,384.3 1376.8,383.4 1376.1,382.5C1375.4,381.6 1375.0,380.2 1375.0,379.0C1375.0,377.8 1375.4,376.4 1376.1,375.5C1376.8,374.6 1378.0,373.7 1379.1,373.3C1380.2,372.9 1381.8,372.9 1382.9,373.3C1384.0,373.7 1385.2,374.6 1385.9,375.5C1386.6,376.4 1386.8,378.4 1387.0,379.0"/>
<path class="ye" d="M1384.0,379.0C1383.9,379.3 1383.8,380.3 1383.4,380.8C1383.1,381.3 1382.5,381.7 1381.9,381.9C1381.4,382.1 1380.6,382.1 1380.1,381.9C1379.5,381.7 1378.9,381.3 1378.6,380.8C1378.2,380.3 1378.0,379.6 1378.0,379.0C1378.0,378.4 1378.2,377.7 1378.6,377.2C1378.9,376.7 1379.5,376.3 1380.1,376.1C1380.6,375.9 1381.4,375.9 1381.9,376.1C1382.5,376.3 1383.1,376.7 1383.4,377.2C1383.8,377.7 1383.9,378.7 1384.0,379.0"/>
<path class="ye" d="M1375.9,259.4C1376.9,260.3 1377.6,263.6 1381.9,264.8C1386.2,266.0 1394.6,264.8 1401.9,266.8C1409.2,268.8 1417.5,273.3 1425.8,276.8C1434.1,280.3 1443.8,285.0 1451.8,287.8C1459.8,290.6 1467.5,293.0 1473.8,293.8C1480.1,294.6 1483.5,294.3 1489.8,292.8C1496.1,291.3 1503.7,287.3 1511.7,284.8C1519.7,282.3 1529.4,279.4 1537.7,277.8C1546.0,276.2 1552.6,275.8 1561.7,275.4C1570.8,275.0 1587.4,275.4 1592.6,275.4"/>
<path class="ye" d="M1273.4,242.3C1275.0,241.7 1278.5,240.3 1282.9,238.9C1287.3,237.5 1295.4,234.1 1300.0,233.7C1304.6,233.3 1306.0,236.7 1310.3,236.3C1314.6,235.9 1318.8,232.2 1325.7,231.1C1332.6,229.9 1341.4,230.4 1351.4,229.4C1361.4,228.4 1374.3,226.4 1385.7,225.1C1397.1,223.8 1411.1,222.8 1420.0,221.7C1428.9,220.6 1435.8,218.9 1438.9,218.3"/>
<path class="lgy" d="M966.3,321.3C969.8,319.8 981.0,314.4 987.5,312.5C994.0,310.6 999.6,312.7 1005.0,310.0C1010.4,307.3 1015.8,298.2 1020.0,296.3C1024.2,294.4 1023.3,298.6 1030.0,298.8C1036.7,299.0 1052.9,298.1 1060.0,297.5C1067.1,296.9 1067.5,297.1 1072.5,295.0C1077.5,292.9 1085.4,289.2 1090.0,285.0C1094.6,280.8 1098.3,272.5 1100.0,270.0"/>
<path class="lgy" d="M966.3,392.0C968.0,390.4 974.6,386.2 976.3,382.5C978.0,378.8 972.3,373.8 976.3,370.0C980.2,366.2 995.2,362.7 1000.0,360.0C1004.8,357.3 1000.4,356.5 1005.0,353.8C1009.6,351.1 1023.3,346.9 1027.5,343.8C1031.7,340.7 1029.6,336.5 1030.0,335.0"/>
<path class="lgy" d="M1074.5,332.5C1074.2,333.7 1073.9,337.7 1072.8,339.9C1071.7,342.1 1070.0,344.3 1068.1,345.8C1066.2,347.3 1063.7,348.6 1061.3,349.1C1058.9,349.7 1056.1,349.7 1053.7,349.1C1051.3,348.6 1048.8,347.3 1046.9,345.8C1045.0,344.3 1043.3,342.1 1042.2,339.9C1041.1,337.7 1040.5,335.0 1040.5,332.5C1040.5,330.0 1041.1,327.3 1042.2,325.1C1043.3,322.9 1045.0,320.7 1046.9,319.2C1048.8,317.7 1051.3,316.4 1053.7,315.9C1056.1,315.3 1058.9,315.3 1061.3,315.9C1063.7,316.4 1066.2,317.7 1068.1,319.2C1070.0,320.7 1071.7,322.9 1072.8,325.1C1073.9,327.3 1074.2,331.3 1074.5,332.5"/>
<path class="lgy" d="M1037.5,332.5C1037.2,333.3 1036.9,335.9 1036.0,337.3C1035.1,338.7 1033.6,340.1 1031.9,341.1C1030.2,342.1 1027.9,342.9 1025.8,343.2C1023.7,343.5 1021.3,343.5 1019.2,343.2C1017.1,342.9 1014.8,342.1 1013.1,341.1C1011.4,340.1 1009.9,338.7 1009.0,337.3C1008.1,335.9 1007.5,334.1 1007.5,332.5C1007.5,330.9 1008.1,329.1 1009.0,327.7C1009.9,326.3 1011.4,324.9 1013.1,323.9C1014.8,322.9 1017.1,322.1 1019.2,321.8C1021.3,321.5 1023.7,321.5 1025.8,321.8C1027.9,322.1 1030.2,322.9 1031.9,323.9C1033.6,324.9 1035.1,326.3 1036.0,327.7C1036.9,329.1 1037.2,331.7 1037.5,332.5"/>
<path class="lgy" d="M1047.0,338.0C1046.8,338.6 1046.5,340.7 1045.8,341.9C1045.0,343.1 1043.8,344.2 1042.5,345.0C1041.2,345.8 1039.4,346.5 1037.7,346.8C1036.0,347.1 1034.0,347.1 1032.3,346.8C1030.6,346.5 1028.8,345.8 1027.5,345.0C1026.2,344.2 1025.0,343.1 1024.2,341.9C1023.5,340.7 1023.0,339.3 1023.0,338.0C1023.0,336.7 1023.5,335.3 1024.2,334.1C1025.0,332.9 1026.2,331.8 1027.5,331.0C1028.8,330.2 1030.6,329.5 1032.3,329.2C1034.0,328.9 1036.0,328.9 1037.7,329.2C1039.4,329.5 1041.2,330.2 1042.5,331.0C1043.8,331.8 1045.0,332.9 1045.8,334.1C1046.5,335.3 1046.8,337.4 1047.0,338.0"/>
<path class="lgy" d="M1255.0,290.0C1256.2,292.5 1262.1,299.6 1262.5,305.0C1262.9,310.4 1260.8,316.7 1257.5,322.5C1254.2,328.3 1248.8,334.6 1242.5,340.0C1236.2,345.4 1226.2,350.8 1220.0,355.0C1213.8,359.2 1209.6,362.5 1205.0,365.0C1200.4,367.5 1197.5,369.4 1192.5,370.0C1187.5,370.6 1177.9,369.0 1175.0,368.8"/>
<path class="lgy" d="M1301.3,310.0C1301.1,312.9 1299.7,322.5 1300.0,327.5C1300.3,332.5 1303.0,334.2 1303.0,340.0C1303.0,345.8 1302.2,355.0 1300.0,362.5C1297.8,370.0 1293.8,379.2 1290.0,385.0C1286.2,390.8 1283.3,393.5 1277.5,397.5C1271.7,401.5 1262.9,405.9 1255.0,408.8C1247.1,411.7 1236.7,414.2 1230.0,415.0C1223.3,415.8 1219.8,415.1 1215.0,413.8C1210.2,412.6 1205.0,410.2 1201.3,407.5C1197.5,404.8 1195.2,401.2 1192.5,397.5C1189.8,393.8 1185.6,388.5 1185.0,385.0C1184.4,381.5 1188.2,377.8 1188.8,376.3"/>
<path class="lgy" d="M1230.0,395.0C1229.8,396.1 1229.4,399.6 1228.5,401.5C1227.6,403.4 1226.1,405.3 1224.4,406.7C1222.7,408.1 1220.4,409.1 1218.3,409.6C1216.2,410.1 1213.8,410.1 1211.7,409.6C1209.6,409.1 1207.3,408.1 1205.6,406.7C1203.9,405.3 1202.4,403.4 1201.5,401.5C1200.6,399.6 1200.0,397.2 1200.0,395.0C1200.0,392.8 1200.6,390.4 1201.5,388.5C1202.4,386.6 1203.9,384.7 1205.6,383.3C1207.3,381.9 1209.6,380.9 1211.7,380.4C1213.8,379.9 1216.2,379.9 1218.3,380.4C1220.4,380.9 1222.7,381.9 1224.4,383.3C1226.1,384.7 1227.6,386.6 1228.5,388.5C1229.4,390.4 1229.8,393.9 1230.0,395.0"/>
<path class="lgy" d="M1213.5,392.5C1213.4,392.9 1213.3,394.3 1212.9,395.1C1212.5,395.9 1211.9,396.7 1211.2,397.2C1210.5,397.7 1209.6,398.1 1208.8,398.3C1208.0,398.5 1207.0,398.5 1206.2,398.3C1205.4,398.1 1204.5,397.7 1203.8,397.2C1203.1,396.7 1202.5,395.9 1202.1,395.1C1201.7,394.3 1201.5,393.4 1201.5,392.5C1201.5,391.6 1201.7,390.7 1202.1,389.9C1202.5,389.1 1203.1,388.3 1203.8,387.8C1204.5,387.3 1205.4,386.9 1206.2,386.7C1207.0,386.5 1208.0,386.5 1208.8,386.7C1209.6,386.9 1210.5,387.3 1211.2,387.8C1211.9,388.3 1212.5,389.1 1212.9,389.9C1213.3,390.7 1213.4,392.1 1213.5,392.5"/>
<path class="lgy" d="M1153.8,372.5C1156.1,373.3 1163.1,377.9 1167.5,377.5C1171.9,377.1 1177.9,371.2 1180.0,370.0"/>
<path class="lgy" d="M1201.0,330.0C1202.1,329.6 1205.8,329.2 1207.5,327.5C1209.2,325.8 1207.7,321.0 1211.0,320.0C1214.3,319.0 1221.4,322.3 1227.5,321.3C1233.6,320.3 1241.9,314.2 1247.5,313.8C1253.1,313.4 1258.8,318.0 1261.0,318.8"/>
<path class="lgy" d="M1213.0,315.0C1212.8,315.4 1212.6,316.6 1212.1,317.1C1211.6,317.6 1210.7,318.0 1210.0,318.0C1209.3,318.0 1208.4,317.6 1207.9,317.1C1207.4,316.6 1207.0,315.7 1207.0,315.0C1207.0,314.3 1207.4,313.4 1207.9,312.9C1208.4,312.4 1209.3,312.0 1210.0,312.0C1210.7,312.0 1211.6,312.4 1212.1,312.9C1212.6,313.4 1212.8,314.6 1213.0,315.0"/>
<path class="lgy" d="M1262.5,318.8C1260.4,321.5 1255.4,330.0 1250.0,335.0C1244.6,340.0 1236.7,344.2 1230.0,348.8C1223.3,353.4 1213.3,360.2 1210.0,362.5"/>
<path class="lgy" d="M1193.2,274.8C1193.0,275.7 1192.8,278.5 1192.0,280.2C1191.2,281.9 1190.0,283.5 1188.6,284.9C1187.1,286.3 1185.2,287.5 1183.3,288.4C1181.3,289.3 1179.1,290.0 1176.9,290.3C1174.7,290.6 1172.3,290.6 1170.1,290.3C1167.9,290.0 1165.7,289.3 1163.7,288.4C1161.8,287.5 1159.9,286.3 1158.4,284.9C1157.0,283.5 1155.8,281.9 1155.0,280.2C1154.2,278.5 1153.8,276.6 1153.8,274.8C1153.8,273.0 1154.2,271.1 1155.0,269.4C1155.8,267.7 1157.0,266.1 1158.4,264.7C1159.9,263.3 1161.8,262.1 1163.7,261.2C1165.7,260.3 1167.9,259.6 1170.1,259.3C1172.3,259.0 1174.7,259.0 1176.9,259.3C1179.1,259.6 1181.3,260.3 1183.3,261.2C1185.2,262.1 1187.1,263.3 1188.6,264.7C1190.0,266.1 1191.2,267.7 1192.0,269.4C1192.8,271.1 1193.0,273.9 1193.2,274.8"/>
<path class="ye" d="M1160.0,256.0C1160.6,256.8 1162.2,259.7 1163.5,261.0C1164.8,262.3 1166.4,262.8 1168.0,264.0C1169.6,265.2 1171.9,266.0 1173.0,268.0C1174.1,270.0 1173.8,273.5 1174.5,276.0C1175.2,278.5 1175.9,280.3 1177.0,283.0C1178.1,285.7 1180.6,289.8 1181.3,292.0C1182.0,294.2 1181.3,295.3 1181.3,296.0"/>
<path class="ye" d="M1174.6,269.6C1174.4,270.1 1174.2,271.7 1173.6,272.5C1173.0,273.3 1172.0,274.1 1171.1,274.4C1170.2,274.7 1169.0,274.7 1168.1,274.4C1167.2,274.1 1166.2,273.3 1165.6,272.5C1165.0,271.7 1164.6,270.6 1164.6,269.6C1164.6,268.6 1165.0,267.5 1165.6,266.7C1166.2,265.9 1167.2,265.1 1168.1,264.8C1169.0,264.5 1170.2,264.5 1171.1,264.8C1172.0,265.1 1173.0,265.9 1173.6,266.7C1174.2,267.5 1174.4,269.1 1174.6,269.6"/>
<path class="ye" d="M1172.4,269.2C1172.3,269.5 1172.2,270.6 1171.8,271.1C1171.4,271.6 1170.8,272.0 1170.2,272.2C1169.6,272.4 1168.8,272.4 1168.2,272.2C1167.6,272.0 1167.0,271.6 1166.6,271.1C1166.2,270.6 1166.0,269.8 1166.0,269.2C1166.0,268.6 1166.2,267.8 1166.6,267.3C1167.0,266.8 1167.6,266.4 1168.2,266.2C1168.8,266.0 1169.6,266.0 1170.2,266.2C1170.8,266.4 1171.4,266.8 1171.8,267.3C1172.2,267.8 1172.3,268.9 1172.4,269.2"/>
<path class="ye" d="M1173.2,272.0C1173.1,272.2 1173.0,272.9 1172.8,273.3C1172.5,273.7 1172.1,274.0 1171.7,274.1C1171.3,274.2 1170.7,274.2 1170.3,274.1C1169.9,274.0 1169.5,273.7 1169.2,273.3C1169.0,272.9 1168.8,272.4 1168.8,272.0C1168.8,271.6 1169.0,271.1 1169.2,270.7C1169.5,270.3 1169.9,270.0 1170.3,269.9C1170.7,269.8 1171.3,269.8 1171.7,269.9C1172.1,270.0 1172.5,270.3 1172.8,270.7C1173.0,271.1 1173.1,271.8 1173.2,272.0"/>
<path class="ye" d="M1180.0,286.0C1179.9,286.2 1179.8,286.9 1179.6,287.2C1179.4,287.5 1179.0,287.8 1178.6,287.9C1178.2,288.0 1177.8,288.0 1177.4,287.9C1177.0,287.8 1176.6,287.5 1176.4,287.2C1176.2,286.9 1176.0,286.4 1176.0,286.0C1176.0,285.6 1176.2,285.1 1176.4,284.8C1176.6,284.5 1177.0,284.2 1177.4,284.1C1177.8,284.0 1178.2,284.0 1178.6,284.1C1179.0,284.2 1179.4,284.5 1179.6,284.8C1179.8,285.1 1179.9,285.8 1180.0,286.0"/>
<path class="lgy" d="M1105.0,265.0C1099.2,267.5 1080.8,274.2 1070.0,280.0C1059.2,285.8 1050.0,293.3 1040.0,300.0C1030.0,306.7 1019.2,312.5 1010.0,320.0C1000.8,327.5 991.3,337.5 985.0,345.0C978.7,352.5 974.2,361.7 972.0,365.0"/>
<path class="lgy" d="M1230.0,160.0C1238.7,158.3 1263.3,151.9 1282.0,149.9C1300.7,147.9 1321.9,147.2 1341.9,147.9C1361.9,148.6 1381.9,152.2 1401.9,153.9C1421.9,155.6 1441.8,154.9 1461.8,157.9C1481.8,160.9 1505.0,164.6 1521.7,171.9C1538.4,179.2 1548.4,192.9 1561.7,201.9C1575.0,210.9 1591.7,219.8 1601.6,225.8C1611.5,231.8 1617.8,236.0 1621.0,238.0"/>
<path class="lgy" d="M1445.7,184.0C1451.7,187.0 1469.1,195.9 1481.8,201.9C1494.5,207.9 1508.4,212.8 1521.7,219.8C1535.0,226.8 1551.7,237.8 1561.7,243.8C1571.7,249.8 1578.3,253.8 1581.6,255.8"/>
<path class="lgy" d="M1400.0,190.0C1406.7,190.7 1430.3,193.0 1440.0,194.1C1449.7,195.2 1450.5,194.4 1458.1,196.8C1465.6,199.2 1476.2,205.1 1485.3,208.6C1494.4,212.1 1503.4,214.4 1512.5,217.6C1521.6,220.8 1530.6,223.5 1539.7,227.6C1548.8,231.7 1557.8,237.1 1566.9,242.1C1576.0,247.1 1586.4,252.1 1594.1,257.5C1601.8,262.9 1608.7,272.5 1613.2,274.8C1617.7,277.1 1619.7,272.1 1621.0,271.5"/>
<path class="lgy" d="M1440.0,164.2C1444.5,165.2 1458.1,169.2 1467.2,170.5C1476.3,171.8 1485.0,172.1 1494.4,172.3C1503.8,172.5 1518.6,171.9 1523.4,171.8"/>
<path class="lgy" d="M1180.0,137.7C1185.7,137.1 1200.0,136.6 1214.3,134.3C1228.6,132.0 1248.6,128.0 1265.7,124.0C1282.8,120.0 1302.8,114.0 1317.1,110.3C1331.4,106.6 1341.4,104.6 1351.4,101.7C1361.4,98.8 1369.9,94.9 1377.1,93.1C1384.2,91.3 1387.1,91.1 1394.3,91.1C1401.5,91.1 1411.7,92.3 1420.0,93.1C1428.3,93.9 1440.0,95.3 1444.0,95.7"/>
<path class="lgy" d="M1180.0,153.1C1185.7,150.8 1202.9,143.1 1214.3,139.4C1225.7,135.7 1234.3,134.6 1248.6,130.9C1262.9,127.2 1285.7,121.1 1300.0,117.1C1314.3,113.1 1322.9,110.0 1334.3,106.9C1345.7,103.8 1357.2,100.6 1368.6,98.3C1380.0,96.0 1393.8,94.2 1402.9,93.1C1412.0,92.0 1420.0,92.0 1423.4,91.8"/>
<path class="lgy" d="M1269.1,142.9C1274.2,140.0 1290.6,131.1 1300.0,125.7C1309.4,120.3 1317.1,114.6 1325.7,110.3C1334.3,106.0 1344.2,103.3 1351.4,100.0C1358.6,96.7 1365.7,92.2 1368.6,90.6"/>
<path class="lgy" d="M1306.9,141.5C1309.5,139.7 1316.3,134.5 1322.3,130.9C1328.3,127.3 1336.6,121.0 1342.9,119.7C1349.2,118.4 1355.2,121.2 1360.0,123.1C1364.8,125.0 1368.3,128.2 1372.0,130.9C1375.7,133.6 1380.6,137.7 1382.3,139.1"/>
<path class="lgy" d="M1300.0,129.1C1305.7,127.1 1322.9,121.4 1334.3,117.1C1345.7,112.8 1357.2,107.1 1368.6,103.4C1380.0,99.7 1394.3,96.5 1402.9,94.9C1411.5,93.3 1417.2,94.2 1420.0,94.0"/>
<path class="lgy" d="M1180.0,177.1C1184.3,176.0 1195.7,173.7 1205.7,170.3C1215.7,166.9 1230.0,160.9 1240.0,156.6C1250.0,152.3 1257.4,147.8 1265.7,144.6C1274.0,141.4 1281.1,138.7 1289.7,137.7C1298.3,136.7 1306.8,138.0 1317.1,138.6C1327.4,139.2 1340.0,139.5 1351.4,141.1C1362.8,142.7 1374.3,146.3 1385.7,148.0C1397.1,149.7 1408.6,150.4 1420.0,151.4C1431.4,152.4 1444.3,152.6 1454.3,154.0C1464.3,155.4 1468.8,157.0 1480.0,160.0C1491.2,163.0 1514.8,169.9 1521.7,171.9"/>
<path class="lgy" d="M1180.0,170.3C1187.2,168.6 1208.6,162.6 1222.9,160.0C1237.2,157.4 1250.0,156.3 1265.7,154.9C1281.4,153.5 1299.9,152.3 1317.1,151.4C1334.2,150.5 1351.4,148.8 1368.6,149.7C1385.8,150.6 1405.7,154.3 1420.0,156.6C1434.3,158.9 1444.3,161.1 1454.3,163.4C1464.3,165.7 1475.7,169.2 1480.0,170.3"/>
<path class="lgy" d="M1265.7,160.0C1269.1,160.6 1280.0,161.7 1286.3,163.4C1292.6,165.1 1296.3,170.9 1303.4,170.3C1310.5,169.7 1324.8,161.7 1329.1,160.0"/>
<path class="lgy" d="M1265.7,177.1C1272.8,177.8 1294.3,180.6 1308.6,181.4C1322.9,182.2 1340.7,182.0 1351.4,182.0C1362.1,182.0 1369.3,181.5 1372.9,181.4"/>
<path class="lgy" d="M1180.0,199.4C1187.2,198.6 1208.6,195.7 1222.9,194.3C1237.2,192.9 1250.0,191.8 1265.7,190.9C1281.4,190.0 1302.8,189.5 1317.1,189.1C1331.4,188.7 1338.8,188.0 1351.4,188.3C1364.0,188.6 1385.7,190.5 1392.6,190.9"/>
<path class="lgy" d="M1392.6,190.9C1392.7,190.0 1391.7,187.3 1393.4,185.7C1395.1,184.1 1398.5,182.2 1402.9,181.4C1407.3,180.6 1412.9,180.2 1420.0,180.6C1427.1,181.0 1441.4,183.4 1445.7,184.0"/>
<path class="lgy" d="M1257.1,196.0C1264.2,195.2 1287.1,190.6 1300.0,190.9C1312.9,191.2 1324.3,194.8 1334.3,197.7C1344.3,200.5 1352.0,203.7 1360.0,208.0C1368.0,212.3 1377.1,218.6 1382.3,223.4C1387.5,228.2 1389.3,233.9 1390.9,237.1C1392.5,240.2 1392.7,240.4 1391.7,242.3C1390.7,244.2 1386.0,247.3 1384.9,248.3"/>
<path class="lgy" d="M1320.6,206.3C1322.9,205.6 1329.2,202.0 1334.3,202.0C1339.4,202.0 1346.3,203.0 1351.4,206.3C1356.5,209.6 1362.2,216.3 1365.1,221.7C1368.0,227.1 1368.7,232.9 1368.6,238.9C1368.5,244.9 1366.6,253.4 1364.3,257.7C1362.0,262.0 1356.6,263.9 1354.9,264.6C1353.2,265.3 1352.9,263.0 1354.0,262.0C1355.1,261.0 1358.1,259.0 1361.7,258.6C1365.3,258.2 1373.1,259.3 1375.4,259.4"/>
<path class="lgy" d="M1363.4,211.4C1365.7,210.3 1370.5,205.4 1377.1,204.6C1383.7,203.8 1395.8,204.6 1402.9,206.3C1410.1,208.0 1414.3,211.2 1420.0,214.9C1425.7,218.6 1432.5,223.5 1437.1,228.6C1441.7,233.7 1446.2,240.0 1447.4,245.7C1448.6,251.4 1446.3,258.9 1444.0,262.9C1441.7,266.9 1435.7,268.8 1433.7,269.7C1431.7,270.6 1432.3,268.3 1432.0,268.0"/>
<path class="lgy" d="M1384.0,248.3C1386.6,249.9 1394.6,254.7 1399.4,257.7C1404.2,260.7 1410.8,264.9 1413.1,266.3"/>
<path class="lgy" d="M1392.6,237.1C1395.4,238.0 1405.1,239.2 1409.7,242.3C1414.3,245.5 1417.7,250.9 1420.0,256.0C1422.3,261.1 1424.0,267.4 1423.4,273.1C1422.8,278.8 1418.6,286.5 1416.6,290.3C1414.6,294.1 1414.2,294.9 1411.4,296.0C1408.6,297.1 1403.2,297.3 1400.0,297.0C1396.8,296.7 1393.3,294.5 1392.0,294.0"/>
<path class="lgy" d="M1424.3,275.7C1424.2,276.1 1424.0,277.2 1423.5,277.9C1423.0,278.5 1422.3,279.2 1421.4,279.6C1420.5,280.1 1419.4,280.4 1418.3,280.6C1417.2,280.8 1416.0,280.8 1414.9,280.6C1413.8,280.4 1412.7,280.1 1411.8,279.6C1410.9,279.2 1410.2,278.5 1409.7,277.9C1409.2,277.2 1408.9,276.4 1408.9,275.7C1408.9,275.0 1409.2,274.1 1409.7,273.5C1410.2,272.9 1410.9,272.2 1411.8,271.8C1412.7,271.4 1413.8,271.0 1414.9,270.8C1416.0,270.6 1417.2,270.6 1418.3,270.8C1419.4,271.0 1420.5,271.4 1421.4,271.8C1422.3,272.2 1423.0,272.9 1423.5,273.5C1424.0,274.1 1424.2,275.3 1424.3,275.7"/>
<path class="lgy" d="M1214.3,259.4C1217.2,258.0 1224.3,253.5 1231.4,250.9C1238.5,248.3 1250.8,245.2 1257.1,244.0C1263.4,242.8 1267.1,244.0 1269.1,244.0"/>
<path class="lgy" d="M1231.4,259.4C1235.7,257.7 1249.7,249.1 1257.1,249.1C1264.5,249.1 1270.8,256.0 1276.0,259.4C1281.2,262.8 1285.4,266.8 1288.0,269.7C1290.6,272.6 1290.8,275.5 1291.4,276.6"/>
<path class="lgy" d="M1298.1,276.6C1298.0,276.9 1297.9,277.8 1297.6,278.3C1297.3,278.8 1296.8,279.3 1296.2,279.7C1295.6,280.1 1294.9,280.4 1294.2,280.5C1293.5,280.6 1292.7,280.6 1292.0,280.5C1291.3,280.4 1290.6,280.1 1290.0,279.7C1289.4,279.3 1288.9,278.8 1288.6,278.3C1288.3,277.8 1288.1,277.2 1288.1,276.6C1288.1,276.0 1288.3,275.4 1288.6,274.9C1288.9,274.4 1289.4,273.9 1290.0,273.5C1290.6,273.1 1291.3,272.8 1292.0,272.7C1292.7,272.6 1293.5,272.6 1294.2,272.7C1294.9,272.8 1295.6,273.1 1296.2,273.5C1296.8,273.9 1297.3,274.4 1297.6,274.9C1297.9,275.4 1298.0,276.3 1298.1,276.6"/>
<path class="lgy" d="M1253.7,223.4C1257.4,224.6 1271.4,228.0 1276.0,230.3C1280.6,232.6 1281.1,235.1 1281.1,237.1C1281.1,239.1 1276.8,241.4 1276.0,242.3"/>
<path class="lgy" d="M1245.1,240.6C1244.8,242.6 1245.7,248.0 1243.4,252.6C1241.1,257.2 1236.2,264.0 1231.4,268.0C1226.6,272.0 1217.2,275.2 1214.3,276.6"/>
<path class="lgy" d="M1320.6,209.7C1321.0,210.6 1323.0,213.5 1323.0,215.0C1323.0,216.5 1321.3,218.5 1320.6,218.5C1319.8,218.5 1318.5,216.5 1318.5,215.0C1318.5,213.5 1320.2,210.6 1320.6,209.7"/>
<path class="ye" d="M1291.4,278.3C1292.6,277.9 1296.0,275.1 1298.3,275.7C1300.6,276.3 1303.4,279.1 1305.1,281.7C1306.8,284.3 1304.9,288.8 1308.6,291.1C1312.3,293.4 1324.3,294.7 1327.4,295.4"/>
<path class="ye" d="M1296.5,277.0C1296.4,277.3 1296.2,278.4 1295.8,278.8C1295.4,279.2 1294.6,279.5 1294.0,279.5C1293.4,279.5 1292.6,279.2 1292.2,278.8C1291.8,278.4 1291.5,277.6 1291.5,277.0C1291.5,276.4 1291.8,275.6 1292.2,275.2C1292.6,274.8 1293.4,274.5 1294.0,274.5C1294.6,274.5 1295.4,274.8 1295.8,275.2C1296.2,275.6 1296.4,276.7 1296.5,277.0"/>
<path class="lgy" d="M1083.3,160.0C1090.0,158.6 1108.3,155.3 1123.3,151.7C1138.3,148.1 1159.4,141.4 1173.3,138.3C1187.2,135.2 1193.1,134.7 1206.7,133.3C1220.3,131.9 1247.0,130.6 1255.0,130.0"/>
<path class="lgy" d="M1093.3,168.3C1101.1,166.6 1125.5,161.6 1140.0,158.3C1154.5,155.0 1166.1,151.1 1180.0,148.3C1193.9,145.5 1206.3,143.6 1223.3,141.7C1240.3,139.8 1272.2,137.5 1282.0,136.7"/>
<path class="lgy" d="M1156.7,163.3C1160.6,161.9 1171.7,156.5 1180.0,155.0C1188.3,153.5 1196.7,155.6 1206.7,154.2C1216.7,152.8 1227.5,149.1 1240.0,146.7C1252.5,144.3 1275.0,141.1 1282.0,140.0"/>
<path class="lgy" d="M1160.0,183.3C1161.1,181.4 1163.7,175.6 1166.7,171.7C1169.8,167.8 1175.0,162.8 1178.3,160.0C1181.6,157.2 1185.3,155.8 1186.7,155.0"/>
<path class="lgy" d="M1106.7,200.0C1112.2,198.9 1127.8,196.6 1140.0,193.3C1152.2,190.0 1166.1,183.3 1180.0,180.0C1193.9,176.7 1206.3,175.0 1223.3,173.3C1240.3,171.6 1272.2,170.6 1282.0,170.0"/>
</g>
<line class="grid" x1="300.00" y1="89.5" x2="300.00" y2="1052.3"/>
<line class="grid" x1="740.50" y1="89.5" x2="740.50" y2="1052.3"/>
<line class="grid" x1="1181.00" y1="89.5" x2="1181.00" y2="1052.3"/>
<line class="grid" x1="1621.50" y1="89.5" x2="1621.50" y2="1052.3"/>
<line class="grid" x1="80.5" y1="310.45" x2="1621.5" y2="310.45"/>
<line class="grid" x1="80.5" y1="538.80" x2="1621.5" y2="538.80"/>
<line class="grid" x1="80.5" y1="782.26" x2="1621.5" y2="782.26"/>
<line class="grid" x1="80.5" y1="1051.82" x2="1621.5" y2="1051.82"/>
<rect x="80.5" y="89.5" width="1541.0" height="962.80" fill="none" stroke="#000" stroke-width="1.1"/>
<path class="hres" d="M1017.3,258.0C1018.0,257.0 1019.2,255.6 1021.5,252.0C1023.8,248.4 1027.7,241.0 1031.2,236.5C1034.7,232.0 1039.3,227.6 1042.7,225.0C1046.1,222.4 1047.6,222.0 1051.4,221.0C1055.2,220.0 1061.6,219.6 1065.8,219.2C1070.0,218.8 1072.7,218.4 1076.7,218.3C1080.7,218.2 1085.6,218.4 1090.0,218.7C1094.4,219.0 1097.8,220.3 1103.3,220.0C1108.8,219.7 1117.7,216.9 1123.3,217.0C1128.9,217.1 1131.7,219.2 1136.7,220.8C1141.7,222.4 1148.9,225.9 1153.3,226.7C1157.7,227.4 1160.0,225.9 1163.3,225.3C1166.6,224.7 1168.8,223.5 1173.3,223.3C1177.8,223.1 1184.4,223.5 1190.0,224.2C1195.6,224.9 1201.2,227.2 1206.7,227.5C1212.2,227.8 1218.0,226.4 1223.3,226.3C1228.6,226.2 1235.8,226.6 1238.3,226.7"/>
<path class="hres2" d="M1238.3,226.7C1239.1,226.5 1240.2,226.8 1243.3,225.8C1246.4,224.8 1251.7,223.2 1256.7,220.8C1261.7,218.5 1269.1,214.2 1273.3,211.7C1277.5,209.2 1277.2,207.7 1282.0,205.8C1286.8,203.9 1292.0,201.5 1302.0,200.3C1312.0,199.2 1329.6,199.5 1341.9,198.9C1354.2,198.3 1365.2,196.4 1375.9,196.5C1386.6,196.6 1397.6,197.6 1405.9,199.5C1414.2,201.4 1419.8,205.2 1425.8,207.9C1431.8,210.6 1437.1,212.8 1441.8,215.8C1446.5,218.8 1450.1,221.8 1453.8,225.8C1457.5,229.8 1461.3,235.1 1463.8,239.8C1466.3,244.5 1467.9,249.8 1468.8,253.8C1469.7,257.8 1469.9,261.1 1469.4,263.8C1468.9,266.5 1466.4,268.8 1465.8,269.8"/>
<path class="hres2" d="M1456.8,272.8C1458.3,272.3 1463.1,269.8 1465.8,270.0C1468.5,270.2 1470.8,272.2 1472.8,273.8C1474.8,275.4 1477.0,278.0 1477.8,279.8C1478.6,281.6 1478.2,284.1 1477.4,284.8C1476.6,285.5 1473.6,284.3 1472.8,284.2"/>
<path class="ana" d="M1012.1,253.3C1013.0,254.2 1015.7,258.8 1017.3,258.5C1018.9,258.2 1020.4,253.9 1021.9,251.5C1023.4,249.1 1025.6,246.2 1026.5,244.0C1027.4,241.8 1027.4,240.3 1027.4,238.3C1027.5,236.3 1026.5,233.7 1026.8,231.9C1027.0,230.1 1027.7,228.7 1028.9,227.3C1030.1,225.9 1032.8,224.8 1034.0,223.3C1035.2,221.8 1035.4,219.7 1036.1,218.1C1036.8,216.5 1037.0,214.7 1038.1,213.5C1039.2,212.3 1041.1,211.7 1042.7,211.2C1044.3,210.7 1046.8,210.2 1047.9,210.3C1049.1,210.4 1049.4,210.4 1049.6,211.7C1049.8,213.0 1049.6,216.2 1049.3,218.1C1049.0,220.0 1047.9,222.4 1047.6,223.3"/>
<path class="ana" d="M1049.3,218.6C1050.1,218.5 1051.5,218.3 1054.2,218.1C1057.0,217.9 1060.7,217.8 1065.8,217.2C1070.9,216.6 1078.2,215.4 1085.0,214.6C1091.8,213.8 1100.3,213.0 1106.7,212.5C1113.1,212.0 1117.8,212.8 1123.3,211.7C1128.8,210.6 1133.3,208.5 1140.0,205.8C1146.7,203.2 1156.6,197.9 1163.3,195.8C1170.0,193.7 1174.2,193.8 1180.0,193.0C1185.8,192.2 1192.2,191.6 1198.3,190.8C1204.4,190.0 1210.3,189.8 1216.7,188.3C1223.1,186.8 1231.2,183.1 1236.7,181.7C1242.2,180.3 1245.3,180.2 1250.0,180.0C1254.7,179.8 1259.7,180.6 1265.0,180.8C1270.3,181.0 1272.5,182.1 1282.0,181.3C1291.5,180.5 1308.7,177.7 1322.0,175.9C1335.3,174.1 1348.6,172.0 1361.9,170.3C1375.2,168.6 1392.6,166.2 1401.9,165.5C1411.2,164.8 1411.2,166.5 1417.8,165.9C1424.4,165.3 1434.0,163.1 1441.8,161.9C1449.6,160.7 1461.0,159.1 1464.8,158.5"/>
<text class="tk" x="300.00" y="1083.3" text-anchor="middle">40°E</text>
<text class="tk" x="740.50" y="1083.3" text-anchor="middle">60°E</text>
<text class="tk" x="1181.00" y="1083.3" text-anchor="middle">80°E</text>
<text class="tk" x="1619.90" y="1083.3" text-anchor="middle">100°E</text>
<text class="tk" x="64" y="316.15" text-anchor="end">10°S</text>
<text class="tk" x="64" y="544.50" text-anchor="end">20°S</text>
<text class="tk" x="64" y="787.96" text-anchor="end">30°S</text>
<text class="tc" x="1578.9" y="277.4">↺</text>
<text class="tc" x="1549.7" y="284.0">↺</text>
<text class="tc" x="1503.0" y="292.8">↺</text>
<text class="tc" x="1488.8" y="298.5">↺</text>
<text class="tc" x="1434.2" y="324.8">↺</text>
<text class="tc" x="1417.2" y="336.1">↺</text>
<text class="tc" x="1424.7" y="339.3">↺</text>
<text class="tc" x="1450.8" y="337.0">↺</text>
<text class="tc" x="1470.9" y="339.3">↺</text>
<rect x="1274" y="874.2" width="339.7" height="169.3" rx="3.5" ry="3.5" fill="#fff" fill-opacity="0.8" stroke="#000" stroke-width="1.39"/>
<line x1="1281" y1="887.2" x2="1314.5" y2="887.2" stroke="#696969" stroke-width="1.39"/>
<text class="lg" x="1326.6" y="892.8">No Interception</text>
<line x1="1281" y1="910.4" x2="1314.5" y2="910.4" stroke="#ff4500" stroke-width="1.39"/>
<text class="lg" x="1326.6" y="916.0">Interception from Named cyclone</text>
<line x1="1281" y1="933.8" x2="1314.5" y2="933.8" stroke="#808000" stroke-width="1.39"/>
<text class="lg" x="1326.6" y="939.4">Interception from Trochoid</text>
<line x1="1281" y1="957.6" x2="1314.5" y2="957.6" stroke="#008000" stroke-width="1.39"/>
<text class="lg" x="1326.6" y="963.2">Interception from both</text>
<line x1="1281" y1="980.2" x2="1314.5" y2="980.2" stroke="#8b008b" stroke-width="4.17" stroke-linecap="square"/>
<text class="lg" x="1326.6" y="985.8">HRES</text>
<line x1="1281" y1="1003.4" x2="1314.5" y2="1003.4" stroke="#000" stroke-width="4.17" stroke-linecap="square"/>
<text class="lg" x="1326.6" y="1009.0">Analysis | 232h duration</text>
<text class="b" x="1299" y="1036.4" text-anchor="middle" font-size="16.5" stroke="#000" stroke-width="0.7">↺</text>
<text class="lg" x="1326.6" y="1033.6">TC obs. for analysis duration</text>
<rect x="1665.5" y="910.65" width="20.0" height="29.25" fill="#e3eef9"/>
<rect x="1665.5" y="881.81" width="20.0" height="29.25" fill="#dceaf6"/>
<rect x="1665.5" y="852.96" width="20.0" height="29.25" fill="#d5e5f4"/>
<rect x="1665.5" y="824.12" width="20.0" height="29.25" fill="#cee0f2"/>
<rect x="1665.5" y="795.27" width="20.0" height="29.25" fill="#c7dcef"/>
<rect x="1665.5" y="766.42" width="20.0" height="29.25" fill="#bdd7ec"/>
<rect x="1665.5" y="737.58" width="20.0" height="29.25" fill="#b2d2e8"/>
<rect x="1665.5" y="708.73" width="20.0" height="29.25" fill="#a5cde3"/>
<rect x="1665.5" y="679.88" width="20.0" height="29.25" fill="#99c7e0"/>
<rect x="1665.5" y="651.04" width="20.0" height="29.25" fill="#8abfdd"/>
<rect x="1665.5" y="622.19" width="20.0" height="29.25" fill="#7cb7da"/>
<rect x="1665.5" y="593.35" width="20.0" height="29.25" fill="#6dafd7"/>
<rect x="1665.5" y="564.50" width="20.0" height="29.25" fill="#60a7d2"/>
<rect x="1665.5" y="535.65" width="20.0" height="29.25" fill="#549fcd"/>
<rect x="1665.5" y="506.81" width="20.0" height="29.25" fill="#4997c9"/>
<rect x="1665.5" y="477.96" width="20.0" height="29.25" fill="#3e8ec4"/>
<rect x="1665.5" y="449.12" width="20.0" height="29.25" fill="#3484bf"/>
<rect x="1665.5" y="420.27" width="20.0" height="29.25" fill="#2b7bba"/>
<rect x="1665.5" y="391.42" width="20.0" height="29.25" fill="#2171b5"/>
<rect x="1665.5" y="362.58" width="20.0" height="29.25" fill="#1a68ae"/>
<rect x="1665.5" y="333.73" width="20.0" height="29.25" fill="#135fa7"/>
<rect x="1665.5" y="304.88" width="20.0" height="29.25" fill="#0b559f"/>
<rect x="1665.5" y="276.04" width="20.0" height="29.25" fill="#084c95"/>
<rect x="1665.5" y="247.19" width="20.0" height="29.25" fill="#084387"/>
<rect x="1665.5" y="218.35" width="20.0" height="29.25" fill="#083979"/>
<rect x="1665.5" y="189.50" width="20.0" height="29.25" fill="#08306b"/>
<rect x="1665.5" y="189.5" width="20.0" height="750.0" fill="none" stroke="#000" stroke-width="1.1"/>
<line x1="1685.5" y1="939.50" x2="1690.7" y2="939.50" stroke="#000" stroke-width="1.1"/>
<text class="cb" x="1695.2" y="945.00">0</text>
<line x1="1685.5" y1="795.27" x2="1690.7" y2="795.27" stroke="#000" stroke-width="1.1"/>
<text class="cb" x="1695.2" y="800.77">10</text>
<line x1="1685.5" y1="651.04" x2="1690.7" y2="651.04" stroke="#000" stroke-width="1.1"/>
<text class="cb" x="1695.2" y="656.54">20</text>
<line x1="1685.5" y1="506.81" x2="1690.7" y2="506.81" stroke="#000" stroke-width="1.1"/>
<text class="cb" x="1695.2" y="512.31">30</text>
<line x1="1685.5" y1="362.58" x2="1690.7" y2="362.58" stroke="#000" stroke-width="1.1"/>
<text class="cb" x="1695.2" y="368.08">40</text>
<line x1="1685.5" y1="218.35" x2="1690.7" y2="218.35" stroke="#000" stroke-width="1.1"/>
<text class="cb" x="1695.2" y="223.85">50</text>
<text class="b" font-size="19.4" text-anchor="middle" transform="translate(1737,624.3) rotate(-90)">Named cyclones forecast - Number of EPS within 120km</text>
<rect x="25.5" y="1137.5" width="41.5" height="41.0" fill="#9e0142"/>
<rect x="66.5" y="1137.5" width="41.5" height="41.0" fill="#9e0142"/>
<rect x="107.5" y="1137.5" width="41.5" height="41.0" fill="#9e0142"/>
<rect x="148.5" y="1137.5" width="41.5" height="41.0" fill="#9e0142"/>
<rect x="189.5" y="1137.5" width="41.5" height="41.0" fill="#9e0142"/>
<rect x="230.5" y="1137.5" width="41.5" height="41.0" fill="#9e0142"/>
<rect x="271.5" y="1137.5" width="41.5" height="41.0" fill="#9e0142"/>
<rect x="312.5" y="1137.5" width="41.5" height="41.0" fill="#9e0142"/>
<rect x="353.5" y="1137.5" width="41.5" height="41.0" fill="#9e0142"/>
<rect x="394.5" y="1137.5" width="41.5" height="41.0" fill="#9e0142"/>
<rect x="435.5" y="1137.5" width="41.5" height="41.0" fill="#9e0142"/>
<rect x="476.5" y="1137.5" width="41.5" height="41.0" fill="#9e0142"/>
<rect x="517.5" y="1137.5" width="41.5" height="41.0" fill="#9e0142"/>
<rect x="558.5" y="1137.5" width="41.5" height="41.0" fill="#9e0142"/>
<rect x="599.5" y="1137.5" width="41.5" height="41.0" fill="#9e0142"/>
<rect x="640.5" y="1137.5" width="41.5" height="41.0" fill="#9e0142"/>
<rect x="681.5" y="1137.5" width="41.5" height="41.0" fill="#9e0142"/>
<rect x="722.5" y="1137.5" width="41.5" height="41.0" fill="#a90d45"/>
<text class="cv" x="743.0" y="1161.5">2</text>
<rect x="763.5" y="1137.5" width="41.5" height="41.0" fill="#a90d45"/>
<text class="cv" x="784.0" y="1161.5">2</text>
<rect x="804.5" y="1137.5" width="41.5" height="41.0" fill="#a90d45"/>
<text class="cv" x="825.0" y="1161.5">2</text>
<rect x="845.5" y="1137.5" width="41.5" height="41.0" fill="#b41947"/>
<text class="cv" x="866.0" y="1161.5">4</text>
<rect x="886.5" y="1137.5" width="41.5" height="41.0" fill="#be254a"/>
<text class="cv" x="907.0" y="1161.5">6</text>
<rect x="927.5" y="1137.5" width="41.5" height="41.0" fill="#be254a"/>
<text class="cv" x="948.0" y="1161.5">6</text>
<rect x="968.5" y="1137.5" width="41.5" height="41.0" fill="#be254a"/>
<text class="cv" x="989.0" y="1161.5">6</text>
<rect x="1009.5" y="1137.5" width="41.5" height="41.0" fill="#be254a"/>
<text class="cv" x="1030.0" y="1161.5">6</text>
<rect x="1050.5" y="1137.5" width="41.5" height="41.0" fill="#be254a"/>
<text class="cv" x="1071.0" y="1161.5">6</text>
<rect x="1091.5" y="1137.5" width="41.5" height="41.0" fill="#be254a"/>
<text class="cv" x="1112.0" y="1161.5">6</text>
<rect x="1132.5" y="1137.5" width="41.5" height="41.0" fill="#be254a"/>
<text class="cv" x="1153.0" y="1161.5">6</text>
<rect x="1173.5" y="1137.5" width="41.5" height="41.0" fill="#be254a"/>
<text class="cv" x="1194.0" y="1161.5">6</text>
<rect x="1214.5" y="1137.5" width="41.5" height="41.0" fill="#be254a"/>
<text class="cv" x="1235.0" y="1161.5">6</text>
<rect x="1255.5" y="1137.5" width="41.5" height="41.0" fill="#be254a"/>
<text class="cv" x="1276.0" y="1161.5">6</text>
<rect x="1296.5" y="1137.5" width="41.5" height="41.0" fill="#be254a"/>
<text class="cv" x="1317.0" y="1161.5">6</text>
<rect x="1337.5" y="1137.5" width="41.5" height="41.0" fill="#be254a"/>
<text class="cv" x="1358.0" y="1161.5">6</text>
<rect x="1378.5" y="1137.5" width="41.5" height="41.0" fill="#be254a"/>
<text class="cv" x="1399.0" y="1161.5">6</text>
<rect x="1419.5" y="1137.5" width="41.5" height="41.0" fill="#be254a"/>
<text class="cv" x="1440.0" y="1161.5">6</text>
<rect x="1460.5" y="1137.5" width="41.5" height="41.0" fill="#be254a"/>
<text class="cv" x="1481.0" y="1161.5">6</text>
<rect x="1501.5" y="1137.5" width="41.5" height="41.0" fill="#c9314c"/>
<text class="cv" x="1522.0" y="1161.5">8</text>
<rect x="1542.5" y="1137.5" width="41.5" height="41.0" fill="#d43d4f"/>
<text class="cv" x="1563.0" y="1161.5">10</text>
<rect x="1583.5" y="1137.5" width="41.5" height="41.0" fill="#d43d4f"/>
<text class="cv" x="1604.0" y="1161.5">10</text>
<rect x="1624.5" y="1137.5" width="41.5" height="41.0" fill="#da464d"/>
<text class="cv" x="1645.0" y="1161.5">12</text>
<rect x="25.5" y="1137.5" width="1640.0" height="41.0" fill="none" stroke="#000" stroke-width="1.1"/>
<line x1="20.6" y1="1158" x2="25.5" y2="1158" stroke="#000" stroke-width="1.1"/>
<line x1="25.5" y1="1178.5" x2="25.5" y2="1183.7" stroke="#000" stroke-width="1.1"/>
<text class="bt" x="25.8" y="1199.8">0h</text>
<line x1="66.5" y1="1178.5" x2="66.5" y2="1183.7" stroke="#000" stroke-width="1.1"/>
<line x1="107.5" y1="1178.5" x2="107.5" y2="1183.7" stroke="#000" stroke-width="1.1"/>
<line x1="148.5" y1="1178.5" x2="148.5" y2="1183.7" stroke="#000" stroke-width="1.1"/>
<line x1="189.5" y1="1178.5" x2="189.5" y2="1183.7" stroke="#000" stroke-width="1.1"/>
<text class="bt" x="189.8" y="1199.8">12h</text>
<line x1="230.5" y1="1178.5" x2="230.5" y2="1183.7" stroke="#000" stroke-width="1.1"/>
<line x1="271.5" y1="1178.5" x2="271.5" y2="1183.7" stroke="#000" stroke-width="1.1"/>
<line x1="312.5" y1="1178.5" x2="312.5" y2="1183.7" stroke="#000" stroke-width="1.1"/>
<line x1="353.5" y1="1178.5" x2="353.5" y2="1183.7" stroke="#000" stroke-width="1.1"/>
<text class="bt" x="353.8" y="1199.8">24h</text>
<line x1="394.5" y1="1178.5" x2="394.5" y2="1183.7" stroke="#000" stroke-width="1.1"/>
<line x1="435.5" y1="1178.5" x2="435.5" y2="1183.7" stroke="#000" stroke-width="1.1"/>
<line x1="476.5" y1="1178.5" x2="476.5" y2="1183.7" stroke="#000" stroke-width="1.1"/>
<line x1="517.5" y1="1178.5" x2="517.5" y2="1183.7" stroke="#000" stroke-width="1.1"/>
<text class="bt" x="517.8" y="1199.8">36h</text>
<line x1="558.5" y1="1178.5" x2="558.5" y2="1183.7" stroke="#000" stroke-width="1.1"/>
<line x1="599.5" y1="1178.5" x2="599.5" y2="1183.7" stroke="#000" stroke-width="1.1"/>
<line x1="640.5" y1="1178.5" x2="640.5" y2="1183.7" stroke="#000" stroke-width="1.1"/>
<line x1="681.5" y1="1178.5" x2="681.5" y2="1183.7" stroke="#000" stroke-width="1.1"/>
<text class="bt" x="681.8" y="1199.8">48h</text>
<line x1="722.5" y1="1178.5" x2="722.5" y2="1183.7" stroke="#000" stroke-width="1.1"/>
<line x1="763.5" y1="1178.5" x2="763.5" y2="1183.7" stroke="#000" stroke-width="1.1"/>
<line x1="804.5" y1="1178.5" x2="804.5" y2="1183.7" stroke="#000" stroke-width="1.1"/>
<line x1="845.5" y1="1178.5" x2="845.5" y2="1183.7" stroke="#000" stroke-width="1.1"/>
<text class="bt" x="845.8" y="1199.8">60h</text>
<line x1="886.5" y1="1178.5" x2="886.5" y2="1183.7" stroke="#000" stroke-width="1.1"/>
<line x1="927.5" y1="1178.5" x2="927.5" y2="1183.7" stroke="#000" stroke-width="1.1"/>
<line x1="968.5" y1="1178.5" x2="968.5" y2="1183.7" stroke="#000" stroke-width="1.1"/>
<line x1="1009.5" y1="1178.5" x2="1009.5" y2="1183.7" stroke="#000" stroke-width="1.1"/>
<text class="bt" x="1009.8" y="1199.8">72h</text>
<line x1="1050.5" y1="1178.5" x2="1050.5" y2="1183.7" stroke="#000" stroke-width="1.1"/>
<line x1="1091.5" y1="1178.5" x2="1091.5" y2="1183.7" stroke="#000" stroke-width="1.1"/>
<line x1="1132.5" y1="1178.5" x2="1132.5" y2="1183.7" stroke="#000" stroke-width="1.1"/>
<line x1="1173.5" y1="1178.5" x2="1173.5" y2="1183.7" stroke="#000" stroke-width="1.1"/>
<text class="bt" x="1173.8" y="1199.8">84h</text>
<line x1="1214.5" y1="1178.5" x2="1214.5" y2="1183.7" stroke="#000" stroke-width="1.1"/>
<line x1="1255.5" y1="1178.5" x2="1255.5" y2="1183.7" stroke="#000" stroke-width="1.1"/>
<line x1="1296.5" y1="1178.5" x2="1296.5" y2="1183.7" stroke="#000" stroke-width="1.1"/>
<line x1="1337.5" y1="1178.5" x2="1337.5" y2="1183.7" stroke="#000" stroke-width="1.1"/>
<text class="bt" x="1337.8" y="1199.8">96h</text>
<line x1="1378.5" y1="1178.5" x2="1378.5" y2="1183.7" stroke="#000" stroke-width="1.1"/>
<line x1="1419.5" y1="1178.5" x2="1419.5" y2="1183.7" stroke="#000" stroke-width="1.1"/>
<line x1="1460.5" y1="1178.5" x2="1460.5" y2="1183.7" stroke="#000" stroke-width="1.1"/>
<line x1="1501.5" y1="1178.5" x2="1501.5" y2="1183.7" stroke="#000" stroke-width="1.1"/>
<text class="bt" x="1501.8" y="1199.8">108h</text>
<line x1="1542.5" y1="1178.5" x2="1542.5" y2="1183.7" stroke="#000" stroke-width="1.1"/>
<line x1="1583.5" y1="1178.5" x2="1583.5" y2="1183.7" stroke="#000" stroke-width="1.1"/>
<line x1="1624.5" y1="1178.5" x2="1624.5" y2="1183.7" stroke="#000" stroke-width="1.1"/>
<line x1="1665.5" y1="1178.5" x2="1665.5" y2="1183.7" stroke="#000" stroke-width="1.1"/>
<text class="bt" x="1665.8" y="1199.8">120h</text>
<text class="h" x="864.6" y="1121" text-anchor="middle">Percentage of flying ballons within a TC as a function of flight time</text>
</svg></body></html>
